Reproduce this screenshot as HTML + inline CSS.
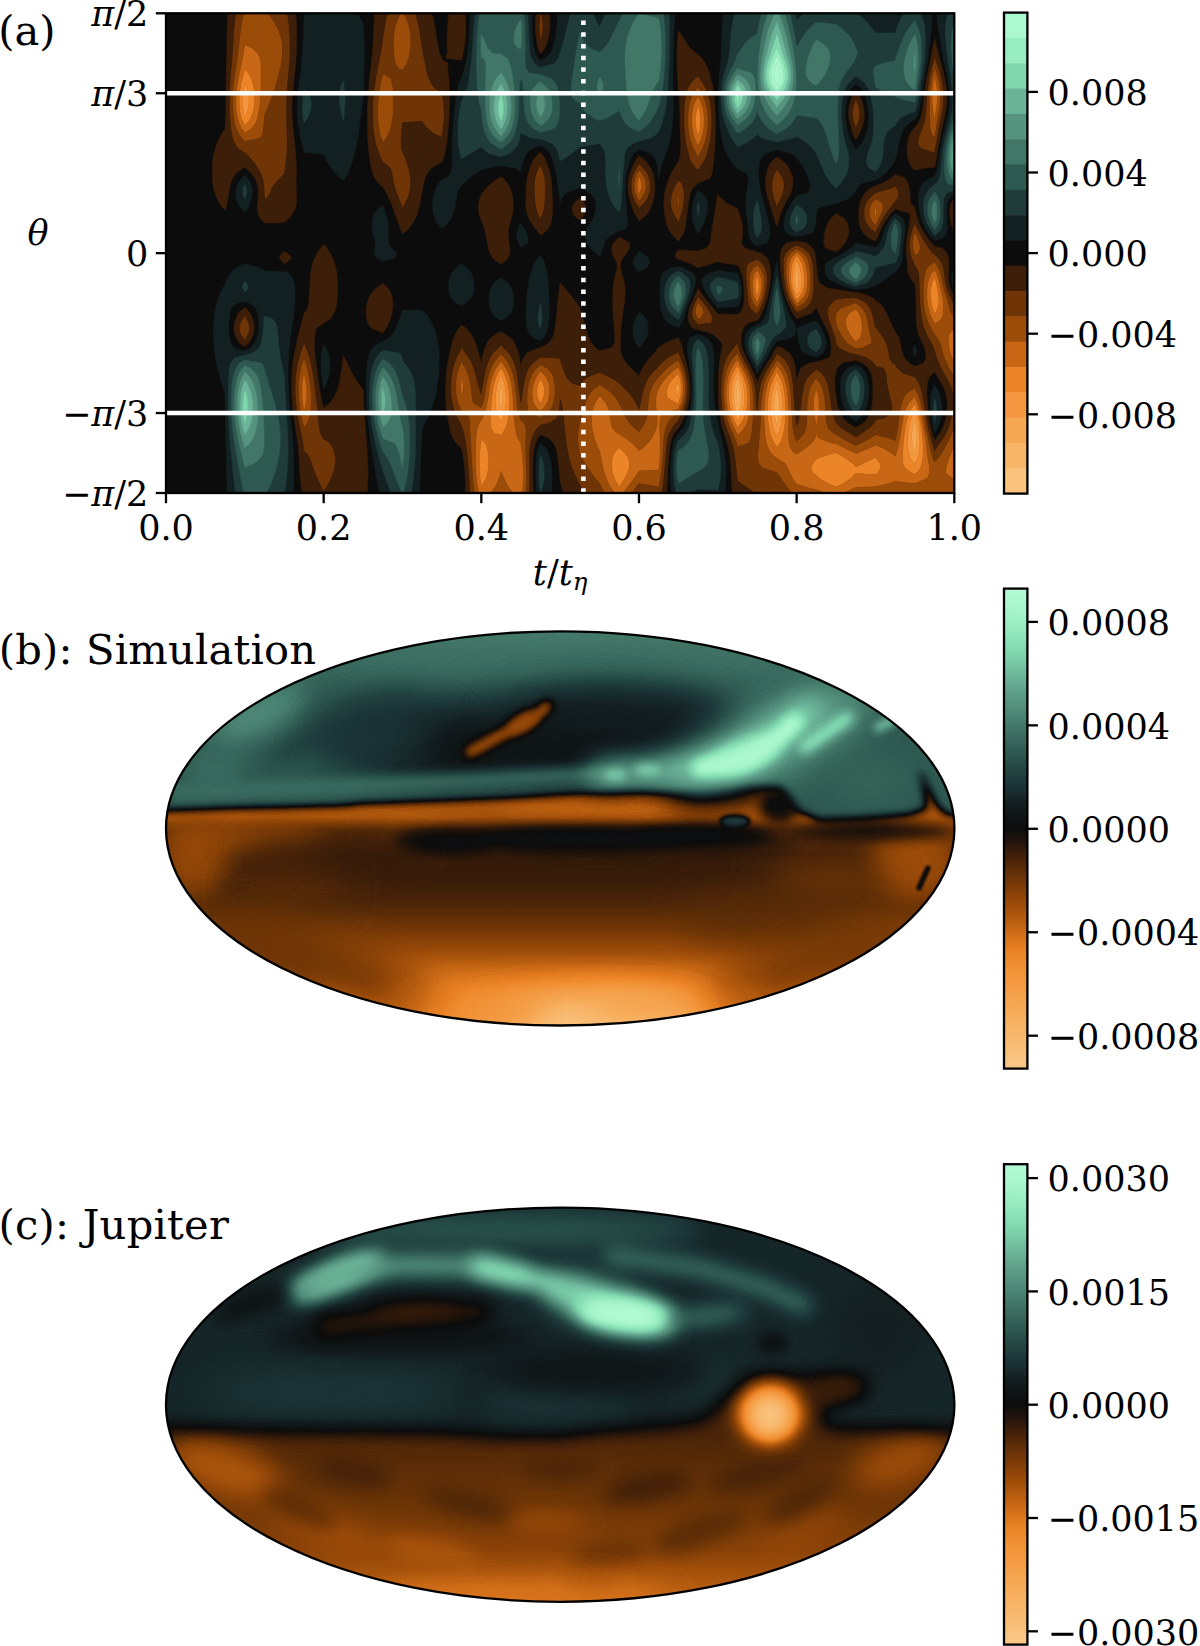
<!DOCTYPE html>
<html lang="en"><head><meta charset="utf-8"><title>Figure</title>
<style>html,body{margin:0;padding:0;background:#fff}svg{display:block}</style></head>
<body>
<svg width="1200" height="1646" viewBox="0 0 1200 1646">
<rect width="1200" height="1646" fill="#fff"/>
<defs>
<linearGradient id="gb" x1="0" y1="0" x2="0" y2="1"><stop offset="0.0000" stop-color="#b5fbd5"/><stop offset="0.0250" stop-color="#adf8cf"/><stop offset="0.0500" stop-color="#a4f4c9"/><stop offset="0.0750" stop-color="#99edc1"/><stop offset="0.1000" stop-color="#8ee4ba"/><stop offset="0.1250" stop-color="#83d9b1"/><stop offset="0.1500" stop-color="#79cca7"/><stop offset="0.1750" stop-color="#6fbb9d"/><stop offset="0.2000" stop-color="#65a991"/><stop offset="0.2250" stop-color="#5b9a85"/><stop offset="0.2500" stop-color="#518d7a"/><stop offset="0.2750" stop-color="#477f6e"/><stop offset="0.3000" stop-color="#3e7063"/><stop offset="0.3250" stop-color="#356258"/><stop offset="0.3500" stop-color="#2c544d"/><stop offset="0.3750" stop-color="#234642"/><stop offset="0.4000" stop-color="#1e393a"/><stop offset="0.4250" stop-color="#182c2e"/><stop offset="0.4500" stop-color="#131e20"/><stop offset="0.4750" stop-color="#0f1416"/><stop offset="0.5000" stop-color="#0c0c0c"/><stop offset="0.5250" stop-color="#21130b"/><stop offset="0.5500" stop-color="#391d09"/><stop offset="0.5750" stop-color="#532808"/><stop offset="0.6000" stop-color="#6a3307"/><stop offset="0.6250" stop-color="#803d07"/><stop offset="0.6500" stop-color="#964808"/><stop offset="0.6750" stop-color="#aa550c"/><stop offset="0.7000" stop-color="#bf6213"/><stop offset="0.7250" stop-color="#d5721b"/><stop offset="0.7500" stop-color="#e67f23"/><stop offset="0.7750" stop-color="#ee8a2e"/><stop offset="0.8000" stop-color="#f2943a"/><stop offset="0.8250" stop-color="#f49b43"/><stop offset="0.8500" stop-color="#f5a24c"/><stop offset="0.8750" stop-color="#f6a956"/><stop offset="0.9000" stop-color="#f8b060"/><stop offset="0.9250" stop-color="#f8b66a"/><stop offset="0.9500" stop-color="#f9bc74"/><stop offset="0.9750" stop-color="#fac27e"/><stop offset="1.0000" stop-color="#fac888"/></linearGradient>
<linearGradient id="gc" x1="0" y1="0" x2="0" y2="1"><stop offset="0.0000" stop-color="#b5fbd5"/><stop offset="0.0250" stop-color="#adf8cf"/><stop offset="0.0500" stop-color="#a4f4c9"/><stop offset="0.0750" stop-color="#99edc1"/><stop offset="0.1000" stop-color="#8ee4ba"/><stop offset="0.1250" stop-color="#83d9b1"/><stop offset="0.1500" stop-color="#79cca7"/><stop offset="0.1750" stop-color="#6fbb9d"/><stop offset="0.2000" stop-color="#65a991"/><stop offset="0.2250" stop-color="#5b9a85"/><stop offset="0.2500" stop-color="#518d7a"/><stop offset="0.2750" stop-color="#477f6e"/><stop offset="0.3000" stop-color="#3e7063"/><stop offset="0.3250" stop-color="#356258"/><stop offset="0.3500" stop-color="#2c544d"/><stop offset="0.3750" stop-color="#234642"/><stop offset="0.4000" stop-color="#1e393a"/><stop offset="0.4250" stop-color="#182c2e"/><stop offset="0.4500" stop-color="#131e20"/><stop offset="0.4750" stop-color="#0f1416"/><stop offset="0.5000" stop-color="#0c0c0c"/><stop offset="0.5250" stop-color="#21130b"/><stop offset="0.5500" stop-color="#391d09"/><stop offset="0.5750" stop-color="#532808"/><stop offset="0.6000" stop-color="#6a3307"/><stop offset="0.6250" stop-color="#803d07"/><stop offset="0.6500" stop-color="#964808"/><stop offset="0.6750" stop-color="#aa550c"/><stop offset="0.7000" stop-color="#bf6213"/><stop offset="0.7250" stop-color="#d5721b"/><stop offset="0.7500" stop-color="#e67f23"/><stop offset="0.7750" stop-color="#ee8a2e"/><stop offset="0.8000" stop-color="#f2943a"/><stop offset="0.8250" stop-color="#f49b43"/><stop offset="0.8500" stop-color="#f5a24c"/><stop offset="0.8750" stop-color="#f6a956"/><stop offset="0.9000" stop-color="#f8b060"/><stop offset="0.9250" stop-color="#f8b66a"/><stop offset="0.9500" stop-color="#f9bc74"/><stop offset="0.9750" stop-color="#fac27e"/><stop offset="1.0000" stop-color="#fac888"/></linearGradient>
<filter id="cm" x="0" y="0" width="1" height="1" color-interpolation-filters="sRGB"><feComponentTransfer><feFuncR type="table" tableValues="0.980 0.979 0.978 0.977 0.975 0.974 0.973 0.970 0.967 0.963 0.959 0.956 0.952 0.947 0.938 0.929 0.904 0.868 0.815 0.761 0.707 0.657 0.608 0.557 0.504 0.450 0.395 0.338 0.276 0.212 0.149 0.098 0.047 0.054 0.062 0.071 0.084 0.098 0.111 0.124 0.137 0.158 0.179 0.202 0.224 0.247 0.271 0.294 0.318 0.342 0.366 0.390 0.415 0.441 0.465 0.489 0.515 0.542 0.568 0.594 0.621 0.647 0.670 0.690 0.710"/><feFuncG type="table" tableValues="0.784 0.770 0.755 0.740 0.725 0.711 0.696 0.680 0.663 0.646 0.628 0.611 0.594 0.575 0.551 0.526 0.499 0.469 0.430 0.393 0.358 0.326 0.295 0.267 0.240 0.215 0.191 0.165 0.134 0.108 0.084 0.065 0.047 0.067 0.088 0.112 0.145 0.178 0.210 0.242 0.275 0.310 0.345 0.379 0.413 0.448 0.484 0.519 0.551 0.584 0.617 0.653 0.697 0.740 0.783 0.826 0.853 0.879 0.903 0.925 0.943 0.958 0.969 0.977 0.984"/><feFuncB type="table" tableValues="0.533 0.509 0.484 0.460 0.435 0.411 0.386 0.362 0.337 0.313 0.289 0.267 0.245 0.221 0.191 0.160 0.136 0.117 0.097 0.078 0.058 0.046 0.036 0.030 0.028 0.027 0.027 0.029 0.034 0.037 0.040 0.043 0.047 0.070 0.094 0.120 0.153 0.186 0.217 0.238 0.259 0.285 0.311 0.339 0.367 0.395 0.422 0.449 0.477 0.505 0.534 0.563 0.592 0.621 0.645 0.670 0.692 0.715 0.735 0.754 0.773 0.792 0.808 0.822 0.835"/></feComponentTransfer></filter><filter id="b1_5" filterUnits="userSpaceOnUse" x="100" y="590" width="920" height="1056" color-interpolation-filters="sRGB"><feGaussianBlur stdDeviation="1.5"/></filter><filter id="b2_5" filterUnits="userSpaceOnUse" x="100" y="590" width="920" height="1056" color-interpolation-filters="sRGB"><feGaussianBlur stdDeviation="2.5"/></filter><filter id="b4" filterUnits="userSpaceOnUse" x="100" y="590" width="920" height="1056" color-interpolation-filters="sRGB"><feGaussianBlur stdDeviation="4"/></filter><filter id="b6" filterUnits="userSpaceOnUse" x="100" y="590" width="920" height="1056" color-interpolation-filters="sRGB"><feGaussianBlur stdDeviation="6"/></filter><filter id="b9" filterUnits="userSpaceOnUse" x="100" y="590" width="920" height="1056" color-interpolation-filters="sRGB"><feGaussianBlur stdDeviation="9"/></filter><filter id="b13" filterUnits="userSpaceOnUse" x="100" y="590" width="920" height="1056" color-interpolation-filters="sRGB"><feGaussianBlur stdDeviation="13"/></filter><filter id="b18" filterUnits="userSpaceOnUse" x="100" y="590" width="920" height="1056" color-interpolation-filters="sRGB"><feGaussianBlur stdDeviation="18"/></filter><filter id="b26" filterUnits="userSpaceOnUse" x="100" y="590" width="920" height="1056" color-interpolation-filters="sRGB"><feGaussianBlur stdDeviation="26"/></filter><filter id="b36" filterUnits="userSpaceOnUse" x="100" y="590" width="920" height="1056" color-interpolation-filters="sRGB"><feGaussianBlur stdDeviation="36"/></filter>
</defs>
<rect x="166.0" y="13.3" width="788.3" height="479.7" fill="#0c0c0c"/>
<path d="M736.8 388.1L737.5 384.9L738.3 388.1L739.0 393.1L739.0 398.1L738.3 403.1L737.5 405.9L736.8 403.1L736.2 398.1L736.2 393.1Z" fill="#f8b568" stroke="#f8b568" stroke-width="0.6" fill-rule="evenodd"/>
<path d="M796.6 268.1L796.6 268.0L796.7 268.1L798.0 273.1L798.7 278.1L798.7 283.1L797.5 288.1L796.6 289.9L796.1 288.1L795.2 283.1L795.1 278.1L795.6 273.1ZM737.0 378.1L737.5 376.9L738.1 378.1L739.9 383.1L741.1 388.1L741.8 393.1L741.9 398.1L741.4 403.1L740.2 408.1L738.2 413.1L737.5 414.3L737.0 413.1L735.3 408.1L734.3 403.1L733.7 398.1L733.7 393.1L734.1 388.1L735.2 383.1ZM737.5 384.9L736.8 388.1L736.2 393.1L736.2 398.1L736.8 403.1L737.5 405.9L738.3 403.1L739.0 398.1L739.0 393.1L738.3 388.1ZM500.2 388.1L501.0 384.7L501.8 388.1L502.5 393.1L502.6 398.1L502.2 403.1L501.3 408.1L501.0 408.9L500.7 408.1L499.7 403.1L499.3 398.1L499.5 393.1ZM776.7 388.1L776.9 387.4L777.2 388.1L778.4 393.1L779.2 398.1L779.6 403.1L779.7 408.1L779.4 413.1L778.7 418.0L777.7 423.0L776.9 425.5L776.2 423.0L775.0 418.0L774.3 413.1L774.0 408.1L774.0 403.1L774.5 398.1L775.3 393.1ZM913.7 423.0L914.9 419.7L915.6 423.0L916.4 428.0L916.9 433.0L917.0 438.0L916.8 443.0L916.1 448.0L914.9 452.6L913.2 448.0L912.2 443.0L911.8 438.0L911.9 433.0L912.5 428.0Z" fill="#f6a753" stroke="#f6a753" stroke-width="0.6" fill-rule="evenodd"/>
<path d="M243.7 88.3L244.8 83.4L247.0 88.3L248.4 93.2L249.0 98.2L249.0 103.2L248.3 108.2L246.7 113.2L244.8 116.8L243.7 113.2L242.8 108.2L242.4 103.2L242.4 98.2L242.9 93.2ZM795.2 263.1L796.6 260.3L798.3 263.1L800.0 268.1L801.1 273.1L801.7 278.1L801.7 283.1L800.8 288.1L798.5 293.1L796.6 295.6L795.5 293.1L793.9 288.1L793.1 283.1L792.8 278.1L793.2 273.1L793.9 268.1ZM796.6 268.0L796.6 268.1L795.6 273.1L795.1 278.1L795.2 283.1L796.1 288.1L796.6 289.9L797.5 288.1L798.7 283.1L798.7 278.1L798.0 273.1L796.7 268.1ZM934.2 293.1L934.6 290.0L934.9 293.1L934.9 298.1L934.6 299.9L934.3 298.1ZM736.1 373.1L737.5 370.8L738.7 373.1L741.0 378.1L742.8 383.1L743.9 388.1L744.6 393.1L744.7 398.1L744.4 403.1L743.5 408.1L742.0 413.1L739.6 418.0L737.5 421.0L736.1 418.0L734.1 413.1L732.6 408.1L731.7 403.1L731.2 398.1L731.1 393.1L731.5 388.1L732.4 383.1L733.9 378.1ZM737.5 376.9L737.0 378.1L735.2 383.1L734.1 388.1L733.7 393.1L733.7 398.1L734.3 403.1L735.3 408.1L737.0 413.1L737.5 414.3L738.2 413.1L740.2 408.1L741.4 403.1L741.9 398.1L741.8 393.1L741.1 388.1L739.9 383.1L738.1 378.1ZM499.6 378.1L501.0 375.1L502.5 378.1L504.2 383.1L505.3 388.1L505.9 393.1L506.1 398.1L505.9 403.1L505.3 408.1L504.4 413.1L502.8 418.0L501.0 421.7L498.6 418.0L496.7 413.1L495.8 408.1L495.5 403.1L495.6 398.1L495.9 393.1L496.6 388.1L497.8 383.1ZM501.0 384.7L500.2 388.1L499.5 393.1L499.3 398.1L499.7 403.1L500.7 408.1L501.0 408.9L501.3 408.1L502.2 403.1L502.6 398.1L502.5 393.1L501.8 388.1ZM677.5 383.1L678.4 381.8L678.7 383.1L679.1 388.1L678.8 393.1L678.4 395.4L676.4 393.1L675.8 388.1ZM775.0 383.1L776.9 378.8L778.8 383.1L780.4 388.1L781.5 393.1L782.2 398.1L782.6 403.1L782.7 408.1L782.6 413.1L782.1 418.0L781.4 423.0L780.3 428.0L778.6 433.0L776.9 436.6L775.2 433.0L773.4 428.0L772.2 423.0L771.4 418.0L770.9 413.1L770.7 408.1L770.8 403.1L771.2 398.1L772.1 393.1L773.3 388.1ZM776.9 387.4L776.7 388.1L775.3 393.1L774.5 398.1L774.0 403.1L774.0 408.1L774.3 413.1L775.0 418.0L776.2 423.0L776.9 425.5L777.7 423.0L778.7 418.0L779.4 413.1L779.7 408.1L779.6 403.1L779.2 398.1L778.4 393.1L777.2 388.1ZM913.7 413.0L914.9 411.2L915.5 413.1L916.9 418.0L918.0 423.0L918.8 428.0L919.4 433.0L919.8 438.0L919.9 443.0L919.6 448.0L918.9 453.0L917.7 458.0L915.6 463.0L914.9 464.2L913.7 463.0L910.4 458.0L908.8 453.0L908.0 448.0L907.7 443.0L907.8 438.0L908.2 433.0L908.9 428.0L909.9 423.0L911.4 418.0ZM914.9 419.7L913.7 423.0L912.5 428.0L911.9 433.0L911.8 438.0L912.2 443.0L913.2 448.0L914.9 452.6L916.1 448.0L916.8 443.0L917.0 438.0L916.9 433.0L916.4 428.0L915.6 423.0Z" fill="#f39840" stroke="#f39840" stroke-width="0.6" fill-rule="evenodd"/>
<path d="M243.6 73.3L244.8 68.7L248.5 73.3L251.2 78.3L252.9 83.3L254.0 88.3L254.6 93.2L254.7 98.2L254.5 103.2L253.9 108.2L252.7 113.2L250.8 118.2L247.4 123.2L244.8 125.6L243.5 123.2L241.4 118.2L240.1 113.2L239.4 108.2L239.1 103.2L239.1 98.2L239.5 93.2L240.2 88.3L241.1 83.3L242.3 78.3ZM244.8 83.4L243.7 88.3L242.9 93.2L242.4 98.2L242.4 103.2L242.8 108.2L243.7 113.2L244.8 116.8L246.7 113.2L248.3 108.2L249.0 103.2L249.0 98.2L248.4 93.2L247.0 88.3ZM697.2 108.2L698.1 105.8L699.0 108.2L700.1 113.2L700.6 118.2L700.6 123.2L700.0 128.2L698.9 133.2L698.1 135.5L697.3 133.2L696.1 128.2L695.5 123.2L695.5 118.2L696.0 113.2ZM794.4 258.1L796.6 255.8L799.2 258.1L801.9 263.1L803.3 268.1L804.2 273.1L804.8 278.1L804.7 283.1L804.0 288.1L802.2 293.1L798.8 298.1L796.6 300.0L795.5 298.1L793.3 293.1L791.8 288.1L790.9 283.1L790.6 278.1L790.7 273.1L791.2 268.1L792.2 263.1ZM796.6 260.3L795.2 263.1L793.9 268.1L793.2 273.1L792.8 278.1L793.1 283.1L793.9 288.1L795.5 293.1L796.6 295.6L798.5 293.1L800.8 288.1L801.7 283.1L801.7 278.1L801.1 273.1L800.0 268.1L798.3 263.1ZM756.3 278.1L757.2 276.1L758.1 278.1L759.1 283.1L759.1 288.1L758.3 293.1L757.2 296.6L756.0 293.1L755.2 288.1L755.3 283.1ZM934.0 278.1L934.6 277.3L935.0 278.1L936.5 283.1L937.6 288.1L938.4 293.1L938.9 298.1L938.8 303.1L937.7 308.1L935.3 313.1L934.6 314.0L934.2 313.1L932.4 308.1L931.3 303.1L930.6 298.1L930.5 293.1L930.9 288.1L932.0 283.1ZM934.6 290.0L934.2 293.1L934.3 298.1L934.6 299.9L934.9 298.1L934.9 293.1ZM855.6 323.1L855.8 322.7L855.8 323.1L855.8 324.3ZM500.9 368.1L501.0 368.0L501.1 368.1L504.2 373.1L506.3 378.1L507.7 383.1L508.7 388.1L509.3 393.1L509.6 398.1L509.7 403.1L509.4 408.1L509.1 413.1L508.5 418.0L507.5 423.0L505.7 428.0L502.8 433.0L501.0 435.3L493.9 433.0L491.0 428.0L490.5 423.0L490.5 418.0L490.6 413.1L490.9 408.1L491.3 403.1L491.8 398.1L492.3 393.1L493.0 388.1L494.1 383.1L495.6 378.1L497.8 373.1ZM501.0 375.1L499.6 378.1L497.8 383.1L496.6 388.1L495.9 393.1L495.6 398.1L495.5 403.1L495.8 408.1L496.7 413.0L498.6 418.0L501.0 421.7L502.8 418.0L504.4 413.1L505.3 408.1L505.9 403.1L506.1 398.1L505.9 393.1L505.3 388.1L504.2 383.1L502.5 378.1ZM735.4 368.1L737.5 365.3L739.1 368.1L741.7 373.1L744.0 378.1L745.7 383.1L746.8 388.1L747.4 393.1L747.6 398.1L747.4 403.1L746.9 408.1L745.8 413.1L744.1 418.0L741.4 423.0L737.5 427.5L735.2 423.0L733.0 418.0L731.2 413.1L730.0 408.1L729.1 403.1L728.7 398.1L728.6 393.1L728.9 388.1L729.6 383.1L730.8 378.1L732.7 373.1ZM737.5 370.8L736.1 373.1L733.9 378.1L732.4 383.1L731.5 388.1L731.1 393.1L731.2 398.1L731.7 403.1L732.6 408.1L734.1 413.1L736.1 418.0L737.5 421.0L739.6 418.0L742.0 413.1L743.5 408.1L744.4 403.1L744.7 398.1L744.6 393.1L743.9 388.1L742.8 383.1L741.0 378.1L738.7 373.1ZM776.2 373.1L776.9 371.9L777.8 373.1L780.5 378.1L782.4 383.1L783.7 388.1L784.6 393.1L785.2 398.1L785.6 403.1L785.7 408.1L785.7 413.1L785.5 418.0L785.1 423.0L784.5 428.0L783.6 433.0L782.4 438.0L780.4 443.0L776.9 447.2L774.0 443.0L771.6 438.0L770.0 433.0L768.9 428.0L768.2 423.0L767.7 418.0L767.5 413.1L767.4 408.1L767.6 403.1L768.0 398.1L768.8 393.1L769.9 388.1L771.5 383.1L773.6 378.1ZM776.9 378.8L775.0 383.1L773.3 388.1L772.1 393.1L771.2 398.1L770.8 403.1L770.7 408.1L770.9 413.1L771.4 418.0L772.2 423.0L773.4 428.0L775.2 433.0L776.9 436.6L778.6 433.0L780.3 428.0L781.4 423.0L782.1 418.0L782.6 413.1L782.7 408.1L782.6 403.1L782.2 398.1L781.5 393.1L780.4 388.1L778.8 383.1ZM673.3 378.1L678.4 373.2L679.9 378.1L680.8 383.1L681.2 388.1L681.0 393.1L680.2 398.1L678.6 403.1L678.4 403.5L676.0 403.1L667.5 398.1L666.2 393.1L667.3 388.1L669.6 383.1ZM678.4 381.8L677.5 383.1L675.8 388.1L676.4 393.1L678.4 395.4L678.8 393.1L679.1 388.1L678.7 383.1ZM538.4 383.1L540.4 378.9L542.9 383.1L544.3 388.1L544.4 393.1L543.4 398.1L540.9 403.1L540.4 403.7L539.9 403.1L537.6 398.1L536.8 393.1L537.1 388.1ZM911.6 408.1L914.9 403.9L916.5 408.1L918.1 413.1L919.4 418.0L920.4 423.0L921.3 428.0L922.0 433.0L922.6 438.0L923.0 443.0L923.2 448.0L923.0 453.0L922.8 458.0L922.2 463.0L920.6 468.0L916.7 473.0L914.9 474.3L911.5 473.0L904.9 468.0L902.8 463.0L902.4 458.0L902.5 453.0L902.9 448.0L903.3 443.0L903.8 438.0L904.4 433.0L905.2 428.0L906.0 423.0L907.3 418.0L909.0 413.0ZM914.9 411.2L913.7 413.1L911.4 418.0L909.9 423.0L908.9 428.0L908.2 433.0L907.8 438.0L907.7 443.0L908.0 448.0L908.8 453.0L910.4 458.0L913.7 463.0L914.9 464.2L915.6 463.0L917.7 458.0L918.9 453.0L919.6 448.0L919.9 443.0L919.8 438.0L919.4 433.0L918.8 428.0L918.0 423.0L916.9 418.0L915.5 413.1ZM480.7 443.0L481.3 439.5L485.7 443.0L487.3 448.0L488.2 453.0L488.7 458.0L488.8 463.0L488.5 468.0L487.6 473.0L486.0 478.0L483.5 483.0L481.3 485.9L480.7 483.0L480.0 478.0L479.6 473.0L479.3 468.0L479.3 463.0L479.5 458.0L479.7 453.0L480.2 448.0ZM618.9 448.0L619.3 447.8L619.6 448.0L624.9 453.0L628.3 458.0L629.6 463.0L629.2 468.0L627.5 473.0L625.0 478.0L621.9 483.0L619.3 486.7L616.7 483.0L614.2 478.0L612.6 473.0L611.7 468.0L611.6 463.0L612.2 458.0L614.2 453.0ZM834.1 453.0L836.1 452.7L836.6 453.0L845.3 458.0L852.6 463.0L855.8 466.9L863.8 463.0L874.2 458.0L875.5 457.4L876.2 458.0L880.0 463.0L880.8 468.0L877.7 473.0L875.5 474.5L855.8 473.6L851.6 478.0L843.9 483.0L836.1 487.1L826.8 483.0L818.8 478.0L816.3 475.4L813.0 473.0L810.9 468.0L813.0 463.0L816.3 459.6L818.2 458.0Z" fill="#ec8528" stroke="#ec8528" stroke-width="0.6" fill-rule="evenodd"/>
<path d="M244.2 48.3L244.8 44.5L252.7 48.3L257.9 53.3L260.0 58.3L260.9 63.3L261.2 68.3L261.2 73.3L261.2 78.3L261.1 83.3L261.0 88.3L260.7 93.2L260.4 98.2L260.1 103.2L259.5 108.2L258.7 113.2L257.6 118.2L255.7 123.2L252.3 128.2L244.8 133.0L241.3 128.2L239.0 123.2L237.5 118.2L236.6 113.2L236.0 108.2L235.8 103.2L235.9 98.2L236.1 93.2L236.7 88.3L237.4 83.3L238.3 78.3L239.3 73.3L240.3 68.3L241.4 63.3L242.4 58.3L243.4 53.3ZM244.8 68.7L243.6 73.3L242.3 78.3L241.1 83.3L240.2 88.3L239.5 93.2L239.1 98.2L239.1 103.2L239.4 108.2L240.1 113.2L241.4 118.2L243.5 123.2L244.8 125.6L247.4 123.2L250.8 118.2L252.7 113.2L253.9 108.2L254.5 103.2L254.7 98.2L254.6 93.2L254.0 88.3L252.9 83.3L251.2 78.3L248.5 73.3ZM934.2 78.3L934.6 76.7L935.1 78.3L936.3 83.3L937.1 88.3L937.5 93.2L937.6 98.2L937.2 103.2L936.6 108.2L935.7 113.2L934.8 118.2L934.6 119.6L934.3 118.2L933.2 113.2L932.5 108.2L932.1 103.2L932.0 98.2L932.1 93.2L932.5 88.3L933.2 83.3ZM696.8 98.2L698.1 96.2L699.3 98.2L701.5 103.2L703.0 108.2L703.9 113.2L704.3 118.2L704.3 123.2L703.9 128.2L703.0 133.2L701.6 138.2L699.5 143.2L698.1 146.0L696.6 143.2L694.5 138.2L693.1 133.2L692.1 128.2L691.6 123.2L691.6 118.2L692.0 113.2L692.8 108.2L694.3 103.2ZM698.1 105.8L697.2 108.2L696.0 113.2L695.5 118.2L695.5 123.2L696.1 128.2L697.3 133.2L698.1 135.5L698.9 133.2L700.0 128.2L700.6 123.2L700.6 118.2L700.1 113.2L699.0 108.2ZM382.6 108.2L382.8 104.2L383.2 108.2L383.2 113.2L382.8 116.4L382.6 113.2ZM638.2 178.2L639.0 176.5L640.1 178.2L641.7 183.2L641.6 188.2L639.8 193.2L639.0 194.3L638.5 193.2L637.1 188.2L637.1 183.2ZM874.9 208.2L875.5 207.0L876.3 208.2L876.6 213.2L875.5 216.9L874.3 213.2ZM795.1 253.2L796.6 252.2L798.3 253.2L803.4 258.1L805.4 263.1L806.6 268.1L807.3 273.1L807.8 278.1L807.8 283.1L807.3 288.1L805.9 293.1L803.3 298.1L797.9 303.1L796.6 303.9L796.1 303.1L793.1 298.1L791.1 293.1L789.7 288.1L788.8 283.1L788.4 278.1L788.3 273.1L788.6 268.1L789.2 263.1L790.8 258.1ZM796.6 255.8L794.4 258.1L792.2 263.1L791.2 268.1L790.7 273.1L790.6 278.1L790.9 283.1L791.8 288.1L793.3 293.1L795.5 298.1L796.6 300.0L798.8 298.1L802.2 293.1L804.0 288.1L804.7 283.1L804.8 278.1L804.2 273.1L803.3 268.1L801.9 263.1L799.2 258.1ZM754.8 273.1L757.2 270.1L759.3 273.1L761.2 278.1L761.8 283.1L761.6 288.1L760.8 293.1L759.4 298.1L757.2 303.1L754.4 298.1L753.1 293.1L752.5 288.1L752.3 283.1L752.9 278.1ZM757.2 276.1L756.3 278.1L755.3 283.1L755.2 288.1L756.0 293.1L757.2 296.6L758.3 293.1L759.1 288.1L759.1 283.1L758.1 278.1ZM931.4 273.1L934.6 269.6L936.5 273.1L938.3 278.1L939.6 283.1L940.7 288.1L941.9 293.1L942.9 298.1L943.5 303.1L943.5 308.1L943.3 313.1L942.3 318.1L936.6 323.1L934.6 323.6L934.3 323.1L931.6 318.1L929.7 313.1L928.3 308.1L927.4 303.1L926.9 298.1L926.8 293.1L927.1 288.1L927.7 283.1L929.0 278.1ZM934.6 277.3L934.0 278.1L932.0 283.1L930.9 288.1L930.5 293.1L930.6 298.1L931.3 303.1L932.4 308.1L934.2 313.1L934.6 314.0L935.3 313.1L937.7 308.1L938.8 303.1L938.9 298.1L938.4 293.1L937.6 288.1L936.5 283.1L935.0 278.1ZM849.2 313.1L855.8 309.1L859.0 313.1L861.1 318.1L862.0 323.1L862.3 328.1L861.8 333.1L860.1 338.1L855.8 341.5L852.2 338.1L848.9 333.1L846.7 328.1L845.6 323.1L846.0 318.1ZM855.8 322.7L855.6 323.1L855.8 324.3L855.8 323.1ZM949.4 333.1L954.3 329.0L954.3 333.1L954.3 338.1L954.3 343.1L954.3 348.1L954.3 353.1L954.3 358.1L954.3 362.8L952.0 358.1L950.2 353.1L949.1 348.1L948.5 343.1L948.4 338.1ZM499.6 363.1L501.0 361.4L502.5 363.1L506.0 368.1L508.4 373.1L510.1 378.1L511.3 383.1L512.1 388.1L512.7 393.1L513.1 398.1L513.4 403.1L513.5 408.1L513.9 413.1L514.3 418.0L514.7 423.0L515.4 428.0L516.2 433.0L517.7 438.0L520.7 442.5L520.8 443.0L521.5 448.0L522.1 453.0L522.6 458.0L523.0 463.0L523.3 468.0L523.5 473.0L523.5 478.0L523.3 483.0L522.9 488.0L522.2 493.0L520.7 493.0L513.2 493.0L509.0 488.0L506.0 483.0L503.7 478.0L501.7 473.0L501.0 471.3L500.6 473.0L499.2 478.0L497.3 483.0L494.6 488.0L490.6 493.0L481.3 493.0L478.9 493.0L477.7 488.0L476.9 483.0L476.3 478.0L475.9 473.0L475.7 468.0L475.5 463.0L475.5 458.0L475.5 453.0L475.5 448.0L475.7 443.0L476.0 438.0L476.4 433.0L477.3 428.0L479.2 423.0L481.3 419.9L482.4 418.0L484.5 413.1L486.0 408.1L487.1 403.1L488.0 398.1L488.7 393.1L489.4 388.1L490.4 383.1L491.7 378.1L493.5 373.1L495.9 368.1ZM501.0 368.0L500.9 368.1L497.8 373.1L495.6 378.1L494.1 383.1L493.0 388.1L492.3 393.1L491.8 398.1L491.3 403.1L490.9 408.1L490.6 413.1L490.5 418.0L490.5 423.0L491.0 428.0L493.9 433.0L501.0 435.3L502.8 433.0L505.7 428.0L507.5 423.0L508.5 418.0L509.1 413.1L509.4 408.1L509.7 403.1L509.6 398.1L509.3 393.1L508.7 388.1L507.7 383.1L506.3 378.1L504.2 373.1L501.1 368.1ZM481.3 439.5L480.7 443.0L480.2 448.0L479.7 453.0L479.5 458.0L479.3 463.0L479.3 468.0L479.6 473.0L480.0 478.0L480.7 483.0L481.3 485.9L483.5 483.0L486.0 478.0L487.6 473.0L488.5 468.0L488.8 463.0L488.7 458.0L488.2 453.0L487.3 448.0L485.7 443.0ZM734.5 363.1L737.5 359.6L739.4 363.1L742.2 368.1L744.8 373.1L746.9 378.1L748.6 383.1L749.6 388.1L750.2 393.1L750.5 398.1L750.5 403.1L750.2 408.1L749.6 413.1L748.7 418.0L747.1 423.0L744.6 428.0L740.2 433.0L737.5 435.1L736.6 433.0L734.0 428.0L731.7 423.0L729.8 418.0L728.3 413.1L727.3 408.1L726.5 403.1L726.1 398.1L726.1 393.1L726.3 388.1L726.8 383.1L727.7 378.1L729.2 373.1L731.3 368.1ZM737.5 365.3L735.4 368.1L732.7 373.1L730.8 378.1L729.6 383.1L728.9 388.1L728.6 393.1L728.7 398.1L729.1 403.1L730.0 408.1L731.2 413.1L733.0 418.0L735.2 423.0L737.5 427.5L741.4 423.0L744.1 418.0L745.8 413.1L746.9 408.1L747.4 403.1L747.6 398.1L747.4 393.1L746.8 388.1L745.7 383.1L744.0 378.1L741.7 373.1L739.1 368.1ZM676.7 368.1L678.4 366.9L678.9 368.1L680.9 373.1L682.2 378.1L683.0 383.1L683.3 388.1L683.2 393.1L682.5 398.1L681.1 403.1L678.9 408.1L678.4 409.0L662.9 413.0L660.2 418.0L659.8 423.0L659.8 428.0L659.9 433.0L660.1 438.0L660.2 443.0L660.2 448.0L660.2 453.0L659.9 458.0L659.5 463.0L659.0 468.0L658.7 470.0L639.0 470.9L637.8 473.0L634.4 478.0L630.6 483.0L626.9 488.0L622.9 493.0L619.3 493.0L614.9 493.0L610.9 488.0L608.1 483.0L605.9 478.0L604.2 473.0L603.0 468.0L601.9 463.0L601.0 458.0L600.0 453.0L599.6 451.6L598.1 448.0L596.1 443.0L594.3 438.0L593.0 433.0L592.0 428.0L591.6 423.0L591.6 418.0L592.1 413.1L593.1 408.1L594.9 403.1L597.8 398.1L599.6 395.9L602.0 398.1L605.9 403.1L608.3 408.1L609.6 413.0L610.3 418.0L611.0 423.0L612.4 428.0L617.1 433.0L619.3 433.9L625.2 438.0L631.8 443.0L637.0 448.0L639.0 450.6L642.6 448.0L647.9 443.0L651.7 438.0L654.4 433.0L656.2 428.0L657.1 423.0L657.2 418.0L656.7 413.1L656.1 408.1L655.8 403.1L655.9 398.1L656.8 393.1L658.7 388.3L658.8 388.1L661.8 383.1L665.6 378.1L670.3 373.1ZM678.4 373.2L673.3 378.1L669.6 383.1L667.3 388.1L666.2 393.1L667.5 398.1L676.0 403.1L678.4 403.5L678.6 403.1L680.2 398.1L681.0 393.1L681.2 388.1L680.8 383.1L679.9 378.1ZM619.3 447.8L618.9 448.0L614.2 453.0L612.2 458.0L611.6 463.0L611.7 468.0L612.6 473.0L614.2 478.0L616.7 483.0L619.3 486.7L621.9 483.0L625.0 478.0L627.5 473.0L629.2 468.0L629.6 463.0L628.3 458.0L624.9 453.0L619.6 448.0ZM775.5 368.1L776.9 365.8L779.0 368.1L782.3 373.1L784.4 378.1L785.9 383.1L787.0 388.1L787.7 393.1L788.2 398.1L788.5 403.1L788.8 408.1L788.9 413.1L788.9 418.0L788.8 423.0L788.7 428.0L788.6 433.0L788.8 438.0L789.2 443.0L790.4 448.0L794.2 453.0L796.6 454.1L798.3 453.0L805.9 448.0L811.7 443.0L815.1 438.0L816.3 433.7L818.6 438.0L831.7 443.0L836.1 443.7L844.6 448.0L854.8 453.0L855.8 453.5L857.1 453.0L869.4 448.0L875.5 445.0L882.9 448.0L891.4 453.0L895.2 456.2L896.3 453.0L897.7 448.0L898.9 443.0L899.8 438.0L900.7 433.0L901.5 428.0L902.2 423.0L903.1 418.0L904.3 413.1L906.0 408.1L908.7 403.1L913.2 398.1L914.9 396.6L915.6 398.1L917.7 403.1L919.4 408.1L920.7 413.1L921.8 418.0L922.8 423.0L923.7 428.0L924.5 433.0L925.4 438.0L926.2 443.0L926.7 448.0L927.1 453.0L927.9 458.0L928.8 463.0L929.6 468.0L929.8 473.0L927.6 478.0L916.7 483.0L914.9 483.4L908.7 483.0L895.2 481.2L891.1 483.0L875.5 486.7L855.8 487.4L854.5 488.0L843.7 493.0L836.1 493.0L825.2 493.0L816.3 489.7L808.9 488.0L796.6 484.3L795.6 483.0L792.3 478.0L789.8 473.0L787.6 468.0L785.0 463.0L776.9 458.6L776.1 458.0L770.8 453.0L767.9 448.0L766.3 443.0L765.4 438.0L764.8 433.0L764.5 428.0L764.3 423.0L764.1 418.0L764.0 413.1L764.1 408.1L764.4 403.1L764.8 398.1L765.5 393.1L766.5 388.1L767.9 383.1L770.0 378.1L772.5 373.1ZM776.9 371.9L776.2 373.1L773.6 378.1L771.5 383.1L769.9 388.1L768.8 393.1L768.0 398.1L767.6 403.1L767.4 408.1L767.5 413.1L767.7 418.0L768.2 423.0L768.9 428.0L770.0 433.0L771.6 438.0L774.0 443.0L776.9 447.2L780.4 443.0L782.4 438.0L783.6 433.0L784.5 428.0L785.1 423.0L785.5 418.0L785.7 413.1L785.7 408.1L785.6 403.1L785.2 398.1L784.6 393.1L783.7 388.1L782.4 383.1L780.5 378.1L777.8 373.1ZM836.1 452.7L834.1 453.0L818.2 458.0L816.3 459.6L813.0 463.0L810.9 468.0L813.0 473.0L816.3 475.4L818.8 478.0L826.8 483.0L836.1 487.1L843.9 483.0L851.6 478.0L855.8 473.6L875.5 474.5L877.7 473.0L880.8 468.0L880.0 463.0L876.2 458.0L875.5 457.4L874.2 458.0L863.8 463.0L855.8 466.9L852.6 463.0L845.3 458.0L836.6 453.0ZM914.9 403.9L911.6 408.1L909.0 413.1L907.3 418.0L906.0 423.0L905.2 428.0L904.4 433.0L903.8 438.0L903.3 443.0L902.9 448.0L902.5 453.0L902.4 458.0L902.8 463.0L904.9 468.0L911.5 473.0L914.9 474.3L916.7 473.0L920.6 468.0L922.2 463.0L922.8 458.0L923.0 453.0L923.2 448.0L923.0 443.0L922.6 438.0L922.0 433.0L921.3 428.0L920.4 423.0L919.4 418.0L918.1 413.1L916.5 408.1ZM303.8 373.1L304.0 372.4L304.1 373.1L305.3 378.1L306.1 383.1L306.7 388.1L306.9 393.1L306.8 398.1L306.2 403.1L305.2 408.1L304.0 411.5L303.3 408.1L302.5 403.1L302.0 398.1L301.8 393.1L301.8 388.1L302.1 383.1L302.8 378.1ZM538.9 373.1L540.4 371.5L542.6 373.1L546.8 378.1L548.8 383.1L549.7 388.1L549.7 393.1L549.0 398.1L547.3 403.1L543.9 408.1L540.4 411.0L536.5 408.1L533.5 403.1L532.3 398.1L532.0 393.1L532.5 388.1L533.6 383.1L535.6 378.1ZM540.4 378.9L538.4 383.1L537.1 388.1L536.8 393.1L537.6 398.1L539.9 403.1L540.4 403.7L540.9 403.1L543.4 398.1L544.4 393.1L544.3 388.1L542.9 383.1ZM461.4 378.1L461.6 377.3L461.9 378.1L463.0 383.1L463.3 388.1L462.5 393.1L461.6 395.4L461.1 393.1L460.6 388.1L460.7 383.1ZM814.9 393.1L816.3 389.4L817.7 393.1L818.8 398.1L819.3 403.1L819.2 408.1L818.7 413.1L817.9 418.0L816.9 423.0L816.3 427.0L815.8 423.0L814.8 418.0L814.0 413.1L813.4 408.1L813.3 403.1L813.7 398.1ZM952.8 448.0L954.3 444.0L954.3 448.0L954.3 453.0L954.3 458.0L954.3 463.0L954.3 468.0L954.3 473.0L954.3 478.0L954.3 479.1L951.4 478.0L945.9 473.0L945.8 468.0L947.4 463.0L949.2 458.0L951.1 453.0Z" fill="#c86816" stroke="#c86816" stroke-width="0.6" fill-rule="evenodd"/>
<path d="M243.6 13.3L244.8 13.3L264.5 13.3L267.9 13.3L271.7 18.3L275.0 23.3L277.7 28.3L279.8 33.3L281.3 38.3L282.3 43.3L282.6 48.3L282.6 53.3L282.1 58.3L281.4 63.3L280.4 68.3L279.2 73.3L277.9 78.3L276.5 83.3L275.0 88.3L273.3 93.2L271.5 98.2L269.6 103.2L267.6 108.2L265.6 113.2L264.5 116.2L264.4 118.2L264.0 123.2L263.6 128.2L262.8 133.2L260.3 138.2L244.8 141.4L241.6 138.2L238.2 133.2L235.9 128.2L234.5 123.2L233.6 118.2L233.0 113.2L232.7 108.2L232.5 103.2L232.6 98.2L232.8 93.2L233.1 88.3L233.6 83.3L234.3 78.3L235.0 73.3L235.7 68.3L236.4 63.3L237.2 58.3L237.8 53.3L238.4 48.3L239.0 43.3L239.5 38.3L240.1 33.3L240.8 28.3L241.5 23.3L242.5 18.3ZM244.8 44.5L244.2 48.3L243.4 53.3L242.4 58.3L241.4 63.3L240.3 68.3L239.3 73.3L238.3 78.3L237.4 83.3L236.7 88.3L236.1 93.2L235.9 98.2L235.8 103.2L236.0 108.2L236.6 113.2L237.5 118.2L239.0 123.2L241.3 128.2L244.8 133.0L252.3 128.2L255.7 123.2L257.6 118.2L258.7 113.2L259.5 108.2L260.1 103.2L260.4 98.2L260.7 93.2L261.0 88.3L261.1 83.3L261.2 78.3L261.2 73.3L261.2 68.3L260.9 63.3L260.0 58.3L257.9 53.3L252.7 48.3ZM401.0 13.3L402.5 13.3L403.8 13.3L406.4 18.3L408.3 23.3L409.6 28.3L410.4 33.3L410.8 38.3L410.9 43.3L410.7 48.3L410.0 53.3L408.8 58.3L406.9 63.3L403.9 68.3L402.5 70.0L398.1 68.3L395.0 63.3L394.2 58.3L393.8 53.3L393.4 48.3L393.3 43.3L393.5 38.3L394.0 33.3L394.8 28.3L396.1 23.3L398.0 18.3ZM934.2 68.3L934.6 66.9L935.1 68.3L936.8 73.3L938.2 78.3L939.4 83.3L940.1 88.3L940.5 93.2L940.6 98.2L940.3 103.2L939.7 108.2L938.9 113.2L938.0 118.2L937.1 123.2L936.2 128.2L935.4 133.2L934.6 138.2L934.6 138.4L934.4 138.2L931.3 133.2L930.1 128.2L929.8 123.2L929.6 118.2L929.4 113.2L929.3 108.2L929.2 103.2L929.3 98.2L929.6 93.2L930.0 88.3L930.8 83.3L931.7 78.3L932.9 73.3ZM934.6 76.7L934.2 78.3L933.2 83.3L932.5 88.3L932.1 93.2L932.0 98.2L932.1 103.2L932.5 108.2L933.2 113.2L934.3 118.2L934.6 119.6L934.8 118.2L935.7 113.2L936.6 108.2L937.2 103.2L937.6 98.2L937.5 93.2L937.1 88.3L936.3 83.3L935.1 78.3ZM381.7 78.3L382.8 73.6L390.9 78.3L392.4 83.3L393.0 88.3L393.3 93.2L393.4 98.2L393.6 103.2L393.5 108.2L393.2 113.2L392.7 118.2L391.9 123.2L390.7 128.2L389.0 133.2L386.4 138.2L382.8 142.7L381.2 138.2L379.8 133.2L378.8 128.2L378.1 123.2L377.7 118.2L377.5 113.2L377.6 108.2L377.8 103.2L378.3 98.2L378.9 93.2L379.6 88.3L380.6 83.3ZM382.8 104.2L382.6 108.2L382.6 113.2L382.8 116.4L383.2 113.2L383.2 108.2ZM697.1 88.3L698.1 87.3L698.8 88.3L702.0 93.2L704.2 98.2L705.9 103.2L707.0 108.2L707.7 113.2L708.0 118.2L708.0 123.2L707.7 128.2L707.1 133.2L706.1 138.2L704.7 143.2L702.8 148.2L700.3 153.2L698.1 156.7L695.8 153.2L693.2 148.2L691.3 143.2L689.8 138.2L688.8 133.2L688.1 128.2L687.8 123.2L687.7 118.2L687.9 113.2L688.5 108.2L689.4 103.2L691.0 98.2L693.3 93.2ZM698.1 96.2L696.8 98.2L694.3 103.2L692.8 108.2L692.0 113.2L691.6 118.2L691.6 123.2L692.1 128.2L693.1 133.2L694.5 138.2L696.6 143.2L698.1 146.0L699.5 143.2L701.6 138.2L703.0 133.2L703.9 128.2L704.3 123.2L704.3 118.2L703.9 113.2L703.0 108.2L701.5 103.2L699.3 98.2ZM637.1 173.2L639.0 170.2L641.9 173.2L644.7 178.2L646.0 183.2L646.0 188.2L644.7 193.2L641.7 198.2L639.0 201.0L637.2 198.2L635.1 193.2L634.1 188.2L634.1 183.2L635.1 178.2ZM639.0 176.5L638.2 178.2L637.1 183.2L637.1 188.2L638.5 193.2L639.0 194.3L639.8 193.2L641.6 188.2L641.7 183.2L640.1 178.2ZM677.5 198.2L678.4 194.7L679.1 198.2L679.1 203.2L678.4 207.6L677.4 203.2ZM871.7 203.2L875.5 199.0L882.6 203.2L883.1 208.2L881.4 213.2L879.1 218.2L876.7 223.2L875.5 225.4L873.2 223.2L870.2 218.2L869.1 213.2L869.6 208.2ZM875.5 207.0L874.9 208.2L874.3 213.2L875.5 216.9L876.6 213.2L876.3 208.2ZM914.3 233.2L914.9 231.7L915.6 233.2L917.8 238.2L919.6 243.2L920.4 248.2L918.8 253.2L914.9 255.7L913.9 253.2L912.7 248.2L912.5 243.2L913.0 238.2ZM790.2 253.2L796.6 249.0L803.8 253.2L807.5 258.1L809.0 263.1L809.9 268.1L810.4 273.1L810.8 278.1L810.8 283.1L810.5 288.1L809.6 293.1L807.9 298.1L804.2 303.1L796.6 307.8L793.3 303.1L790.7 298.1L788.9 293.1L787.6 288.1L786.7 283.1L786.1 278.1L785.9 273.1L785.9 268.1L786.2 263.1L787.2 258.1ZM796.6 252.2L795.1 253.2L790.8 258.1L789.2 263.1L788.6 268.1L788.3 273.1L788.4 278.1L788.8 283.1L789.7 288.1L791.1 293.1L793.1 298.1L796.1 303.1L796.6 303.9L797.9 303.1L803.3 298.1L805.9 293.1L807.3 288.1L807.8 283.1L807.8 278.1L807.3 273.1L806.6 268.1L805.4 263.1L803.4 258.1L798.3 253.2ZM932.6 263.1L934.6 262.5L935.2 263.1L938.6 268.1L940.5 273.1L941.7 278.1L942.7 283.1L943.8 288.1L945.3 293.1L947.0 298.1L948.3 303.1L949.3 308.1L951.3 313.1L954.3 317.1L954.3 318.1L954.3 323.1L954.3 328.1L954.3 329.0L949.4 333.1L948.4 338.1L948.5 343.1L949.1 348.1L950.2 353.1L952.0 358.1L954.3 362.8L954.3 363.1L954.3 368.1L954.3 373.1L954.3 377.3L951.9 373.1L949.0 368.1L946.5 363.1L944.3 358.1L942.7 353.1L941.4 348.1L939.9 343.1L937.4 338.1L934.6 334.8L933.6 333.1L930.7 328.1L928.4 323.1L926.5 318.1L925.2 313.1L924.2 308.1L923.6 303.1L923.3 298.1L923.1 293.1L923.2 288.1L923.4 283.1L923.9 278.1L924.8 273.1L926.6 268.1ZM934.6 269.6L931.4 273.1L929.0 278.1L927.7 283.1L927.1 288.1L926.8 293.1L926.9 298.1L927.4 303.1L928.3 308.1L929.7 313.1L931.6 318.1L934.3 323.1L934.6 323.6L936.6 323.1L942.3 318.1L943.3 313.1L943.5 308.1L943.5 303.1L942.9 298.1L941.9 293.1L940.7 288.1L939.6 283.1L938.3 278.1L936.5 273.1ZM753.0 268.1L757.2 264.9L760.4 268.1L763.1 273.1L764.3 278.1L764.5 283.1L764.2 288.1L763.3 293.1L762.0 298.1L760.1 303.1L757.5 308.1L757.2 308.6L756.6 308.1L752.8 303.1L751.1 298.1L750.2 293.1L749.7 288.1L749.4 283.1L749.5 278.1L750.4 273.1ZM757.2 270.1L754.8 273.1L752.9 278.1L752.3 283.1L752.5 288.1L753.1 293.1L754.4 298.1L757.2 303.1L759.4 298.1L760.8 293.1L761.6 288.1L761.8 283.1L761.2 278.1L759.3 273.1ZM697.5 303.1L698.1 302.1L699.1 303.1L702.4 308.1L703.8 313.1L701.0 318.1L698.1 319.4L697.0 318.1L695.2 313.1L695.6 308.1ZM854.9 303.1L855.8 303.0L856.1 303.1L862.4 308.1L865.5 313.1L867.2 318.1L868.2 323.1L869.0 328.1L869.8 333.1L871.2 338.1L872.0 343.1L862.6 348.1L855.8 348.5L854.5 348.1L846.7 343.1L843.0 338.1L839.9 333.1L837.3 328.1L836.1 324.5L835.7 323.1L835.3 318.1L836.1 313.7L836.2 313.1L841.1 308.1ZM855.8 309.1L849.2 313.1L846.0 318.1L845.6 323.1L846.7 328.1L848.9 333.1L852.2 338.1L855.8 341.5L860.1 338.1L861.8 333.1L862.3 328.1L862.0 323.1L861.1 318.1L859.0 313.1ZM244.5 328.1L244.8 327.0L245.1 328.1L244.8 329.5ZM497.2 358.1L501.0 354.3L504.8 358.1L508.4 363.1L511.0 368.1L512.7 373.1L513.9 378.1L514.8 383.1L515.5 388.1L516.2 393.1L516.6 398.1L517.1 403.1L517.6 408.1L518.6 413.1L520.0 418.0L520.7 420.1L524.3 423.0L525.9 428.0L526.1 433.0L525.9 438.0L525.7 443.0L525.8 448.0L525.9 453.0L526.0 458.0L526.2 463.0L526.4 468.0L526.6 473.0L526.6 478.0L526.5 483.0L526.3 488.0L525.8 493.0L522.2 493.0L522.9 488.0L523.3 483.0L523.5 478.0L523.5 473.0L523.3 468.0L523.0 463.0L522.6 458.0L522.1 453.0L521.5 448.0L520.8 443.0L520.7 442.5L517.7 438.0L516.2 433.0L515.4 428.0L514.7 423.0L514.3 418.0L513.9 413.1L513.5 408.1L513.4 403.1L513.1 398.1L512.7 393.1L512.1 388.1L511.3 383.1L510.1 378.1L508.4 373.1L506.0 368.1L502.5 363.1L501.0 361.4L499.6 363.1L495.9 368.1L493.5 373.1L491.7 378.1L490.4 383.1L489.4 388.1L488.7 393.1L488.0 398.1L487.1 403.1L486.0 408.1L484.5 413.1L482.4 418.0L481.3 419.9L479.2 423.0L477.3 428.0L476.4 433.0L476.0 438.0L475.7 443.0L475.5 448.0L475.5 453.0L475.5 458.0L475.5 463.0L475.7 468.0L475.9 473.0L476.3 478.0L476.9 483.0L477.7 488.0L478.9 493.0L474.4 493.0L473.6 488.0L473.1 483.0L472.6 478.0L472.3 473.0L472.0 468.0L471.7 463.0L471.5 458.0L471.2 453.0L470.8 448.0L470.6 443.0L470.4 438.0L470.0 433.0L469.8 428.0L469.7 423.0L469.1 418.0L466.1 413.1L461.6 411.2L460.0 408.1L458.0 403.1L456.8 398.1L456.0 393.1L455.7 388.1L455.8 383.1L456.3 378.1L457.3 373.1L458.8 368.1L461.0 363.1L461.6 361.9L462.5 363.1L465.5 368.1L467.7 373.1L469.2 378.1L470.4 383.1L471.3 388.1L471.8 393.1L472.1 398.1L473.6 403.1L481.3 407.6L482.9 403.1L484.3 398.1L485.0 393.1L485.8 388.1L486.7 383.1L487.8 378.1L489.1 373.1L490.9 368.1L493.5 363.1ZM461.6 377.3L461.4 378.1L460.7 383.1L460.6 388.1L461.1 393.1L461.6 395.4L462.5 393.1L463.3 388.1L463.0 383.1L461.9 378.1ZM732.8 358.1L737.5 353.2L739.9 358.1L742.6 363.1L745.3 368.1L747.8 373.1L749.9 378.1L751.5 383.1L752.4 388.1L753.0 393.1L753.4 398.1L753.5 403.1L753.5 408.1L753.4 413.0L753.2 418.0L752.8 423.0L752.4 428.0L751.8 433.0L750.9 438.0L748.6 443.0L737.5 447.0L736.4 443.0L734.5 438.0L732.4 433.0L730.2 428.0L728.3 423.0L726.7 418.0L725.4 413.1L724.6 408.1L724.0 403.1L723.6 398.1L723.5 393.1L723.6 388.1L724.0 383.1L724.7 378.1L725.7 373.1L727.2 368.1L729.5 363.1ZM737.5 359.6L734.5 363.1L731.3 368.1L729.2 373.1L727.7 378.1L726.8 383.1L726.3 388.1L726.1 393.1L726.1 398.1L726.5 403.1L727.3 408.1L728.3 413.1L729.8 418.0L731.7 423.0L734.0 428.0L736.6 433.0L737.5 435.1L740.2 433.0L744.6 428.0L747.1 423.0L748.7 418.0L749.6 413.1L750.2 408.1L750.5 403.1L750.5 398.1L750.2 393.1L749.6 388.1L748.6 383.1L746.9 378.1L744.8 373.1L742.2 368.1L739.4 363.1ZM302.2 363.1L304.0 358.2L305.8 363.1L307.3 368.1L308.5 373.1L309.5 378.1L310.3 383.1L310.9 388.1L311.3 393.1L311.5 398.1L311.6 403.1L311.3 408.1L310.6 413.1L309.4 418.0L307.4 423.0L304.0 427.9L302.8 423.0L301.6 418.0L300.7 413.1L299.8 408.1L299.2 403.1L298.7 398.1L298.5 393.1L298.4 388.1L298.6 383.1L299.1 378.1L299.9 373.1L300.9 368.1ZM304.0 372.4L303.8 373.1L302.8 378.1L302.1 383.1L301.8 388.1L301.8 393.1L302.0 398.1L302.5 403.1L303.3 408.1L304.0 411.5L305.2 408.1L306.2 403.1L306.8 398.1L306.9 393.1L306.7 388.1L306.1 383.1L305.3 378.1L304.1 373.1ZM673.5 363.1L678.4 360.3L679.7 363.1L681.7 368.1L683.4 373.1L684.5 378.1L685.2 383.1L685.5 388.1L685.3 393.1L684.7 398.1L683.6 403.1L681.8 408.1L679.2 413.1L678.4 414.3L670.9 418.0L667.8 423.0L666.0 428.0L664.6 433.0L664.0 438.0L663.6 443.0L663.4 448.0L663.1 453.0L662.8 458.0L662.4 463.0L661.9 468.0L661.3 473.0L660.6 478.0L659.7 483.0L658.7 487.1L639.0 483.5L635.3 488.0L631.6 493.0L622.9 493.0L626.9 488.0L630.6 483.0L634.4 478.0L637.8 473.0L639.0 470.9L658.7 470.0L659.0 468.0L659.5 463.0L659.9 458.0L660.2 453.0L660.2 448.0L660.2 443.0L660.1 438.0L659.9 433.0L659.8 428.0L659.8 423.0L660.2 418.0L662.9 413.1L678.4 409.0L678.9 408.1L681.1 403.1L682.5 398.1L683.2 393.1L683.3 388.1L683.0 383.1L682.2 378.1L680.9 373.1L678.9 368.1L678.4 366.9L676.7 368.1L670.3 373.1L665.6 378.1L661.8 383.1L658.8 388.1L658.7 388.3L656.8 393.1L655.9 398.1L655.8 403.1L656.1 408.1L656.7 413.1L657.2 418.0L657.1 423.0L656.2 428.0L654.4 433.0L651.7 438.0L647.9 443.0L642.6 448.0L639.0 450.6L637.0 448.0L631.8 443.0L625.2 438.0L619.3 433.9L617.1 433.0L612.4 428.0L611.0 423.0L610.3 418.0L609.6 413.1L608.3 408.1L605.9 403.1L602.0 398.1L599.6 395.9L597.8 398.1L594.9 403.1L593.1 408.1L592.1 413.1L591.6 418.0L591.6 423.0L592.0 428.0L593.0 433.0L594.3 438.0L596.1 443.0L598.1 448.0L599.6 451.6L600.0 453.0L601.0 458.0L601.9 463.0L603.0 468.0L604.2 473.0L605.9 478.0L608.1 483.0L610.9 488.0L614.9 493.0L604.6 493.0L601.7 488.0L599.6 483.3L599.3 483.0L595.0 478.0L591.3 473.0L587.9 468.0L584.7 463.0L581.9 458.0L579.9 453.8L579.6 453.0L578.7 448.0L578.0 443.0L577.8 438.0L578.0 433.0L578.7 428.0L579.9 423.1L579.9 423.0L581.1 418.0L582.3 413.0L583.6 408.1L585.3 403.1L587.4 398.1L590.1 393.1L594.6 388.1L599.6 384.7L605.3 388.1L611.6 393.1L616.1 398.1L619.1 403.1L619.3 403.6L621.5 408.1L623.7 413.0L626.0 418.0L629.6 423.0L634.6 428.0L639.0 431.7L641.8 428.0L644.7 423.0L646.5 418.0L647.3 413.1L647.7 408.1L648.1 403.1L648.7 398.1L649.7 393.1L651.4 388.1L653.8 383.1L657.6 378.1L658.7 377.0L662.1 373.1L667.1 368.1ZM774.9 363.1L776.9 360.0L780.6 363.1L784.4 368.1L786.8 373.1L788.4 378.1L789.5 383.1L790.2 388.1L790.8 393.1L791.2 398.1L791.5 403.1L791.8 408.1L792.0 413.1L792.3 418.0L792.5 423.0L792.9 428.0L793.6 433.0L795.2 438.0L796.6 440.9L800.1 438.0L804.2 433.0L806.0 428.0L806.7 423.0L806.8 418.0L806.9 413.1L807.0 408.1L807.2 403.1L807.7 398.1L808.6 393.1L810.1 388.1L812.4 383.1L816.3 378.3L820.0 383.1L822.2 388.1L823.7 393.1L824.6 398.1L825.2 403.1L825.5 408.1L825.8 413.1L826.1 418.0L826.7 423.0L828.3 428.0L833.4 433.0L836.1 434.5L841.8 438.0L850.8 443.0L855.8 445.4L861.3 443.0L870.3 438.0L875.5 434.5L888.7 438.0L895.2 440.5L895.8 438.0L896.9 433.0L897.8 428.0L898.4 423.0L899.0 418.0L899.6 413.0L900.4 408.1L901.6 403.1L903.4 398.1L906.7 393.1L914.8 388.1L914.9 388.1L914.9 388.1L917.5 393.1L919.4 398.1L920.9 403.1L922.2 408.1L923.3 413.1L924.3 418.0L925.2 423.0L926.1 428.0L927.1 433.0L928.2 438.0L929.3 443.0L930.3 448.0L931.2 453.0L933.0 458.0L934.6 461.7L938.1 458.0L942.0 453.0L944.5 448.0L947.2 443.0L949.7 438.0L951.8 433.0L953.6 428.0L954.3 425.5L954.3 428.0L954.3 433.0L954.3 438.0L954.3 443.0L954.3 444.0L952.8 448.0L951.1 453.0L949.2 458.0L947.4 463.0L945.8 468.0L945.9 473.0L951.4 478.0L954.3 479.1L954.3 483.0L954.3 488.0L954.3 493.0L934.6 493.0L927.9 493.0L914.9 492.7L911.2 493.0L895.2 493.0L875.5 493.0L855.8 493.0L843.7 493.0L854.5 488.0L855.8 487.4L875.5 486.7L891.1 483.0L895.2 481.2L908.7 483.0L914.9 483.4L916.7 483.0L927.6 478.0L929.8 473.0L929.6 468.0L928.8 463.0L927.9 458.0L927.1 453.0L926.7 448.0L926.2 443.0L925.4 438.0L924.5 433.0L923.7 428.0L922.8 423.0L921.8 418.0L920.7 413.1L919.4 408.1L917.7 403.1L915.6 398.1L914.9 396.6L913.2 398.1L908.7 403.1L906.0 408.1L904.3 413.1L903.1 418.0L902.2 423.0L901.5 428.0L900.7 433.0L899.8 438.0L898.9 443.0L897.7 448.0L896.3 453.0L895.2 456.2L891.4 453.0L882.9 448.0L875.5 445.0L869.4 448.0L857.1 453.0L855.8 453.5L854.8 453.0L844.6 448.0L836.1 443.7L831.7 443.0L818.6 438.0L816.3 433.7L815.1 438.0L811.7 443.0L805.9 448.0L798.3 453.0L796.6 454.1L794.2 453.0L790.4 448.0L789.2 443.0L788.8 438.0L788.6 433.0L788.7 428.0L788.8 423.0L788.9 418.0L788.9 413.1L788.8 408.1L788.5 403.1L788.2 398.1L787.7 393.1L787.0 388.1L785.9 383.1L784.4 378.1L782.3 373.1L779.0 368.1L776.9 365.8L775.5 368.1L772.5 373.1L770.0 378.1L767.9 383.1L766.5 388.1L765.5 393.1L764.8 398.1L764.4 403.1L764.1 408.1L764.0 413.1L764.1 418.0L764.3 423.0L764.5 428.0L764.8 433.0L765.4 438.0L766.3 443.0L767.9 448.0L770.8 453.0L776.1 458.0L776.9 458.6L785.0 463.0L787.6 468.0L789.8 473.0L792.3 478.0L795.6 483.0L796.6 484.3L808.9 488.0L816.3 489.7L825.2 493.0L816.3 493.0L796.6 493.0L792.0 493.0L787.6 488.0L784.2 483.0L780.7 478.0L777.1 473.0L776.9 472.8L762.7 468.0L758.5 463.0L757.6 458.0L757.7 453.0L758.2 448.0L758.7 443.0L759.2 438.0L759.6 433.0L760.0 428.0L760.3 423.0L760.5 418.0L760.6 413.1L760.8 408.1L761.1 403.1L761.6 398.1L762.2 393.1L763.1 388.1L764.3 383.1L766.3 378.1L768.8 373.1L771.7 368.1ZM816.3 389.4L814.9 393.1L813.7 398.1L813.3 403.1L813.4 408.1L814.0 413.1L814.8 418.0L815.8 423.0L816.3 427.0L816.9 423.0L817.9 418.0L818.7 413.0L819.2 408.1L819.3 403.1L818.8 398.1L817.7 393.1ZM536.5 368.1L540.4 364.8L547.2 368.1L551.7 373.1L553.8 378.1L554.7 383.1L555.1 388.1L555.1 393.1L554.6 398.1L553.6 403.1L551.7 408.1L547.9 413.1L540.4 417.6L528.4 413.1L527.6 408.1L527.0 403.1L527.0 398.1L527.2 393.1L527.8 388.1L528.8 383.1L530.2 378.1L532.6 373.1ZM540.4 371.5L538.9 373.1L535.6 378.1L533.6 383.1L532.5 388.1L532.0 393.1L532.3 398.1L533.5 403.1L536.5 408.1L540.4 411.0L543.9 408.1L547.3 403.1L549.0 398.1L549.7 393.1L549.7 388.1L548.8 383.1L546.8 378.1L542.6 373.1ZM500.6 473.0L501.0 471.3L501.7 473.0L503.7 478.0L506.0 483.0L509.0 488.0L513.2 493.0L501.0 493.0L490.6 493.0L494.6 488.0L497.3 483.0L499.2 478.0Z" fill="#9c4c09" stroke="#9c4c09" stroke-width="0.6" fill-rule="evenodd"/>
<path d="M235.7 13.3L243.6 13.3L242.5 18.3L241.5 23.3L240.8 28.3L240.1 33.3L239.5 38.3L239.0 43.3L238.4 48.3L237.8 53.3L237.2 58.3L236.4 63.3L235.7 68.3L235.0 73.3L234.3 78.3L233.6 83.3L233.1 88.3L232.8 93.2L232.6 98.2L232.5 103.2L232.7 108.2L233.0 113.2L233.6 118.2L234.5 123.2L235.9 128.2L238.2 133.2L241.6 138.2L244.8 141.4L260.3 138.2L262.8 133.2L263.6 128.2L264.0 123.2L264.4 118.2L264.5 116.2L265.6 113.2L267.6 108.2L269.6 103.2L271.5 98.2L273.3 93.2L275.0 88.3L276.5 83.3L277.9 78.3L279.2 73.3L280.4 68.3L281.4 63.3L282.1 58.3L282.6 53.3L282.6 48.3L282.3 43.3L281.3 38.3L279.8 33.3L277.7 28.3L275.0 23.3L271.7 18.3L267.9 13.3L284.2 13.3L287.4 13.3L288.2 18.3L288.9 23.3L289.4 28.3L289.8 33.3L290.0 38.3L290.1 43.3L290.1 48.3L290.0 53.3L289.8 58.3L289.5 63.3L289.1 68.3L288.7 73.3L288.2 78.3L287.8 83.3L287.4 88.3L287.1 93.2L286.8 98.2L286.7 103.2L286.6 108.2L286.6 113.2L286.7 118.2L286.8 123.2L286.9 128.2L287.1 133.2L287.2 138.2L287.3 143.2L287.2 148.2L287.0 153.2L286.5 158.2L286.0 163.2L285.3 168.2L284.4 173.2L284.2 174.1L280.2 178.2L275.4 183.2L271.8 188.2L270.0 193.2L267.0 198.2L264.5 199.2L264.4 198.2L264.2 193.2L264.0 188.2L263.5 183.2L262.5 178.2L260.6 173.2L257.7 168.2L254.4 163.2L250.3 158.2L245.3 153.2L244.8 152.9L237.8 148.2L234.2 143.2L232.5 138.2L231.4 133.2L230.6 128.2L230.1 123.2L229.7 118.2L229.5 113.2L229.3 108.2L229.2 103.2L229.3 98.2L229.4 93.2L229.6 88.3L229.9 83.3L230.2 78.3L230.6 73.3L231.1 68.3L231.5 63.3L231.9 58.3L232.3 53.3L232.6 48.3L233.0 43.3L233.3 38.3L233.6 33.3L234.0 28.3L234.5 23.3L235.0 18.3ZM387.4 13.3L401.0 13.3L398.0 18.3L396.1 23.3L394.8 28.3L394.0 33.3L393.5 38.3L393.3 43.3L393.4 48.3L393.8 53.3L394.2 58.3L395.0 63.3L398.1 68.3L402.5 70.0L403.9 68.3L406.9 63.3L408.8 58.3L410.0 53.3L410.7 48.3L410.9 43.3L410.8 38.3L410.4 33.3L409.6 28.3L408.3 23.3L406.4 18.3L403.8 13.3L415.3 13.3L416.9 18.3L418.2 23.3L419.3 28.3L420.1 33.3L420.8 38.3L421.5 43.3L422.2 48.1L422.2 48.3L423.2 53.3L424.2 58.3L425.2 63.3L426.2 68.3L427.3 73.3L428.9 78.3L431.3 83.3L434.9 88.3L441.9 92.7L442.0 93.2L442.9 98.2L443.6 103.2L444.1 108.2L444.3 113.2L444.2 118.2L443.8 123.2L443.1 128.2L442.5 133.2L441.9 137.2L433.2 133.2L427.2 128.2L423.2 123.2L422.2 121.5L402.5 122.5L402.4 123.2L402.0 128.2L401.7 133.2L401.3 138.2L401.2 143.2L401.4 148.2L402.5 151.7L403.2 153.2L405.4 158.2L407.1 163.2L408.6 168.2L409.9 173.2L410.6 178.2L410.8 183.2L410.4 188.2L409.5 193.2L407.7 198.2L405.2 203.2L402.6 208.2L402.5 208.3L402.4 208.2L400.7 203.2L398.7 198.2L396.7 193.2L395.0 188.2L393.8 183.2L392.8 178.2L391.8 173.2L390.4 168.2L384.7 163.2L382.8 162.7L381.0 158.2L378.8 153.2L377.0 148.2L375.5 143.2L374.5 138.2L373.7 133.2L373.1 128.2L372.8 123.2L372.6 118.2L372.5 113.2L372.6 108.2L372.8 103.2L373.2 98.2L373.6 93.2L374.2 88.3L374.9 83.3L375.7 78.3L376.6 73.3L377.5 68.3L378.5 63.3L379.5 58.3L380.6 53.3L381.4 48.3L382.1 43.3L382.8 38.3L382.8 38.3L383.6 33.3L384.3 28.3L385.1 23.3L386.0 18.3ZM382.8 73.6L381.7 78.3L380.6 83.3L379.6 88.3L378.9 93.2L378.3 98.2L377.8 103.2L377.6 108.2L377.5 113.2L377.7 118.2L378.1 123.2L378.8 128.2L379.8 133.2L381.2 138.2L382.8 142.7L386.4 138.2L389.0 133.2L390.7 128.2L391.9 123.2L392.7 118.2L393.2 113.2L393.5 108.2L393.6 103.2L393.4 98.2L393.3 93.2L393.0 88.3L392.4 83.3L390.9 78.3ZM540.1 13.3L540.4 13.3L541.2 13.3L542.3 18.3L543.1 23.3L543.2 28.3L542.4 33.3L541.2 38.3L540.4 40.5L540.0 38.3L539.4 33.3L539.0 28.3L539.1 23.3L539.5 18.3ZM934.1 58.3L934.6 55.8L935.2 58.3L937.0 63.3L938.7 68.3L940.2 73.3L941.4 78.3L942.4 83.3L943.1 88.3L943.6 93.2L943.6 98.2L943.4 103.2L942.9 108.2L942.1 113.2L941.1 118.2L940.1 123.2L939.1 128.2L938.2 133.2L937.3 138.2L936.3 143.2L935.3 148.2L934.6 153.0L920.8 148.2L917.7 143.2L918.4 138.2L920.3 133.2L922.0 128.2L923.8 123.2L925.0 118.2L925.6 113.2L926.0 108.2L926.3 103.2L926.6 98.2L927.0 93.2L927.6 88.3L928.3 83.3L929.2 78.3L930.3 73.3L931.5 68.3L932.8 63.3ZM934.6 66.9L934.2 68.3L932.9 73.3L931.7 78.3L930.8 83.3L930.0 88.3L929.6 93.2L929.3 98.2L929.2 103.2L929.3 108.2L929.4 113.2L929.6 118.2L929.8 123.2L930.1 128.2L931.3 133.2L934.4 138.2L934.6 138.4L934.6 138.2L935.4 133.2L936.2 128.2L937.1 123.2L938.0 118.2L938.9 113.2L939.7 108.2L940.3 103.2L940.6 98.2L940.5 93.2L940.1 88.3L939.4 83.3L938.2 78.3L936.8 73.3L935.1 68.3ZM695.2 78.3L698.1 75.7L699.7 78.3L703.1 83.3L705.8 88.3L707.8 93.2L709.2 98.2L710.3 103.2L711.0 108.2L711.4 113.2L711.7 118.2L711.7 123.2L711.6 128.2L711.2 133.2L710.7 138.2L709.8 143.2L708.7 148.2L707.3 153.2L705.4 158.2L702.8 163.2L699.4 168.2L698.1 169.9L695.7 168.2L691.8 163.2L689.6 158.2L688.2 153.2L687.0 148.2L686.0 143.2L685.2 138.2L684.6 133.2L684.1 128.2L683.9 123.2L683.8 118.2L683.9 113.2L684.1 108.2L684.5 103.2L685.2 98.2L686.2 93.2L687.7 88.3L690.5 83.3ZM698.1 87.3L697.1 88.3L693.3 93.2L691.0 98.2L689.4 103.2L688.5 108.2L687.9 113.2L687.7 118.2L687.8 123.2L688.1 128.2L688.8 133.2L689.8 138.2L691.3 143.2L693.2 148.2L695.8 153.2L698.1 156.7L700.3 153.2L702.8 148.2L704.7 143.2L706.1 138.2L707.1 133.2L707.7 128.2L708.0 123.2L708.0 118.2L707.7 113.2L707.0 108.2L705.9 103.2L704.2 98.2L702.0 93.2L698.8 88.3ZM854.2 103.2L855.8 99.0L857.6 103.2L859.3 108.2L859.9 113.2L859.5 118.2L858.0 123.2L855.9 128.2L855.8 128.4L855.7 128.2L854.1 123.2L852.8 118.2L852.4 113.2L852.8 108.2ZM538.5 168.2L540.4 164.2L541.9 168.2L543.7 173.2L544.9 178.2L545.4 183.2L545.5 188.2L545.3 193.2L545.1 198.2L544.8 203.2L544.3 208.2L543.0 213.2L541.1 218.2L540.4 219.4L539.7 218.2L537.6 213.2L535.9 208.2L535.1 203.2L534.7 198.2L534.4 193.2L534.2 188.2L534.3 183.2L534.9 178.2L536.2 173.2ZM636.2 168.2L639.0 163.6L643.6 168.2L647.3 173.2L649.4 178.2L650.3 183.2L650.4 188.2L649.6 193.2L647.8 198.2L644.3 203.2L639.1 208.2L639.0 208.3L638.9 208.2L635.8 203.2L633.3 198.2L631.8 193.2L631.1 188.2L631.2 183.2L632.0 178.2L633.6 173.2ZM639.0 170.2L637.1 173.2L635.1 178.2L634.1 183.2L634.1 188.2L635.1 193.2L637.2 198.2L639.0 201.0L641.7 198.2L644.7 193.2L646.0 188.2L646.0 183.2L644.7 178.2L641.9 173.2ZM774.8 173.2L776.9 168.9L779.8 173.2L782.9 178.2L784.2 183.2L784.1 188.2L782.9 193.2L780.9 198.2L778.5 203.2L776.9 207.9L775.5 203.2L773.7 198.2L772.4 193.2L771.8 188.2L771.8 183.2L772.7 178.2ZM676.6 183.2L678.4 179.9L681.6 183.2L683.6 188.2L684.2 193.2L684.2 198.2L683.8 203.2L683.0 208.2L681.8 213.2L679.9 218.2L678.4 222.2L675.9 218.2L672.9 213.2L671.3 208.2L670.6 203.2L670.8 198.2L671.8 193.2L673.7 188.2ZM678.4 194.7L677.5 198.2L677.4 203.2L678.4 207.6L679.1 203.2L679.1 198.2ZM891.6 188.2L895.2 186.2L896.8 188.2L898.9 193.2L898.0 198.2L895.2 201.5L893.9 203.2L889.9 208.2L886.2 213.2L883.1 218.2L880.4 223.2L877.7 228.2L875.5 232.7L870.1 228.2L866.2 223.2L864.4 218.2L863.8 213.2L864.3 208.2L865.8 203.2L869.1 198.2L874.8 193.2L875.5 192.7ZM875.5 199.0L871.7 203.2L869.6 208.2L869.1 213.2L870.2 218.2L873.2 223.2L875.5 225.4L876.7 223.2L879.1 218.2L881.4 213.2L883.1 208.2L882.6 203.2ZM953.3 208.2L954.3 204.8L954.3 208.2L954.3 213.2L954.3 218.2L954.3 220.0L953.8 218.2L952.9 213.2ZM914.6 223.2L914.9 222.3L915.1 223.2L917.3 228.2L920.0 233.2L922.7 238.2L925.6 243.2L928.8 248.2L932.8 253.2L934.6 254.3L938.5 258.1L942.0 263.1L943.6 268.1L944.4 273.1L945.0 278.1L945.8 283.1L947.0 288.1L948.8 293.1L951.0 298.1L953.1 303.1L954.3 306.3L954.3 308.1L954.3 313.1L954.3 317.1L951.3 313.1L949.3 308.1L948.3 303.1L947.0 298.1L945.3 293.1L943.8 288.1L942.7 283.1L941.7 278.1L940.5 273.1L938.6 268.1L935.2 263.1L934.6 262.5L932.6 263.1L926.6 268.1L924.8 273.1L923.9 278.1L923.4 283.1L923.2 288.1L923.1 293.1L923.3 298.1L923.6 303.1L924.2 308.1L925.2 313.1L926.5 318.1L928.4 323.1L930.7 328.1L933.6 333.1L934.6 334.8L937.4 338.1L939.9 343.1L941.4 348.1L942.7 353.1L944.3 358.1L946.5 363.1L949.0 368.1L951.9 373.1L954.3 377.3L954.3 378.1L954.3 383.1L954.3 388.1L954.3 393.1L954.3 398.1L954.3 403.1L954.3 408.1L954.3 413.1L954.3 418.0L954.3 423.0L954.3 425.5L953.6 428.0L951.8 433.0L949.7 438.0L947.2 443.0L944.5 448.0L942.0 453.0L938.1 458.0L934.6 461.7L933.0 458.0L931.2 453.0L930.3 448.0L929.3 443.0L928.2 438.0L927.1 433.0L926.1 428.0L925.2 423.0L924.3 418.0L923.3 413.0L922.2 408.1L920.9 403.1L919.4 398.1L917.5 393.1L914.9 388.1L914.9 388.1L914.8 388.1L906.7 393.1L903.4 398.1L901.6 403.1L900.4 408.1L899.6 413.1L899.0 418.0L898.4 423.0L897.8 428.0L896.9 433.0L895.8 438.0L895.2 440.5L888.7 438.0L875.5 434.5L870.3 438.0L861.3 443.0L855.8 445.4L850.8 443.0L841.8 438.0L836.1 434.5L833.4 433.0L828.3 428.0L826.7 423.0L826.1 418.0L825.8 413.1L825.5 408.1L825.2 403.1L824.6 398.1L823.7 393.1L822.2 388.1L820.0 383.1L816.3 378.3L812.4 383.1L810.1 388.1L808.6 393.1L807.7 398.1L807.2 403.1L807.0 408.1L806.9 413.0L806.8 418.0L806.7 423.0L806.0 428.0L804.2 433.0L800.1 438.0L796.6 440.9L795.2 438.0L793.6 433.0L792.9 428.0L792.5 423.0L792.3 418.0L792.0 413.1L791.8 408.1L791.5 403.1L791.2 398.1L790.8 393.1L790.2 388.1L789.5 383.1L788.4 378.1L786.8 373.1L784.4 368.1L780.6 363.1L776.9 360.0L774.9 363.1L771.7 368.1L768.8 373.1L766.3 378.1L764.3 383.1L763.1 388.1L762.2 393.1L761.6 398.1L761.1 403.1L760.8 408.1L760.6 413.1L760.5 418.0L760.3 423.0L760.0 428.0L759.6 433.0L759.2 438.0L758.7 443.0L758.2 448.0L757.7 453.0L757.6 458.0L758.5 463.0L762.7 468.0L776.9 472.8L777.1 473.0L780.7 478.0L784.2 483.0L787.6 488.0L792.0 493.0L777.7 493.0L776.9 491.6L767.3 493.0L757.2 493.0L754.7 493.0L747.5 488.0L740.1 483.0L737.5 480.8L737.1 478.0L736.5 473.0L736.0 468.0L735.4 463.0L734.8 458.0L734.1 453.0L733.1 448.0L731.7 443.0L730.1 438.0L728.3 433.0L726.4 428.0L724.8 423.0L723.5 418.0L722.6 413.1L721.9 408.1L721.4 403.1L721.1 398.1L721.0 393.1L721.0 388.1L721.2 383.1L721.6 378.1L722.2 373.1L723.1 368.1L724.5 363.1L726.5 358.1L729.3 353.1L733.4 348.1L737.3 343.1L737.5 342.7L737.6 343.1L738.8 348.1L740.7 353.1L743.1 358.1L745.7 363.1L748.4 368.1L750.8 373.1L752.8 378.1L754.4 383.1L755.2 388.1L755.8 393.1L756.2 398.1L756.6 403.1L756.9 408.1L757.2 412.9L757.6 408.1L757.9 403.1L758.3 398.1L758.9 393.1L759.7 388.1L760.8 383.1L762.7 378.1L765.1 373.1L767.9 368.1L771.1 363.1L774.3 358.1L776.9 353.5L783.2 358.1L787.5 363.1L789.9 368.1L791.4 373.1L792.3 378.1L793.0 383.1L793.5 388.1L793.9 393.1L794.2 398.1L794.5 403.1L794.8 408.1L795.2 413.1L795.7 418.0L796.3 423.0L796.6 425.5L797.6 423.0L798.8 418.0L799.8 413.1L800.5 408.1L801.1 403.1L801.6 398.1L802.3 393.1L803.2 388.1L804.6 383.1L807.0 378.1L811.6 373.1L816.3 369.5L821.6 373.1L825.5 378.1L827.4 383.1L828.6 388.1L829.6 393.1L830.4 398.1L831.1 403.1L831.8 408.1L832.9 413.1L834.3 418.0L836.1 422.3L836.5 423.0L841.5 428.0L849.6 433.0L855.8 437.1L861.9 433.0L869.3 428.0L874.1 423.0L875.5 419.6L884.1 418.0L891.4 413.0L892.0 408.1L891.2 403.1L889.9 398.1L888.8 393.1L887.7 388.1L886.8 383.1L886.4 378.1L885.8 373.1L883.2 368.1L875.5 366.4L874.0 363.1L867.0 358.1L855.8 354.4L848.8 353.1L838.7 348.1L836.1 343.9L835.9 343.1L834.9 338.1L833.3 333.1L831.5 328.1L829.7 323.1L828.2 318.1L827.5 313.1L828.0 308.1L831.5 303.1L836.1 299.2L846.2 298.1L855.8 297.7L857.0 298.1L866.4 303.1L870.1 308.1L872.0 313.1L873.3 318.1L874.5 323.1L875.5 327.0L876.3 328.1L880.0 333.1L883.8 338.1L886.2 343.1L887.8 348.1L889.0 353.1L889.5 358.1L892.5 363.1L895.2 363.9L897.4 368.1L903.0 373.1L914.9 377.1L915.8 378.1L919.0 383.1L920.9 388.1L922.2 393.1L923.2 398.1L924.2 403.1L925.0 408.1L925.9 413.1L926.7 418.0L927.6 423.0L928.5 428.0L929.6 433.0L931.0 438.0L932.4 443.0L933.9 448.0L934.6 450.7L936.3 448.0L939.8 443.0L943.1 438.0L946.0 433.0L948.2 428.0L949.8 423.0L951.1 418.0L952.1 413.1L952.8 408.1L953.1 403.1L953.0 398.1L952.5 393.1L951.2 388.1L949.2 383.1L946.6 378.1L943.5 373.1L940.9 368.1L938.6 363.1L936.7 358.1L935.1 353.1L934.6 351.3L933.5 348.1L931.3 343.1L928.4 338.1L925.9 333.1L923.9 328.1L922.5 323.1L921.4 318.1L920.7 313.1L920.2 308.1L919.8 303.1L919.6 298.1L919.4 293.1L919.3 288.1L919.1 283.1L918.9 278.1L918.3 273.1L916.6 268.1L914.9 265.7L913.7 263.1L911.5 258.1L910.1 253.2L909.4 248.2L909.4 243.2L910.0 238.2L911.1 233.2L912.6 228.2ZM914.9 231.7L914.3 233.2L913.0 238.2L912.5 243.2L912.7 248.2L913.9 253.2L914.9 255.7L918.8 253.2L920.4 248.2L919.6 243.2L917.8 238.2L915.6 233.2ZM737.5 353.2L732.8 358.1L729.5 363.1L727.2 368.1L725.7 373.1L724.7 378.1L724.0 383.1L723.6 388.1L723.5 393.1L723.6 398.1L724.0 403.1L724.6 408.1L725.4 413.1L726.7 418.0L728.3 423.0L730.2 428.0L732.4 433.0L734.5 438.0L736.4 443.0L737.5 447.0L748.6 443.0L750.9 438.0L751.8 433.0L752.4 428.0L752.8 423.0L753.2 418.0L753.4 413.1L753.5 408.1L753.5 403.1L753.4 398.1L753.0 393.1L752.4 388.1L751.5 383.1L749.9 378.1L747.8 373.1L745.3 368.1L742.6 363.1L739.9 358.1ZM855.8 303.0L854.9 303.1L841.1 308.1L836.2 313.1L836.1 313.7L835.3 318.1L835.7 323.1L836.1 324.5L837.3 328.1L839.9 333.1L843.0 338.1L846.7 343.1L854.5 348.1L855.8 348.5L862.6 348.1L872.0 343.1L871.2 338.1L869.8 333.1L869.0 328.1L868.2 323.1L867.2 318.1L865.5 313.1L862.4 308.1L856.1 303.1ZM835.9 233.2L836.1 232.6L836.2 233.2L836.1 237.2ZM790.4 248.2L796.6 245.0L803.6 248.2L809.4 253.2L811.6 258.1L812.6 263.1L813.2 268.1L813.5 273.1L813.8 278.1L813.9 283.1L813.8 288.1L813.3 293.1L812.5 298.1L810.6 303.1L806.0 308.1L796.6 312.6L793.5 308.1L790.5 303.1L788.3 298.1L786.6 293.1L785.4 288.1L784.5 283.1L783.9 278.1L783.5 273.1L783.2 268.1L783.2 263.1L783.6 258.1L785.3 253.2ZM796.6 249.0L790.2 253.2L787.2 258.1L786.2 263.1L785.9 268.1L785.9 273.1L786.1 278.1L786.7 283.1L787.6 288.1L788.9 293.1L790.7 298.1L793.3 303.1L796.6 307.8L804.2 303.1L807.9 298.1L809.6 293.1L810.5 288.1L810.8 283.1L810.8 278.1L810.4 273.1L809.9 268.1L809.0 263.1L807.5 258.1L803.8 253.2ZM748.3 263.1L757.2 258.9L761.9 263.1L765.3 268.1L766.9 273.1L767.4 278.1L767.3 283.1L766.7 288.1L765.9 293.1L764.6 298.1L763.0 303.1L760.8 308.1L757.9 313.1L757.2 314.3L754.6 313.1L749.8 308.1L748.3 303.1L747.7 298.1L747.3 293.1L747.0 288.1L746.5 283.1L746.1 278.1L746.0 273.1L746.4 268.1ZM757.2 264.9L753.0 268.1L750.4 273.1L749.5 278.1L749.4 283.1L749.7 288.1L750.2 293.1L751.1 298.1L752.8 303.1L756.6 308.1L757.2 308.6L757.5 308.1L760.1 303.1L762.0 298.1L763.3 293.1L764.2 288.1L764.5 283.1L764.3 278.1L763.1 273.1L760.4 268.1ZM697.3 298.1L698.1 296.2L699.4 298.1L704.0 303.1L707.6 308.1L710.5 313.1L712.5 318.1L711.6 323.1L698.1 324.6L696.4 323.1L692.6 318.1L691.8 313.1L692.6 308.1L694.5 303.1ZM698.1 302.1L697.5 303.1L695.6 308.1L695.2 313.1L697.0 318.1L698.1 319.4L701.0 318.1L703.8 313.1L702.4 308.1L699.1 303.1ZM243.1 318.1L244.8 315.7L246.3 318.1L248.9 323.1L249.6 328.1L248.8 333.1L246.2 338.1L244.8 340.2L243.1 338.1L240.0 333.1L239.2 328.1L240.2 323.1ZM244.8 327.0L244.5 328.1L244.8 329.5L245.1 328.1ZM303.7 343.1L304.0 342.3L304.3 343.1L306.1 348.1L308.2 353.1L309.7 358.1L311.0 363.1L312.0 368.1L312.9 373.1L313.7 378.1L314.5 383.1L315.1 388.1L315.7 393.1L316.3 398.1L316.9 403.1L317.5 408.1L317.8 413.1L318.2 418.0L318.7 423.0L319.4 428.0L320.4 433.0L322.9 438.0L323.7 438.9L330.1 443.0L333.3 448.0L334.7 453.0L335.5 458.0L335.4 463.0L334.8 468.0L333.4 473.0L331.2 478.0L329.0 483.0L326.2 488.0L323.7 491.6L321.6 488.0L319.2 483.0L317.1 478.0L314.8 473.0L312.9 468.0L311.3 463.0L309.6 458.0L306.3 453.0L304.0 451.5L303.5 448.0L302.9 443.0L301.9 438.0L300.8 433.0L299.8 428.0L298.8 423.0L297.9 418.0L297.1 413.1L296.4 408.1L295.8 403.1L295.4 398.1L295.1 393.1L295.0 388.1L295.1 383.1L295.4 378.1L295.9 373.1L296.6 368.1L297.6 363.1L298.8 358.1L300.3 353.1L302.3 348.1ZM304.0 358.2L302.2 363.1L300.9 368.1L299.9 373.1L299.1 378.1L298.6 383.1L298.4 388.1L298.5 393.1L298.7 398.1L299.2 403.1L299.8 408.1L300.7 413.1L301.6 418.0L302.8 423.0L304.0 427.9L307.4 423.0L309.4 418.0L310.6 413.0L311.3 408.1L311.6 403.1L311.5 398.1L311.3 393.1L310.9 388.1L310.3 383.1L309.5 378.1L308.5 373.1L307.3 368.1L305.8 363.1ZM461.3 348.1L461.6 347.5L462.0 348.1L465.5 353.1L469.2 358.1L471.9 363.1L473.8 368.1L475.3 373.1L476.6 378.1L477.9 383.1L479.3 388.1L481.0 393.1L481.3 393.7L481.4 393.1L482.2 388.1L483.0 383.1L483.9 378.1L484.8 373.1L485.9 368.1L487.4 363.1L489.7 358.1L493.0 353.1L498.1 348.1L501.0 345.0L503.9 348.1L508.9 353.1L512.1 358.1L514.4 363.1L515.9 368.1L517.0 373.1L517.7 378.1L518.4 383.1L519.0 388.1L519.6 393.1L520.2 398.1L520.7 402.4L521.6 398.1L522.4 393.1L523.1 388.1L523.9 383.1L524.9 378.1L526.3 373.1L528.5 368.1L532.4 363.1L539.1 358.1L540.4 357.2L558.9 358.1L560.1 358.9L561.4 363.1L563.0 368.1L564.7 373.1L567.0 378.1L571.7 383.1L579.9 385.8L581.1 383.1L585.6 378.1L597.3 373.1L599.6 372.5L600.9 373.1L611.9 378.1L619.1 383.1L619.3 383.2L624.0 388.1L629.1 393.1L633.0 398.1L635.8 403.1L638.3 408.1L639.0 409.3L639.3 408.1L640.4 403.1L641.4 398.1L642.6 393.1L643.9 388.1L645.6 383.1L648.0 378.1L651.8 373.1L656.9 368.1L658.7 366.2L661.1 363.1L667.2 358.1L676.1 353.1L678.4 351.6L678.9 353.1L680.9 358.1L682.9 363.1L684.5 368.1L685.9 373.1L686.8 378.1L687.4 383.1L687.6 388.1L687.5 393.1L687.0 398.1L686.1 403.1L684.6 408.1L682.5 413.0L679.6 418.0L678.4 420.5L675.9 423.0L672.2 428.0L669.4 433.0L667.9 438.0L667.1 443.0L666.5 448.0L666.1 453.0L665.7 458.0L665.3 463.0L664.9 468.0L664.5 473.0L664.0 478.0L663.4 483.0L662.7 488.0L661.7 493.0L658.7 493.0L639.0 493.0L631.6 493.0L635.3 488.0L639.0 483.5L658.7 487.1L659.7 483.0L660.6 478.0L661.3 473.0L661.9 468.0L662.4 463.0L662.8 458.0L663.1 453.0L663.4 448.0L663.6 443.0L664.0 438.0L664.6 433.0L666.0 428.0L667.8 423.0L670.9 418.0L678.4 414.3L679.2 413.1L681.8 408.1L683.6 403.1L684.7 398.1L685.3 393.1L685.5 388.1L685.2 383.1L684.5 378.1L683.4 373.1L681.7 368.1L679.7 363.1L678.4 360.3L673.5 363.1L667.1 368.1L662.1 373.1L658.7 377.0L657.6 378.1L653.8 383.1L651.4 388.1L649.7 393.1L648.7 398.1L648.1 403.1L647.7 408.1L647.3 413.1L646.5 418.0L644.7 423.0L641.8 428.0L639.0 431.7L634.6 428.0L629.6 423.0L626.0 418.0L623.7 413.0L621.5 408.1L619.3 403.6L619.1 403.1L616.1 398.1L611.6 393.1L605.3 388.1L599.6 384.7L594.6 388.1L590.1 393.1L587.4 398.1L585.3 403.1L583.6 408.1L582.3 413.1L581.1 418.0L579.9 423.0L579.9 423.1L578.7 428.0L578.0 433.0L577.8 438.0L578.0 443.0L578.7 448.0L579.6 453.0L579.9 453.8L581.9 458.0L584.7 463.0L587.9 468.0L591.3 473.0L595.0 478.0L599.3 483.0L599.6 483.3L601.7 488.0L604.6 493.0L599.6 493.0L585.6 493.0L581.6 488.0L579.9 485.3L578.7 483.0L576.4 478.0L574.0 473.0L571.9 468.0L570.2 463.0L568.9 458.0L567.9 453.0L567.0 448.0L566.3 443.0L565.6 438.0L565.0 433.0L564.5 428.0L564.0 423.0L563.6 418.0L563.1 413.1L562.4 408.1L561.4 403.1L560.1 399.5L560.0 403.1L559.5 408.1L558.7 413.1L556.9 418.0L549.6 423.0L540.4 425.3L537.5 428.0L534.1 433.0L532.0 438.0L530.7 443.0L530.0 448.0L529.6 453.0L529.5 458.0L529.5 463.0L529.6 468.0L529.6 473.0L529.7 478.0L529.7 483.0L529.7 488.0L529.5 493.0L525.8 493.0L526.3 488.0L526.5 483.0L526.6 478.0L526.6 473.0L526.4 468.0L526.2 463.0L526.0 458.0L525.9 453.0L525.8 448.0L525.7 443.0L525.9 438.0L526.1 433.0L525.9 428.0L524.3 423.0L520.7 420.1L520.0 418.0L518.6 413.1L517.6 408.1L517.1 403.1L516.6 398.1L516.2 393.1L515.5 388.1L514.8 383.1L513.9 378.1L512.7 373.1L511.0 368.1L508.4 363.1L504.8 358.1L501.0 354.3L497.2 358.1L493.5 363.1L490.9 368.1L489.1 373.1L487.8 378.1L486.7 383.1L485.8 388.1L485.0 393.1L484.3 398.1L482.9 403.1L481.3 407.6L473.6 403.1L472.1 398.1L471.8 393.1L471.3 388.1L470.4 383.1L469.2 378.1L467.7 373.1L465.5 368.1L462.5 363.1L461.6 361.9L461.0 363.1L458.8 368.1L457.3 373.1L456.3 378.1L455.8 383.1L455.7 388.1L456.0 393.1L456.8 398.1L458.0 403.1L460.0 408.1L461.6 411.2L466.1 413.1L469.1 418.0L469.7 423.0L469.8 428.0L470.0 433.0L470.4 438.0L470.6 443.0L470.8 448.0L471.2 453.0L471.5 458.0L471.7 463.0L472.0 468.0L472.3 473.0L472.6 478.0L473.1 483.0L473.6 488.0L474.4 493.0L469.9 493.0L469.6 488.0L469.3 483.0L469.0 478.0L468.7 473.0L468.3 468.0L467.9 463.0L467.5 458.0L466.9 453.0L466.2 448.0L465.6 443.0L464.7 438.0L463.6 433.0L462.3 428.0L461.6 426.1L460.0 423.0L457.2 418.0L454.9 413.1L453.2 408.1L452.1 403.1L451.3 398.1L450.9 393.1L450.7 388.1L450.8 383.1L451.2 378.1L451.9 373.1L452.9 368.1L454.4 363.1L456.3 358.1L458.9 353.1ZM540.4 364.8L536.5 368.1L532.6 373.1L530.2 378.1L528.8 383.1L527.8 388.1L527.2 393.1L527.0 398.1L527.0 403.1L527.6 408.1L528.4 413.1L540.4 417.6L547.9 413.1L551.7 408.1L553.6 403.1L554.6 398.1L555.1 393.1L555.1 388.1L554.7 383.1L553.8 378.1L551.7 373.1L547.2 368.1ZM911.2 493.0L914.9 492.7L927.9 493.0L914.9 493.0Z" fill="#6f3507" stroke="#6f3507" stroke-width="0.6" fill-rule="evenodd"/>
<path d="M227.8 13.3L235.7 13.3L235.0 18.3L234.5 23.3L234.0 28.3L233.6 33.3L233.3 38.3L233.0 43.3L232.6 48.3L232.3 53.3L231.9 58.3L231.5 63.3L231.1 68.3L230.6 73.3L230.2 78.3L229.9 83.3L229.6 88.3L229.4 93.2L229.3 98.2L229.2 103.2L229.3 108.2L229.5 113.2L229.7 118.2L230.1 123.2L230.6 128.2L231.4 133.2L232.5 138.2L234.2 143.2L237.8 148.2L244.8 152.9L245.3 153.2L250.3 158.2L254.4 163.2L257.7 168.2L260.6 173.2L262.5 178.2L263.5 183.2L264.0 188.2L264.2 193.2L264.4 198.2L264.5 199.2L267.0 198.2L270.0 193.2L271.8 188.2L275.4 183.2L280.2 178.2L284.2 174.1L284.4 173.2L285.3 168.2L286.0 163.2L286.5 158.2L287.0 153.2L287.2 148.2L287.3 143.2L287.2 138.2L287.1 133.2L286.9 128.2L286.8 123.2L286.7 118.2L286.6 113.2L286.6 108.2L286.7 103.2L286.8 98.2L287.1 93.2L287.4 88.3L287.8 83.3L288.2 78.3L288.7 73.3L289.1 68.3L289.5 63.3L289.8 58.3L290.0 53.3L290.1 48.3L290.1 43.3L290.0 38.3L289.8 33.3L289.4 28.3L288.9 23.3L288.2 18.3L287.4 13.3L295.8 13.3L296.1 18.3L296.4 23.3L296.5 28.3L296.6 33.3L296.7 38.3L296.6 43.3L296.5 48.3L296.3 53.3L296.0 58.3L295.6 63.3L295.1 68.3L294.6 73.3L294.0 78.3L293.5 83.3L293.0 88.3L292.5 93.2L292.2 98.2L292.0 103.2L291.9 108.2L292.0 113.2L292.2 118.2L292.5 123.2L293.0 128.2L293.5 133.2L294.0 138.2L294.6 143.2L295.1 148.2L295.5 153.2L295.9 158.2L296.2 163.2L296.3 168.2L296.3 173.2L296.2 178.2L296.1 183.2L296.2 188.2L296.4 193.2L296.5 198.2L296.3 203.2L295.4 208.2L293.0 213.2L289.1 218.2L284.2 222.5L264.5 223.0L260.2 218.2L257.9 213.2L257.2 208.2L257.5 203.2L258.0 198.2L258.3 193.2L258.1 188.2L257.1 183.2L255.0 178.2L251.5 173.2L246.0 168.2L244.8 167.0L242.8 168.2L235.9 173.2L232.6 178.2L230.8 183.2L229.6 188.2L228.7 193.2L227.9 198.2L227.1 203.2L225.9 208.2L225.1 210.1L223.2 208.2L219.6 203.2L216.9 198.2L215.0 193.2L213.7 188.2L212.9 183.2L212.5 178.2L212.3 173.2L212.3 168.2L212.6 163.2L213.1 158.2L213.9 153.2L215.3 148.2L217.1 143.2L219.5 138.2L222.3 133.2L225.1 128.9L225.2 128.2L225.6 123.2L225.8 118.2L225.9 113.2L225.9 108.2L226.0 103.2L226.0 98.2L226.0 93.2L226.1 88.3L226.2 83.3L226.2 78.3L226.3 73.3L226.4 68.3L226.5 63.3L226.7 58.3L226.7 53.3L226.8 48.3L226.9 43.3L227.0 38.3L227.1 33.3L227.2 28.3L227.4 23.3L227.6 18.3ZM374.5 13.3L382.8 13.3L387.4 13.3L386.0 18.3L385.1 23.3L384.3 28.3L383.6 33.3L382.8 38.3L382.8 38.3L382.1 43.3L381.4 48.3L380.6 53.3L379.5 58.3L378.5 63.3L377.5 68.3L376.6 73.3L375.7 78.3L374.9 83.3L374.2 88.3L373.6 93.2L373.2 98.2L372.8 103.2L372.6 108.2L372.5 113.2L372.6 118.2L372.8 123.2L373.1 128.2L373.7 133.2L374.5 138.2L375.5 143.2L377.0 148.2L378.8 153.2L381.0 158.2L382.8 162.7L384.7 163.2L390.4 168.2L391.8 173.2L392.8 178.2L393.8 183.2L395.0 188.2L396.7 193.2L398.7 198.2L400.7 203.2L402.4 208.2L402.5 208.3L402.6 208.2L405.2 203.2L407.7 198.2L409.5 193.2L410.4 188.2L410.8 183.2L410.6 178.2L409.9 173.2L408.6 168.2L407.1 163.2L405.4 158.2L403.2 153.2L402.5 151.7L401.4 148.2L401.2 143.2L401.3 138.2L401.7 133.2L402.0 128.2L402.4 123.2L402.5 122.5L422.2 121.5L423.2 123.2L427.2 128.2L433.2 133.2L441.9 137.2L442.5 133.2L443.1 128.2L443.8 123.2L444.2 118.2L444.3 113.2L444.1 108.2L443.6 103.2L442.9 98.2L442.0 93.2L441.9 92.7L434.9 88.3L431.3 83.3L428.9 78.3L427.3 73.3L426.2 68.3L425.2 63.3L424.2 58.3L423.2 53.3L422.2 48.3L422.2 48.1L421.5 43.3L420.8 38.3L420.1 33.3L419.3 28.3L418.2 23.3L416.9 18.3L415.3 13.3L422.2 13.3L431.7 13.3L433.0 18.3L434.1 23.3L435.0 28.3L435.8 33.3L436.5 38.3L437.4 43.3L438.4 48.3L439.7 53.3L441.5 58.3L441.9 59.4L447.8 63.3L447.7 68.3L448.1 73.3L448.6 78.3L449.1 83.3L449.2 88.3L449.3 93.2L449.4 98.2L449.4 103.2L449.4 108.2L449.3 113.2L449.0 118.2L448.6 123.2L448.1 128.2L447.6 133.2L447.2 138.2L446.6 143.2L445.9 148.2L444.9 153.2L443.5 158.2L441.9 162.2L439.7 163.2L431.2 168.2L427.2 173.2L425.0 178.2L423.6 183.2L422.6 188.2L422.2 190.9L421.8 193.2L420.9 198.2L419.9 203.2L418.7 208.2L417.3 213.2L415.5 218.2L412.6 223.2L408.7 228.2L403.2 233.2L402.5 233.6L402.3 233.2L400.4 228.2L398.6 223.2L396.7 218.2L394.9 213.2L393.2 208.2L391.3 203.2L389.0 198.2L386.5 193.2L383.6 188.2L382.8 186.7L378.4 183.2L374.9 178.2L372.7 173.2L371.4 168.2L370.5 163.2L369.8 158.2L369.1 153.2L368.5 148.2L368.1 143.2L367.8 138.2L367.6 133.2L367.4 128.2L367.4 123.2L367.4 118.2L367.5 113.2L367.6 108.2L367.8 103.2L368.1 98.2L368.4 93.2L368.8 88.3L369.2 83.3L369.7 78.3L370.2 73.3L370.8 68.3L371.3 63.3L371.9 58.3L372.4 53.3L372.8 48.3L373.1 43.3L373.4 38.3L373.6 33.3L373.8 28.3L374.1 23.3L374.3 18.3ZM449.3 13.3L461.6 13.3L465.1 13.3L465.4 18.3L465.6 23.3L465.6 28.3L465.5 33.3L465.2 38.3L464.7 43.3L464.0 48.3L463.1 53.3L462.1 58.3L461.6 59.9L445.8 58.3L447.5 53.3L447.3 48.3L447.1 43.3L447.1 38.3L447.2 33.3L447.4 28.3L447.8 23.3L448.4 18.3ZM536.0 13.3L540.1 13.3L539.5 18.3L539.1 23.3L539.0 28.3L539.4 33.3L540.0 38.3L540.4 40.5L541.2 38.3L542.4 33.3L543.2 28.3L543.1 23.3L542.3 18.3L541.2 13.3L549.5 13.3L549.9 18.3L550.1 23.3L549.9 28.3L549.2 33.3L548.2 38.3L546.8 43.3L544.6 48.3L541.0 53.3L540.4 53.7L540.2 53.3L538.2 48.3L537.0 43.3L536.3 38.3L535.8 33.3L535.5 28.3L535.5 23.3L535.7 18.3ZM678.2 33.3L678.4 30.9L680.5 33.3L683.6 38.3L686.5 43.3L690.0 48.3L696.2 53.3L698.1 54.3L701.8 58.3L705.3 63.3L707.8 68.3L709.5 73.3L710.6 78.3L711.9 83.3L712.9 88.3L713.6 93.2L714.2 98.2L714.6 103.2L715.0 108.2L715.2 113.2L715.4 118.2L715.4 123.2L715.4 128.2L715.3 133.2L715.2 138.2L715.0 143.2L714.7 148.2L714.3 153.2L713.9 158.2L713.3 163.2L712.7 168.2L712.0 173.2L710.1 178.2L698.1 183.1L698.0 183.2L692.4 188.2L690.3 193.2L689.2 198.2L688.4 203.2L687.7 208.2L687.1 213.2L686.2 218.2L685.7 223.2L685.0 228.2L683.2 233.2L680.4 238.2L678.4 241.2L675.6 238.2L671.2 233.2L668.2 228.2L666.6 223.2L665.5 218.2L664.5 213.2L664.0 208.2L663.8 203.2L664.1 198.2L664.7 193.2L665.8 188.2L667.4 183.2L669.1 178.2L671.4 173.2L674.3 168.2L677.4 163.2L678.4 161.5L679.7 158.2L680.6 153.2L680.7 148.2L680.7 143.2L680.5 138.2L680.3 133.2L680.2 128.2L680.0 123.2L680.0 118.2L679.9 113.2L679.8 108.2L679.6 103.2L679.4 98.2L679.0 93.2L678.4 88.9L678.3 88.3L678.0 83.3L677.6 78.3L677.4 73.3L677.2 68.3L677.1 63.3L677.1 58.3L677.1 53.3L677.3 48.3L677.5 43.3L677.8 38.3ZM698.1 75.7L695.2 78.3L690.5 83.3L687.7 88.3L686.2 93.2L685.2 98.2L684.5 103.2L684.1 108.2L683.9 113.2L683.8 118.2L683.9 123.2L684.1 128.2L684.6 133.2L685.2 138.2L686.0 143.2L687.0 148.2L688.2 153.2L689.6 158.2L691.8 163.2L695.7 168.2L698.1 169.9L699.4 168.2L702.8 163.2L705.4 158.2L707.3 153.2L708.7 148.2L709.8 143.2L710.7 138.2L711.2 133.2L711.6 128.2L711.7 123.2L711.7 118.2L711.4 113.2L711.0 108.2L710.3 103.2L709.2 98.2L707.8 93.2L705.8 88.3L703.1 83.3L699.7 78.3ZM678.4 179.9L676.6 183.2L673.7 188.2L671.8 193.2L670.8 198.2L670.6 203.2L671.3 208.2L672.9 213.2L675.9 218.2L678.4 222.2L679.9 218.2L681.8 213.2L683.0 208.2L683.8 203.2L684.2 198.2L684.2 193.2L683.6 188.2L681.6 183.2ZM933.7 43.3L934.6 39.0L935.7 43.3L937.1 48.3L938.3 53.3L939.4 58.3L940.8 63.3L942.2 68.3L943.5 73.3L944.6 78.3L945.5 83.3L946.2 88.3L946.6 93.2L946.7 98.2L946.5 103.2L946.0 108.2L945.2 113.2L944.2 118.2L943.1 123.2L942.0 128.2L940.9 133.2L939.9 138.2L938.9 143.2L937.9 148.2L937.2 153.2L936.5 158.2L935.5 163.2L934.6 166.9L923.3 168.2L914.9 169.9L912.4 168.2L909.6 163.2L908.0 158.2L907.1 153.2L907.0 148.2L907.4 143.2L908.4 138.2L910.4 133.2L913.8 128.2L914.9 127.3L917.9 123.2L920.4 118.2L921.8 113.2L922.8 108.2L923.4 103.2L923.9 98.2L924.5 93.2L925.1 88.3L925.8 83.3L926.7 78.3L927.7 73.3L928.7 68.3L929.9 63.3L930.9 58.3L931.7 53.3L932.7 48.3ZM934.6 55.8L934.1 58.3L932.8 63.3L931.5 68.3L930.3 73.3L929.2 78.3L928.3 83.3L927.6 88.3L927.0 93.2L926.6 98.2L926.3 103.2L926.0 108.2L925.6 113.2L925.0 118.2L923.8 123.2L922.0 128.2L920.3 133.2L918.4 138.2L917.7 143.2L920.8 148.2L934.6 153.0L935.3 148.2L936.3 143.2L937.3 138.2L938.2 133.2L939.1 128.2L940.1 123.2L941.1 118.2L942.1 113.2L942.9 108.2L943.4 103.2L943.6 98.2L943.6 93.2L943.1 88.3L942.4 83.3L941.4 78.3L940.2 73.3L938.7 68.3L937.0 63.3L935.2 58.3ZM853.7 93.2L855.8 90.4L858.2 93.2L860.7 98.2L862.4 103.2L863.8 108.2L864.3 113.2L864.1 118.2L863.2 123.2L861.7 128.2L859.8 133.2L856.7 138.2L855.8 139.3L855.1 138.2L852.8 133.2L851.3 128.2L850.0 123.2L849.0 118.2L848.7 113.2L849.0 108.2L850.1 103.2L851.5 98.2ZM855.8 99.0L854.2 103.2L852.8 108.2L852.4 113.2L852.8 118.2L854.1 123.2L855.7 128.2L855.8 128.4L855.9 128.2L858.0 123.2L859.5 118.2L859.9 113.2L859.3 108.2L857.6 103.2ZM539.2 153.2L540.4 152.5L541.3 153.2L544.7 158.2L546.9 163.2L548.4 168.2L549.9 173.2L550.9 178.2L551.5 183.2L551.9 188.2L552.1 193.2L552.3 198.2L552.5 203.2L552.6 208.2L552.3 213.2L551.9 218.2L550.9 223.2L548.6 228.2L543.5 233.2L540.4 234.7L539.1 233.2L535.2 228.2L531.6 223.2L528.8 218.2L527.0 213.2L526.0 208.2L525.8 203.2L525.8 198.2L526.0 193.2L526.2 188.2L526.6 183.2L527.3 178.2L528.4 173.2L530.0 168.2L531.8 163.2L534.5 158.2ZM540.4 164.2L538.5 168.2L536.2 173.2L534.9 178.2L534.3 183.2L534.2 188.2L534.4 193.2L534.7 198.2L535.1 203.2L535.9 208.2L537.6 213.2L539.7 218.2L540.4 219.4L541.1 218.2L543.0 213.2L544.3 208.2L544.8 203.2L545.1 198.2L545.3 193.2L545.5 188.2L545.4 183.2L544.9 178.2L543.7 173.2L541.9 168.2ZM637.0 158.2L639.0 156.1L642.7 158.2L647.5 163.2L650.7 168.2L652.8 173.2L654.0 178.2L654.6 183.2L654.8 188.2L654.5 193.2L653.8 198.2L652.5 203.2L650.5 208.2L647.8 213.2L642.6 218.2L639.0 220.4L637.5 218.2L634.6 213.2L632.7 208.2L630.9 203.2L629.4 198.2L628.5 193.2L628.1 188.2L628.2 183.2L628.9 178.2L630.0 173.2L631.9 168.2L634.1 163.2ZM639.0 163.6L636.2 168.2L633.6 173.2L632.0 178.2L631.2 183.2L631.1 188.2L631.8 193.2L633.3 198.2L635.8 203.2L638.9 208.2L639.0 208.3L639.1 208.2L644.3 203.2L647.8 198.2L649.6 193.2L650.4 188.2L650.3 183.2L649.4 178.2L647.3 173.2L643.6 168.2ZM775.3 158.2L776.9 157.3L779.0 158.2L785.3 163.2L788.9 168.2L791.2 173.2L792.7 178.2L793.0 183.2L792.2 188.2L790.5 193.2L787.9 198.2L785.0 203.2L782.7 208.2L780.9 213.2L779.3 218.2L777.9 223.2L776.9 226.7L775.8 223.2L774.2 218.2L772.5 213.2L771.1 208.2L769.6 203.2L768.0 198.2L766.7 193.2L765.9 188.2L765.5 183.2L765.7 178.2L766.6 173.2L767.9 168.2L770.3 163.2ZM776.9 168.9L774.8 173.2L772.7 178.2L771.8 183.2L771.8 188.2L772.4 193.2L773.7 198.2L775.5 203.2L776.9 207.9L778.5 203.2L780.9 198.2L782.9 193.2L784.1 188.2L784.2 183.2L782.9 178.2L779.8 173.2ZM498.4 178.2L501.0 176.9L503.0 178.2L507.3 183.2L510.1 188.2L511.7 193.2L512.7 198.2L513.1 203.2L513.1 208.2L512.6 213.2L511.3 218.2L509.8 223.2L508.6 228.2L508.1 233.2L508.3 238.2L509.0 243.2L509.8 248.2L509.8 253.2L508.0 258.1L502.6 263.1L501.0 263.8L499.3 263.1L493.0 258.1L490.0 253.2L488.4 248.2L487.4 243.2L486.6 238.2L485.6 233.2L484.3 228.2L482.4 223.2L481.3 220.1L480.3 218.2L478.9 213.2L478.4 208.2L478.7 203.2L479.8 198.2L481.3 194.8L482.1 193.2L486.2 188.2L491.6 183.2ZM890.9 178.2L895.2 174.2L905.5 178.2L908.1 183.2L909.2 188.2L909.9 193.2L910.2 198.2L910.7 203.2L914.9 208.0L914.9 208.2L916.0 213.2L917.5 218.2L919.0 223.2L921.4 228.2L924.3 233.2L927.6 238.2L931.6 243.2L934.6 246.2L942.2 248.2L947.1 253.2L948.4 258.1L948.9 263.1L948.6 268.1L948.3 273.1L948.4 278.1L948.9 283.1L950.1 288.1L952.2 293.1L954.3 297.0L954.3 298.1L954.3 303.1L954.3 306.3L953.1 303.1L951.0 298.1L948.8 293.1L947.0 288.1L945.8 283.1L945.0 278.1L944.4 273.1L943.6 268.1L942.0 263.1L938.5 258.1L934.6 254.3L932.8 253.2L928.8 248.2L925.6 243.2L922.7 238.2L920.0 233.2L917.3 228.2L915.1 223.2L914.9 222.3L914.6 223.2L912.6 228.2L911.1 233.2L910.0 238.2L909.4 243.2L909.4 248.2L910.1 253.2L911.5 258.1L913.7 263.1L914.9 265.7L916.6 268.1L918.3 273.1L918.9 278.1L919.1 283.1L919.3 288.1L919.4 293.1L919.6 298.1L919.8 303.1L920.2 308.1L920.7 313.1L921.4 318.1L922.5 323.1L923.9 328.1L925.9 333.1L928.4 338.1L931.3 343.1L933.5 348.1L934.6 351.3L935.1 353.1L936.7 358.1L938.6 363.1L940.9 368.1L943.5 373.1L946.6 378.1L949.2 383.1L951.2 388.1L952.5 393.1L953.0 398.1L953.1 403.1L952.8 408.1L952.1 413.1L951.1 418.0L949.8 423.0L948.2 428.0L946.0 433.0L943.1 438.0L939.8 443.0L936.3 448.0L934.6 450.7L933.9 448.0L932.4 443.0L931.0 438.0L929.6 433.0L928.5 428.0L927.6 423.0L926.7 418.0L925.9 413.1L925.0 408.1L924.2 403.1L923.2 398.1L922.2 393.1L920.9 388.1L919.0 383.1L915.8 378.1L914.9 377.1L903.0 373.1L897.4 368.1L895.2 363.9L892.5 363.1L889.5 358.1L889.0 353.1L887.8 348.1L886.2 343.1L883.8 338.1L880.0 333.1L876.3 328.1L875.5 327.0L874.5 323.1L873.3 318.1L872.0 313.1L870.1 308.1L866.4 303.1L857.0 298.1L855.8 297.7L846.2 298.1L836.1 299.2L831.5 303.1L828.0 308.1L827.5 313.1L828.2 318.1L829.7 323.1L831.5 328.1L833.3 333.1L834.9 338.1L835.9 343.1L836.1 343.9L838.7 348.1L848.8 353.1L855.8 354.4L867.0 358.1L874.0 363.1L875.5 366.4L883.2 368.1L885.8 373.1L886.4 378.1L886.8 383.1L887.7 388.1L888.8 393.1L889.9 398.1L891.2 403.1L892.0 408.1L891.4 413.1L884.1 418.0L875.5 419.6L874.1 423.0L869.3 428.0L861.9 433.0L855.8 437.1L849.6 433.0L841.5 428.0L836.5 423.0L836.1 422.3L834.3 418.0L832.9 413.1L831.8 408.1L831.1 403.1L830.4 398.1L829.6 393.1L828.6 388.1L827.4 383.1L825.5 378.1L821.6 373.1L816.3 369.5L811.6 373.1L807.0 378.1L804.6 383.1L803.2 388.1L802.3 393.1L801.6 398.1L801.1 403.1L800.5 408.1L799.8 413.1L798.8 418.0L797.6 423.0L796.6 425.5L796.3 423.0L795.7 418.0L795.2 413.1L794.8 408.1L794.5 403.1L794.2 398.1L793.9 393.1L793.5 388.1L793.0 383.1L792.3 378.1L791.4 373.1L789.9 368.1L787.5 363.1L783.2 358.1L776.9 353.5L774.3 358.1L771.1 363.1L767.9 368.1L765.1 373.1L762.7 378.1L760.8 383.1L759.7 388.1L758.9 393.1L758.3 398.1L757.9 403.1L757.6 408.1L757.2 412.9L756.9 408.1L756.6 403.1L756.2 398.1L755.8 393.1L755.2 388.1L754.4 383.1L752.8 378.1L750.8 373.1L748.4 368.1L745.7 363.1L743.1 358.1L740.7 353.1L738.8 348.1L737.6 343.1L737.5 342.7L737.3 343.1L733.4 348.1L729.3 353.1L726.5 358.1L724.5 363.1L723.1 368.1L722.2 373.1L721.6 378.1L721.2 383.1L721.0 388.1L721.0 393.1L721.1 398.1L721.4 403.1L721.9 408.1L722.6 413.1L723.5 418.0L724.8 423.0L726.4 428.0L728.3 433.0L730.1 438.0L731.7 443.0L733.1 448.0L734.1 453.0L734.8 458.0L735.4 463.0L736.0 468.0L736.5 473.0L737.1 478.0L737.5 480.8L740.1 483.0L747.5 488.0L754.7 493.0L737.5 493.0L732.7 493.0L732.1 488.0L731.7 483.0L731.5 478.0L731.2 473.0L730.9 468.0L730.5 463.0L729.9 458.0L729.2 453.0L728.3 448.0L727.1 443.0L725.6 438.0L724.1 433.0L722.6 428.0L721.4 423.0L720.4 418.0L719.7 413.0L719.2 408.1L718.8 403.1L718.6 398.1L718.4 393.1L718.4 388.1L718.4 383.1L718.5 378.1L718.7 373.1L719.0 368.1L719.4 363.1L720.1 358.1L721.0 353.1L722.2 348.1L722.2 343.1L717.8 338.5L717.6 338.1L710.4 333.1L698.1 329.8L692.2 328.1L689.2 323.1L688.1 318.1L688.5 313.1L689.6 308.1L691.6 303.1L694.1 298.1L696.0 293.1L698.1 288.5L701.3 293.1L704.6 298.1L709.0 303.1L712.8 308.1L717.2 313.1L717.8 313.9L737.5 314.7L739.9 313.1L743.0 308.1L743.9 303.1L744.3 298.1L744.4 293.1L744.2 288.1L743.6 283.1L742.8 278.1L741.7 273.1L739.7 268.1L737.5 265.1L723.9 263.1L717.8 261.7L713.1 263.1L698.1 267.7L689.1 263.1L678.4 259.2L675.5 258.1L675.7 253.2L678.4 249.9L698.1 251.2L706.1 248.2L710.1 243.2L710.9 238.2L711.4 233.2L712.2 228.2L713.1 223.2L714.0 218.2L714.8 213.2L715.6 208.2L716.3 203.2L717.0 198.2L717.8 194.4L721.2 198.2L726.5 203.2L736.9 208.2L737.5 208.4L739.1 213.2L740.8 218.2L742.1 223.2L742.6 228.2L742.5 233.2L741.9 238.2L741.4 243.2L744.3 248.2L757.2 252.1L761.2 253.2L767.2 258.1L769.2 263.1L770.3 268.1L770.6 273.1L770.5 278.1L770.0 283.1L769.3 288.1L768.4 293.1L767.3 298.1L765.8 303.1L764.1 308.1L761.9 313.1L759.5 318.1L757.2 320.2L747.9 323.1L743.4 328.1L741.5 333.1L740.9 338.1L741.1 343.1L742.1 348.1L744.0 353.1L746.3 358.1L748.9 363.1L751.5 368.1L753.9 373.1L755.8 378.1L757.2 383.0L759.0 378.1L761.4 373.1L764.2 368.1L767.3 363.1L770.5 358.1L773.3 353.1L775.9 348.1L776.9 346.8L782.4 348.1L789.5 353.1L792.5 358.1L794.3 363.1L795.3 368.1L795.9 373.1L796.3 378.1L796.6 383.1L796.6 384.5L796.8 383.1L797.5 378.1L798.8 373.1L801.1 368.1L809.0 363.1L816.3 362.0L829.1 358.1L830.9 353.1L831.3 348.1L831.0 343.1L830.2 338.1L828.5 333.1L826.2 328.1L823.7 323.1L821.1 318.1L818.8 313.1L816.6 308.1L816.3 307.0L816.1 308.1L811.6 313.1L799.0 318.1L796.6 318.7L796.1 318.1L792.8 313.1L790.1 308.1L787.7 303.1L785.9 298.1L784.4 293.1L783.3 288.1L782.4 283.1L781.6 278.1L781.0 273.1L780.5 268.1L780.1 263.1L780.0 258.1L780.4 253.2L782.0 248.2L786.2 243.2L796.6 240.9L807.1 243.2L812.8 248.2L814.9 253.2L815.7 258.1L816.1 263.1L816.3 266.4L816.6 268.1L817.1 273.1L817.9 278.1L819.4 283.1L827.5 288.1L836.1 289.4L855.8 292.7L860.4 293.1L873.5 298.1L875.5 300.7L879.5 303.1L883.6 308.1L886.3 313.1L888.7 318.1L890.8 323.1L893.2 328.1L895.2 332.3L896.2 333.1L899.1 338.1L900.3 343.1L901.2 348.1L902.4 353.1L904.5 358.1L909.2 363.1L914.9 366.4L923.7 363.1L925.9 358.1L925.9 353.1L924.8 348.1L922.6 343.1L920.1 338.1L918.2 333.1L917.1 328.1L916.6 323.1L916.3 318.1L916.2 313.1L916.1 308.1L916.0 303.1L915.9 298.1L915.7 293.1L915.4 288.1L914.9 283.7L914.3 283.1L910.4 278.1L908.2 273.1L907.5 268.1L907.5 263.1L906.9 258.1L906.4 253.2L906.2 248.2L906.4 243.2L907.0 238.2L907.9 233.2L908.9 228.2L909.7 223.2L909.9 218.2L910.0 213.2L895.2 209.2L891.0 213.2L887.1 218.2L884.1 223.2L881.4 228.2L879.3 233.2L877.2 238.2L875.5 240.9L868.9 238.2L863.4 233.2L860.7 228.2L859.3 223.2L858.7 218.2L858.6 213.2L859.0 208.2L859.9 203.2L861.8 198.2L865.0 193.2L870.2 188.2L875.5 185.9L882.6 183.2ZM895.2 186.2L891.6 188.2L875.5 192.7L874.8 193.2L869.1 198.2L865.8 203.2L864.3 208.2L863.8 213.2L864.4 218.2L866.2 223.2L870.1 228.2L875.5 232.7L877.7 228.2L880.4 223.2L883.1 218.2L886.2 213.2L889.9 208.2L893.9 203.2L895.2 201.5L898.0 198.2L898.9 193.2L896.8 188.2ZM934.6 372.0L933.0 373.1L928.6 378.1L927.3 383.1L926.9 388.1L926.8 393.1L927.0 398.1L927.4 403.1L927.9 408.1L928.4 413.1L929.1 418.0L929.9 423.0L930.9 428.0L932.2 433.0L933.8 438.0L934.6 440.5L936.5 438.0L940.2 433.0L942.8 428.0L944.7 423.0L946.0 418.0L946.9 413.1L947.4 408.1L947.4 403.1L946.8 398.1L945.8 393.1L943.9 388.1L941.4 383.1L938.4 378.1L935.1 373.1ZM855.8 360.3L841.9 363.1L837.0 368.1L836.1 371.7L835.5 373.1L834.7 378.1L834.7 383.1L835.0 388.1L835.6 393.1L836.1 396.6L836.2 398.1L837.0 403.1L838.2 408.1L840.1 413.1L843.0 418.0L847.6 423.0L855.8 427.8L863.5 423.0L867.8 418.0L870.2 413.1L871.5 408.1L872.4 403.1L872.8 398.1L873.0 393.1L873.0 388.1L872.7 383.1L872.2 378.1L871.0 373.1L868.6 368.1L862.6 363.1ZM698.1 296.2L697.3 298.1L694.5 303.1L692.6 308.1L691.8 313.1L692.6 318.1L696.4 323.1L698.1 324.6L711.6 323.1L712.5 318.1L710.5 313.1L707.6 308.1L704.0 303.1L699.4 298.1ZM757.2 258.9L748.3 263.1L746.4 268.1L746.0 273.1L746.1 278.1L746.5 283.1L747.0 288.1L747.3 293.1L747.7 298.1L748.3 303.1L749.8 308.1L754.6 313.1L757.2 314.3L757.9 313.1L760.8 308.1L763.0 303.1L764.6 298.1L765.9 293.1L766.7 288.1L767.3 283.1L767.4 278.1L766.9 273.1L765.3 268.1L761.9 263.1ZM796.6 245.0L790.4 248.2L785.3 253.2L783.6 258.1L783.2 263.1L783.2 268.1L783.5 273.1L783.9 278.1L784.5 283.1L785.4 288.1L786.6 293.1L788.3 298.1L790.5 303.1L793.5 308.1L796.6 312.6L806.0 308.1L810.6 303.1L812.5 298.1L813.3 293.1L813.8 288.1L813.9 283.1L813.8 278.1L813.5 273.1L813.2 268.1L812.6 263.1L811.6 258.1L809.4 253.2L803.6 248.2ZM579.5 198.2L579.9 198.0L580.2 198.2L584.5 203.2L585.8 208.2L584.7 213.2L581.6 218.2L579.9 219.9L576.7 218.2L572.8 213.2L572.1 208.2L574.1 203.2ZM954.1 198.2L954.3 198.1L954.3 198.2L954.3 203.2L954.3 204.8L953.3 208.2L952.9 213.2L953.8 218.2L954.3 220.0L954.3 223.2L954.3 228.2L954.3 231.7L952.8 228.2L951.2 223.2L950.3 218.2L949.7 213.2L950.0 208.2L951.0 203.2ZM831.0 218.2L836.1 213.8L843.9 218.2L847.4 223.2L848.5 228.2L848.5 233.2L847.4 238.2L844.9 243.2L840.5 248.2L836.1 251.6L825.5 248.2L823.8 243.2L823.9 238.2L824.7 233.2L825.9 228.2L827.7 223.2ZM836.1 232.6L835.9 233.2L836.1 237.2L836.2 233.2ZM618.3 238.2L619.3 237.7L621.7 238.2L629.5 243.2L629.5 248.2L626.5 253.2L622.5 258.1L620.5 263.1L620.4 268.1L621.6 273.1L623.3 278.1L624.5 283.1L625.1 288.1L625.1 293.1L624.8 298.1L624.3 303.1L623.5 308.1L622.7 313.1L622.1 318.1L621.5 323.1L621.0 328.1L620.7 333.1L620.5 338.1L620.3 343.1L620.4 348.1L621.1 353.1L622.8 358.1L626.1 363.1L630.9 368.1L636.3 373.1L639.0 376.1L640.0 373.1L642.6 368.1L645.7 363.1L649.8 358.1L654.5 353.1L658.4 348.1L658.7 347.7L665.3 343.1L677.7 338.1L678.4 338.0L678.5 338.1L680.8 343.1L682.3 348.1L683.3 353.1L684.7 358.1L686.1 363.1L687.3 368.1L688.3 373.1L689.1 378.1L689.5 383.1L689.7 388.1L689.7 393.1L689.3 398.1L688.6 403.1L687.4 408.1L685.8 413.1L683.5 418.0L681.5 423.0L678.4 428.0L678.3 428.0L674.1 433.0L671.8 438.0L670.5 443.0L669.6 448.0L669.0 453.0L668.6 458.0L668.2 463.0L667.9 468.0L667.6 473.0L667.4 478.0L667.1 483.0L666.9 488.0L666.6 493.0L661.7 493.0L662.7 488.0L663.4 483.0L664.0 478.0L664.5 473.0L664.9 468.0L665.3 463.0L665.7 458.0L666.1 453.0L666.5 448.0L667.1 443.0L667.9 438.0L669.4 433.0L672.2 428.0L675.9 423.0L678.4 420.5L679.6 418.0L682.5 413.1L684.6 408.1L686.1 403.1L687.0 398.1L687.5 393.1L687.6 388.1L687.4 383.1L686.8 378.1L685.9 373.1L684.5 368.1L682.9 363.1L680.9 358.1L678.9 353.1L678.4 351.6L676.1 353.1L667.2 358.1L661.1 363.1L658.7 366.2L656.9 368.1L651.8 373.1L648.0 378.1L645.6 383.1L643.9 388.1L642.6 393.1L641.4 398.1L640.4 403.1L639.3 408.1L639.0 409.3L638.3 408.1L635.8 403.1L633.0 398.1L629.1 393.1L624.0 388.1L619.3 383.2L619.1 383.1L611.9 378.1L600.9 373.1L599.6 372.5L597.3 373.1L585.6 378.1L581.1 383.1L579.9 385.8L571.7 383.1L567.0 378.1L564.7 373.1L563.0 368.1L561.4 363.1L560.1 358.9L558.9 358.1L540.4 357.2L539.1 358.1L532.4 363.1L528.5 368.1L526.3 373.1L524.9 378.1L523.9 383.1L523.1 388.1L522.4 393.1L521.6 398.1L520.7 402.4L520.2 398.1L519.6 393.1L519.0 388.1L518.4 383.1L517.7 378.1L517.0 373.1L515.9 368.1L514.4 363.1L512.1 358.1L508.9 353.1L503.9 348.1L501.0 345.0L498.1 348.1L493.0 353.1L489.7 358.1L487.4 363.1L485.9 368.1L484.8 373.1L483.9 378.1L483.0 383.1L482.2 388.1L481.4 393.1L481.3 393.7L481.0 393.1L479.3 388.1L477.9 383.1L476.6 378.1L475.3 373.1L473.8 368.1L471.9 363.1L469.2 358.1L465.5 353.1L462.0 348.1L461.6 347.5L461.3 348.1L458.9 353.1L456.3 358.1L454.4 363.1L452.9 368.1L451.9 373.1L451.2 378.1L450.8 383.1L450.7 388.1L450.9 393.1L451.3 398.1L452.1 403.1L453.2 408.1L454.9 413.1L457.2 418.0L460.0 423.0L461.6 426.1L462.3 428.0L463.6 433.0L464.7 438.0L465.6 443.0L466.2 448.0L466.9 453.0L467.5 458.0L467.9 463.0L468.3 468.0L468.7 473.0L469.0 478.0L469.3 483.0L469.6 488.0L469.9 493.0L465.5 493.0L465.5 488.0L465.4 483.0L465.3 478.0L465.0 473.0L464.7 468.0L464.2 463.0L463.5 458.0L462.6 453.0L461.6 448.4L461.0 448.0L456.0 443.0L453.0 438.0L450.9 433.0L449.7 428.0L448.8 423.0L447.8 418.0L447.0 413.0L446.5 408.1L446.1 403.1L445.9 398.1L445.8 393.1L445.8 388.1L445.9 383.1L446.2 378.1L446.5 373.1L447.0 368.1L447.7 363.1L448.6 358.1L449.9 353.1L450.9 348.1L452.1 343.1L453.7 338.1L456.0 333.1L458.9 328.1L461.6 325.1L465.8 328.1L470.2 333.1L473.3 338.1L475.5 343.1L477.1 348.1L478.6 353.1L480.0 358.1L481.2 363.1L481.3 363.7L481.4 363.1L482.2 358.1L483.3 353.1L484.9 348.1L486.9 343.1L490.2 338.1L497.9 333.1L501.0 332.2L503.8 333.1L511.1 338.1L514.5 343.1L516.6 348.1L518.3 353.1L519.5 358.1L520.3 363.1L520.7 366.8L521.5 363.1L523.4 358.1L526.7 353.1L538.5 348.1L540.4 347.8L549.0 343.1L552.5 338.1L554.2 333.1L555.2 328.1L555.9 323.1L556.4 318.1L556.8 313.1L557.3 308.1L557.8 303.1L558.3 298.1L558.9 293.1L559.5 288.1L560.1 283.3L564.6 288.1L568.9 293.1L572.9 298.1L576.6 303.1L579.9 307.9L579.9 308.1L581.5 313.1L582.9 318.1L584.2 323.1L585.5 328.1L587.0 333.1L588.8 338.1L591.4 343.1L595.8 348.1L599.6 350.8L611.2 348.1L614.7 343.1L615.0 338.1L614.7 333.1L614.3 328.1L613.8 323.1L613.4 318.1L613.1 313.1L612.9 308.1L612.8 303.1L612.8 298.1L612.9 293.1L613.3 288.1L613.8 283.1L614.7 278.1L615.9 273.1L617.2 268.1L617.0 263.1L614.6 258.1L612.1 253.2L611.6 248.2L613.2 243.2ZM320.4 248.2L323.7 244.5L326.9 248.2L330.2 253.2L332.7 258.1L334.6 263.1L335.9 268.1L336.7 273.1L337.2 278.1L337.5 283.1L337.6 288.1L337.5 293.1L337.3 298.1L336.8 303.1L335.7 308.1L334.0 313.1L331.0 318.1L324.0 323.1L323.7 323.2L316.4 328.1L315.0 333.1L314.5 338.1L314.3 343.1L314.4 348.1L314.9 353.1L315.5 358.1L316.1 363.1L316.6 368.1L317.2 373.1L317.9 378.1L318.6 383.1L319.3 388.1L320.2 393.1L321.1 398.1L322.2 403.1L323.7 408.0L330.0 403.1L333.7 398.1L336.2 393.1L338.0 388.1L339.3 383.1L340.3 378.1L341.1 373.1L341.8 368.1L342.4 363.1L343.0 358.1L343.4 356.0L344.7 358.1L347.1 363.1L349.6 368.1L352.1 373.1L354.9 378.1L358.1 383.1L361.9 388.1L363.1 389.7L363.2 393.1L363.5 398.1L363.7 403.1L364.0 408.1L364.2 413.1L364.6 418.0L364.9 423.0L365.3 428.0L365.7 433.0L366.1 438.0L366.5 443.0L366.8 448.0L367.2 453.0L367.5 458.0L367.7 463.0L367.9 468.0L368.0 473.0L367.9 478.0L367.7 483.0L367.5 488.0L367.0 493.0L363.1 493.0L343.4 493.0L323.7 493.0L304.0 493.0L302.1 493.0L301.5 488.0L300.9 483.0L300.5 478.0L300.1 473.0L299.7 468.0L299.4 463.0L299.1 458.0L298.8 453.0L298.4 448.0L297.9 443.0L297.2 438.0L296.4 433.0L295.6 428.0L294.9 423.0L294.2 418.0L293.5 413.1L292.9 408.1L292.5 403.1L292.1 398.1L291.8 393.1L291.7 388.1L291.7 383.1L291.8 378.1L292.0 373.1L292.4 368.1L292.9 363.1L293.6 358.1L294.6 353.1L295.8 348.1L296.7 343.1L297.7 338.1L298.9 333.1L300.3 328.1L301.7 323.1L302.9 318.1L304.0 313.4L304.2 313.1L307.7 308.1L308.7 303.1L309.2 298.1L309.4 293.1L309.7 288.1L310.0 283.1L310.3 278.1L310.9 273.1L311.7 268.1L312.9 263.1L314.7 258.1L317.1 253.2ZM304.0 342.3L303.7 343.1L302.3 348.1L300.3 353.1L298.8 358.1L297.6 363.1L296.6 368.1L295.9 373.1L295.4 378.1L295.1 383.1L295.0 388.1L295.1 393.1L295.4 398.1L295.8 403.1L296.4 408.1L297.1 413.1L297.9 418.0L298.8 423.0L299.8 428.0L300.8 433.0L301.9 438.0L302.9 443.0L303.5 448.0L304.0 451.5L306.3 453.0L309.6 458.0L311.3 463.0L312.9 468.0L314.8 473.0L317.1 478.0L319.2 483.0L321.6 488.0L323.7 491.6L326.2 488.0L329.0 483.0L331.2 478.0L333.4 473.0L334.8 468.0L335.4 463.0L335.5 458.0L334.7 453.0L333.3 448.0L330.1 443.0L323.7 438.9L322.9 438.0L320.4 433.0L319.4 428.0L318.7 423.0L318.2 418.0L317.8 413.1L317.5 408.1L316.9 403.1L316.3 398.1L315.7 393.1L315.1 388.1L314.5 383.1L313.7 378.1L312.9 373.1L312.0 368.1L311.0 363.1L309.7 358.1L308.2 353.1L306.1 348.1L304.3 343.1ZM282.0 253.2L284.2 251.9L287.4 253.2L291.4 258.1L285.6 263.1L284.2 263.4L283.5 263.1L279.2 258.1ZM376.1 288.1L382.8 283.3L387.9 288.1L390.9 293.1L392.5 298.1L392.9 303.1L392.6 308.1L391.9 313.1L390.6 318.1L388.9 323.1L386.2 328.1L382.8 332.7L371.3 328.1L367.9 323.1L366.6 318.1L366.2 313.1L366.5 308.1L367.3 303.1L368.9 298.1L371.7 293.1ZM243.9 308.1L244.8 307.7L245.5 308.1L250.3 313.1L252.3 318.1L253.9 323.1L254.2 328.1L253.5 333.1L251.5 338.1L248.8 343.1L244.8 346.5L239.2 343.1L236.4 338.1L234.5 333.1L234.0 328.1L234.5 323.1L236.2 318.1L238.4 313.1ZM244.8 315.7L243.1 318.1L240.2 323.1L239.2 328.1L240.0 333.1L243.1 338.1L244.8 340.2L246.2 338.1L248.8 333.1L249.6 328.1L248.9 323.1L246.3 318.1ZM560.0 403.1L560.1 399.5L561.4 403.1L562.4 408.1L563.1 413.1L563.6 418.0L564.0 423.0L564.5 428.0L565.0 433.0L565.6 438.0L566.3 443.0L567.0 448.0L567.9 453.0L568.9 458.0L570.2 463.0L571.9 468.0L574.0 473.0L576.4 478.0L578.7 483.0L579.9 485.3L581.6 488.0L585.6 493.0L579.9 493.0L563.5 493.0L562.1 488.0L560.7 483.0L560.1 480.7L559.9 478.0L559.5 473.0L559.0 468.0L558.5 463.0L557.9 458.0L557.1 453.0L555.9 448.0L553.7 443.0L548.6 438.0L540.4 434.8L538.1 438.0L535.6 443.0L534.2 448.0L533.4 453.0L533.0 458.0L532.8 463.0L532.7 468.0L532.7 473.0L532.8 478.0L532.9 483.0L533.1 488.0L533.2 493.0L529.5 493.0L529.7 488.0L529.7 483.0L529.7 478.0L529.6 473.0L529.6 468.0L529.5 463.0L529.5 458.0L529.6 453.0L530.0 448.0L530.7 443.0L532.0 438.0L534.1 433.0L537.5 428.0L540.4 425.3L549.6 423.0L556.9 418.0L558.7 413.1L559.5 408.1ZM767.3 493.0L776.9 491.6L777.7 493.0L776.9 493.0Z" fill="#3c1e09" stroke="#3c1e09" stroke-width="0.6" fill-rule="evenodd"/>
<path d="M305.2 13.3L323.7 13.3L343.4 13.3L357.3 13.3L360.3 18.3L362.9 23.3L363.1 23.6L363.4 28.3L363.7 33.3L364.0 38.3L364.1 43.3L364.2 48.3L364.3 53.3L364.2 58.3L364.2 63.3L364.1 68.3L363.9 73.3L363.8 78.3L363.6 83.3L363.4 88.3L363.2 93.2L363.1 96.9L362.9 98.2L362.3 103.2L361.6 108.2L361.0 113.2L360.3 118.2L359.7 123.2L359.0 128.2L358.3 133.2L357.5 138.2L356.6 143.2L355.6 148.2L354.5 153.2L353.2 158.2L351.7 163.2L349.9 168.2L347.7 173.2L344.9 178.2L343.4 180.6L340.6 178.2L335.7 173.2L331.6 168.2L328.3 163.2L325.5 158.2L323.7 154.4L315.5 153.2L304.0 152.6L303.0 148.2L301.9 143.2L300.8 138.2L299.8 133.2L299.0 128.2L298.3 123.2L297.7 118.2L297.4 113.2L297.3 108.2L297.3 103.2L297.6 98.2L298.0 93.2L298.5 88.3L299.1 83.3L299.8 78.3L300.5 73.3L301.1 68.3L301.7 63.3L302.1 58.3L302.5 53.3L302.8 48.3L303.1 43.3L303.3 38.3L303.5 33.3L303.6 28.3L303.8 23.3L304.0 19.3L304.1 18.3ZM343.4 80.9L341.9 83.3L340.2 88.3L339.5 93.2L339.4 98.2L339.7 103.2L340.4 108.2L341.4 113.2L342.8 118.2L343.4 120.1L343.7 118.2L344.3 113.2L344.7 108.2L345.0 103.2L345.0 98.2L344.8 93.2L344.4 88.3L343.8 83.3ZM304.0 89.2L303.4 93.2L302.9 98.2L302.7 103.2L302.6 108.2L302.8 113.2L303.3 118.2L304.0 122.9L307.4 118.2L309.7 113.2L311.0 108.2L311.3 103.2L310.7 98.2L308.5 93.2ZM470.0 13.3L474.9 13.3L474.5 18.3L474.1 23.3L473.8 28.3L473.5 33.3L473.2 38.3L472.9 43.3L472.5 48.3L472.1 53.3L471.7 58.3L471.2 63.3L470.6 68.3L469.9 73.3L469.2 78.3L468.3 83.3L467.1 88.3L465.5 93.2L463.1 98.2L461.6 100.7L461.0 103.2L460.0 108.2L459.3 113.2L458.7 118.2L458.3 123.2L458.0 128.2L457.9 133.2L458.0 138.2L458.3 143.2L459.0 148.2L459.9 153.2L461.4 158.2L461.6 158.8L462.6 158.2L471.0 153.2L479.0 148.2L481.3 146.7L482.2 148.2L488.4 153.2L501.0 156.8L510.1 153.2L515.7 148.2L518.4 143.2L519.8 138.2L520.7 133.2L520.7 132.7L521.0 133.2L531.2 138.2L540.4 139.0L551.8 143.2L556.2 148.2L558.3 153.2L559.5 158.2L560.1 161.1L565.0 158.2L572.1 153.2L578.2 148.2L579.9 146.8L599.6 143.4L603.4 148.2L605.0 153.2L605.5 158.2L605.6 163.2L605.6 168.2L605.6 173.2L605.8 178.2L606.2 183.2L607.0 188.2L608.2 193.2L609.9 198.2L612.2 203.2L615.5 208.2L619.3 211.9L620.2 208.2L621.1 203.2L621.5 198.2L621.8 193.2L622.1 188.2L622.3 183.2L622.6 178.2L623.0 173.2L623.4 168.2L623.8 163.2L624.2 158.2L625.1 153.2L627.2 148.2L633.1 143.2L639.0 141.2L650.8 138.2L657.3 133.2L658.7 131.4L660.0 128.2L661.8 123.2L663.3 118.2L664.5 113.2L665.5 108.2L666.3 103.2L666.9 98.2L667.4 93.2L667.8 88.3L668.1 83.3L668.4 78.3L668.6 73.3L668.8 68.3L668.9 63.3L669.1 58.3L669.2 53.3L669.3 48.3L669.4 43.3L669.5 38.3L669.5 33.3L669.5 28.3L669.5 23.3L669.4 18.3L669.2 13.3L675.1 13.3L674.8 18.3L674.4 23.3L674.1 28.3L673.8 33.3L673.6 38.3L673.4 43.3L673.3 48.3L673.2 53.3L673.1 58.3L673.0 63.3L673.0 68.3L673.0 73.3L673.0 78.3L673.0 83.3L673.1 88.3L673.1 93.2L673.2 98.2L673.2 103.2L673.2 108.2L673.0 113.2L672.7 118.2L672.3 123.2L671.8 128.2L671.1 133.2L670.2 138.2L669.1 143.2L667.6 148.2L665.8 153.2L663.8 158.2L662.1 163.2L660.7 168.2L659.6 173.2L658.8 178.2L658.7 179.3L658.6 178.2L658.3 173.2L657.7 168.2L656.7 163.2L654.9 158.2L650.5 153.2L639.0 149.3L633.9 153.2L630.6 158.2L629.0 163.2L627.7 168.2L626.5 173.2L625.7 178.2L625.3 183.2L625.1 188.2L625.2 193.2L625.5 198.2L626.0 203.2L626.4 208.2L626.7 213.2L627.2 218.2L627.5 223.2L626.1 228.2L619.3 231.0L614.5 233.2L607.2 238.2L604.3 243.2L602.6 248.2L600.8 253.2L599.6 255.9L595.7 253.2L590.5 248.2L587.4 243.2L585.9 238.2L585.6 233.2L587.2 228.2L590.4 223.2L593.3 218.2L595.1 213.2L595.9 208.2L595.7 203.2L594.5 198.2L590.4 193.2L581.0 188.2L579.9 187.7L578.2 188.2L565.8 193.2L561.6 198.2L560.1 202.5L559.6 198.2L558.9 193.2L558.3 188.2L557.7 183.2L556.9 178.2L556.1 173.2L554.9 168.2L553.7 163.2L552.1 158.2L549.8 153.2L545.0 148.2L540.4 145.5L532.5 148.2L526.7 153.2L524.3 158.2L522.7 163.2L521.5 168.2L520.7 172.0L515.5 168.2L501.0 165.8L486.8 168.2L481.3 170.2L476.2 173.2L469.0 178.2L463.7 183.2L461.6 185.8L459.1 188.2L457.3 193.2L456.4 198.2L455.6 203.2L454.6 208.2L453.1 213.2L451.0 218.2L447.7 223.2L442.3 228.2L441.9 228.5L441.6 228.2L437.4 223.2L434.9 218.2L433.4 213.2L432.7 208.2L432.6 203.2L433.1 198.2L434.2 193.2L436.0 188.2L438.8 183.2L441.9 179.5L446.6 178.2L451.1 173.2L452.1 168.2L452.5 163.2L452.4 158.2L452.4 153.2L452.4 148.2L452.5 143.2L452.6 138.2L452.8 133.2L453.0 128.2L453.4 123.2L453.9 118.2L454.3 113.2L454.7 108.2L455.2 103.2L455.8 98.2L456.6 93.2L457.7 88.3L459.2 83.3L461.5 78.3L461.6 78.0L463.2 73.3L464.6 68.3L465.9 63.3L466.9 58.3L467.6 53.3L468.3 48.3L468.8 43.3L469.2 38.3L469.5 33.3L469.7 28.3L469.9 23.3L470.0 18.3ZM527.9 13.3L531.9 13.3L531.9 18.3L531.9 23.3L532.0 28.3L532.3 33.3L532.6 38.3L533.1 43.3L533.9 48.3L535.1 53.3L538.0 58.3L540.4 60.9L545.4 58.3L550.4 53.3L552.7 48.3L554.2 43.3L555.2 38.3L556.0 33.3L556.6 28.3L557.1 23.3L557.4 18.3L557.8 13.3L560.1 13.3L570.6 13.3L569.3 18.3L568.0 23.3L566.8 28.3L565.6 33.3L564.3 38.3L562.9 43.3L561.4 48.3L560.1 52.1L559.9 53.3L558.4 58.3L554.7 63.3L540.4 67.7L534.5 63.3L531.6 58.3L530.1 53.3L529.5 48.3L529.2 43.3L528.9 38.3L528.7 33.3L528.5 28.3L528.3 23.3L528.1 18.3ZM592.7 13.3L599.6 13.3L605.7 13.3L603.5 18.3L601.3 23.3L599.6 27.0L597.4 23.3L594.9 18.3ZM723.4 13.3L734.9 13.3L733.6 18.3L732.5 23.3L731.7 28.3L731.1 33.3L730.6 38.3L730.3 43.3L730.0 48.3L729.5 53.3L728.7 58.3L727.4 63.3L725.9 68.3L724.4 73.3L723.1 78.3L722.1 83.3L721.5 88.3L721.2 93.2L721.1 98.2L721.3 103.2L721.8 108.2L722.6 113.2L723.7 118.2L725.2 123.2L727.1 128.2L729.3 133.2L731.8 138.2L734.8 143.2L737.5 147.1L745.7 143.2L753.3 138.2L757.2 134.5L762.0 138.2L776.9 142.0L793.6 138.2L796.6 136.5L800.0 138.2L807.3 143.2L812.4 148.2L816.2 153.2L816.3 153.4L818.3 158.2L820.3 163.2L822.4 168.2L824.7 173.2L827.5 178.2L830.9 183.2L835.9 188.2L836.1 188.3L836.2 188.2L840.8 183.2L844.1 178.2L846.6 173.2L848.2 168.2L848.9 163.2L848.9 158.2L848.1 153.2L846.9 148.2L845.4 143.2L844.1 138.2L843.2 133.2L842.6 128.2L842.0 123.2L841.5 118.2L841.3 113.2L841.4 108.2L841.8 103.2L842.4 98.2L843.4 93.2L845.1 88.3L848.4 83.3L853.3 78.3L855.8 76.1L859.1 78.3L864.9 83.3L868.3 88.3L870.1 93.2L871.3 98.2L872.1 103.2L872.8 108.2L873.3 113.2L873.5 118.2L873.6 123.2L873.5 128.2L873.3 133.2L872.7 138.2L871.5 143.2L869.8 148.2L867.9 153.2L866.5 158.2L866.5 163.2L869.1 168.2L875.5 171.6L878.4 168.2L881.0 163.2L882.3 158.2L883.0 153.2L883.3 148.2L883.7 143.2L884.5 138.2L886.5 133.2L891.1 128.2L895.2 125.8L896.3 123.2L900.2 118.2L909.5 113.2L914.9 111.8L916.2 108.2L917.6 103.2L918.6 98.2L919.4 93.2L920.2 88.3L920.9 83.3L921.7 78.3L922.5 73.3L923.3 68.3L924.0 63.3L924.6 58.3L925.0 53.3L925.2 48.3L925.4 43.3L925.4 38.3L925.3 33.3L924.9 28.3L924.0 23.3L922.5 18.3L920.3 13.3L931.9 13.3L932.0 18.3L931.8 23.3L931.4 28.3L930.8 33.3L930.1 38.3L929.5 43.3L928.9 48.3L928.4 53.3L927.8 58.3L926.9 63.3L926.0 68.3L925.1 73.3L924.2 78.3L923.4 83.3L922.6 88.3L922.0 93.2L921.3 98.2L920.5 103.2L919.5 108.2L918.0 113.2L915.7 118.2L914.9 119.6L908.7 123.2L904.1 128.2L901.7 133.2L900.0 138.2L898.9 143.2L898.0 148.2L897.0 153.2L895.6 158.2L895.2 159.1L893.2 163.2L889.9 168.2L885.2 173.2L878.9 178.2L875.5 179.9L861.2 183.2L856.8 188.2L855.8 191.2L854.4 193.2L849.6 198.2L836.9 203.2L836.1 203.3L817.6 208.2L816.5 213.2L816.3 214.6L816.1 218.2L815.6 223.2L814.6 228.2L811.8 233.2L796.6 236.8L786.0 233.2L784.1 228.2L784.0 223.2L784.8 218.2L786.4 213.2L788.6 208.2L791.5 203.2L795.0 198.2L796.6 195.4L808.2 193.2L810.3 188.2L809.8 183.2L808.5 178.2L806.7 173.2L804.2 168.2L801.0 163.2L796.9 158.2L796.6 157.9L790.7 153.2L776.9 149.7L765.7 153.2L760.8 158.2L759.1 163.2L758.4 168.2L758.4 173.2L758.7 178.2L759.2 183.2L760.0 188.2L761.0 193.2L762.3 198.2L763.8 203.2L765.1 208.2L766.4 213.2L767.7 218.2L768.7 223.2L769.5 228.2L769.9 233.2L769.4 238.2L766.2 243.2L757.2 245.9L752.6 243.2L749.7 238.2L748.8 233.2L748.3 228.2L747.8 223.2L747.1 218.2L746.4 213.2L746.0 208.2L745.7 203.2L745.8 198.2L746.4 193.2L747.2 188.2L748.0 183.2L748.4 178.2L746.8 173.2L737.5 169.1L736.7 168.2L732.3 163.2L728.9 158.2L726.3 153.2L724.5 148.2L723.0 143.2L722.0 138.2L721.1 133.2L720.4 128.2L719.8 123.2L719.3 118.2L718.9 113.2L718.7 108.2L718.6 103.2L718.5 98.2L718.6 93.2L718.7 88.3L718.9 83.3L719.2 78.3L719.6 73.3L720.1 68.3L720.6 63.3L721.0 58.3L721.3 53.3L721.5 48.3L721.7 43.3L721.8 38.3L722.0 33.3L722.2 28.3L722.5 23.3L722.9 18.3ZM757.2 200.7L756.1 203.2L754.5 208.2L753.7 213.2L753.5 218.2L753.6 223.2L754.1 228.2L755.1 233.2L757.2 237.6L760.4 233.2L761.5 228.2L761.6 223.2L761.1 218.2L760.2 213.2L759.1 208.2L757.9 203.2ZM855.8 83.9L851.4 88.3L848.5 93.2L847.0 98.2L846.0 103.2L845.2 108.2L845.0 113.2L845.3 118.2L846.0 123.2L846.9 128.2L848.0 133.2L849.6 138.2L852.0 143.2L854.8 148.2L855.8 150.1L857.2 148.2L861.5 143.2L864.7 138.2L866.5 133.2L867.6 128.2L868.4 123.2L868.8 118.2L868.8 113.2L868.3 108.2L867.3 103.2L866.0 98.2L864.1 93.2L860.9 88.3ZM796.6 205.0L794.5 208.2L791.9 213.2L790.3 218.2L790.1 223.2L791.7 228.2L796.6 232.2L803.7 228.2L806.5 223.2L807.0 218.2L805.8 213.2L802.1 208.2ZM795.2 13.3L796.6 13.3L804.1 13.3L798.8 18.3L796.6 20.9L796.2 18.3ZM856.1 13.3L875.5 13.3L895.2 13.3L904.5 13.3L901.0 18.3L898.6 23.3L896.7 28.3L895.2 33.0L875.5 33.1L871.8 28.3L867.8 23.3L863.1 18.3ZM937.1 13.3L948.1 13.3L946.8 18.3L945.9 23.3L945.5 28.3L945.4 33.3L945.7 38.3L946.0 43.3L946.5 48.3L947.1 53.3L947.7 58.3L948.5 63.3L949.4 68.3L950.2 73.3L951.0 78.3L951.6 83.3L952.2 88.3L952.6 93.2L952.8 98.2L952.7 103.2L952.3 108.2L951.6 113.2L950.5 118.2L949.2 123.2L947.8 128.2L946.4 133.2L945.2 138.2L944.0 143.2L943.0 148.2L942.4 153.2L941.9 158.2L941.4 163.2L941.1 168.2L940.4 173.2L939.3 178.2L936.7 183.2L934.6 184.7L930.1 188.2L926.3 193.2L924.3 198.2L923.4 203.2L923.4 208.2L923.9 213.2L925.1 218.2L926.9 223.2L929.5 228.2L933.0 233.2L934.6 235.2L937.8 233.2L941.6 228.2L942.8 223.2L943.3 218.2L943.3 213.2L943.3 208.2L943.4 203.2L943.8 198.2L946.9 193.2L954.3 190.4L954.3 193.2L954.3 194.4L949.0 198.2L947.2 203.2L946.6 208.2L946.5 213.2L946.8 218.2L947.0 223.2L947.2 228.2L946.5 233.2L942.6 238.2L934.6 240.5L932.5 238.2L928.6 233.2L925.4 228.2L923.0 223.2L921.3 218.2L920.0 213.2L919.2 208.2L918.6 203.2L918.5 198.2L918.9 193.2L920.2 188.2L923.1 183.2L930.1 178.2L934.6 176.4L936.1 173.2L937.6 168.2L938.5 163.2L939.2 158.2L939.8 153.2L940.5 148.2L941.5 143.2L942.5 138.2L943.7 133.2L944.9 128.2L946.2 123.2L947.4 118.2L948.4 113.2L949.2 108.2L949.6 103.2L949.7 98.2L949.6 93.2L949.2 88.3L948.6 83.3L947.8 78.3L946.9 73.3L945.8 68.3L944.6 63.3L943.5 58.3L942.7 53.3L941.8 48.3L940.9 43.3L940.0 38.3L939.0 33.3L938.2 28.3L937.6 23.3L937.2 18.3ZM241.6 178.2L244.8 175.3L247.6 178.2L250.7 183.2L252.2 188.2L252.4 193.2L251.6 198.2L250.0 203.2L247.4 208.2L244.8 212.1L240.8 208.2L237.7 203.2L236.1 198.2L235.8 193.2L236.4 188.2L238.1 183.2ZM244.8 184.6L243.2 188.2L242.8 193.2L244.3 198.2L244.8 199.0L245.2 198.2L246.5 193.2L246.2 188.2ZM696.5 193.2L698.1 191.0L702.3 193.2L706.3 198.2L707.5 203.2L707.6 208.2L706.9 213.2L705.6 218.2L703.7 223.2L701.2 228.2L698.4 233.2L698.1 233.7L697.8 233.2L695.2 228.2L693.5 223.2L692.5 218.2L692.3 213.2L692.5 208.2L693.1 203.2L694.3 198.2ZM698.1 202.0L697.7 203.2L697.2 208.2L697.5 213.2L698.1 215.7L699.0 213.2L699.6 208.2L698.8 203.2ZM378.1 208.2L382.8 205.4L383.9 208.2L385.6 213.2L386.9 218.2L387.8 223.2L388.4 228.2L388.4 233.2L388.2 238.2L388.2 243.2L391.2 248.2L397.1 253.2L394.4 258.1L382.8 261.1L376.9 258.1L374.1 253.2L374.9 248.2L375.5 243.2L374.2 238.2L372.9 233.2L372.1 228.2L372.0 223.2L372.6 218.2L374.3 213.2ZM891.1 218.2L895.2 213.8L902.6 218.2L904.8 223.2L905.1 228.2L904.6 233.2L903.9 238.2L903.3 243.2L902.9 248.2L902.7 253.2L902.4 258.1L901.3 263.1L898.5 268.1L895.2 272.4L893.5 273.1L887.0 278.1L879.8 283.1L875.5 284.9L868.8 288.1L855.8 289.5L849.1 288.1L836.1 283.2L835.9 283.1L828.1 278.1L825.4 273.1L824.9 268.1L826.3 263.1L833.3 258.1L836.1 257.4L843.7 253.2L850.6 248.2L855.5 243.2L855.8 242.8L856.4 243.2L875.5 247.6L879.6 243.2L881.8 238.2L883.3 233.2L885.2 228.2L887.8 223.2ZM895.2 218.1L895.1 218.2L891.5 223.2L889.0 228.2L887.4 233.2L886.4 238.2L885.4 243.2L883.5 248.2L879.4 253.2L875.5 256.3L865.6 253.2L855.8 251.4L853.3 253.2L844.4 258.1L836.7 263.1L836.1 264.0L833.1 268.1L833.7 273.1L836.1 276.0L837.8 278.1L846.0 283.1L855.8 286.3L866.1 283.1L871.3 278.1L873.5 273.1L875.2 268.1L875.5 267.4L893.0 263.1L895.2 263.0L897.8 258.1L899.0 253.2L899.6 248.2L900.2 243.2L900.9 238.2L901.4 233.2L901.3 228.2L899.9 223.2L895.3 218.2ZM518.1 228.2L520.7 223.4L523.9 228.2L526.7 233.2L528.2 238.2L527.4 243.2L520.7 247.0L518.6 243.2L516.9 238.2L516.7 233.2ZM638.0 253.2L639.0 251.7L642.2 253.2L648.4 258.1L649.5 263.1L646.5 268.1L639.0 271.6L635.2 268.1L632.7 263.1L634.1 258.1ZM537.7 258.1L540.4 255.6L542.2 258.1L544.5 263.1L546.0 268.1L547.0 273.1L547.7 278.1L548.2 283.1L548.6 288.1L548.8 293.1L549.0 298.1L549.1 303.1L549.2 308.1L549.2 313.1L549.1 318.1L548.8 323.1L547.9 328.1L546.2 333.1L543.0 338.1L540.4 340.3L534.1 338.1L528.9 333.1L527.0 328.1L526.2 323.1L526.0 318.1L526.0 313.1L526.2 308.1L526.4 303.1L526.8 298.1L527.2 293.1L527.8 288.1L528.6 283.1L529.6 278.1L530.9 273.1L532.5 268.1L534.7 263.1ZM540.4 302.7L540.4 303.1L539.3 308.1L538.5 313.1L538.0 318.1L538.4 323.1L540.1 328.1L540.4 328.5L540.6 328.1L541.7 323.1L541.9 318.1L541.7 313.1L541.1 308.1L540.5 303.1ZM776.5 263.1L776.9 261.7L777.1 263.1L777.8 268.1L778.6 273.1L779.4 278.1L780.2 283.1L781.2 288.1L782.2 293.1L783.4 298.1L784.9 303.1L786.7 308.1L788.6 313.1L790.7 318.1L794.0 323.1L796.3 328.1L795.8 333.1L791.6 338.1L776.9 341.2L775.3 343.1L771.8 348.1L769.4 353.1L766.6 358.1L763.5 363.1L760.4 368.1L757.6 373.1L757.2 374.0L756.9 373.1L754.6 368.1L752.0 363.1L749.5 358.1L747.2 353.1L745.5 348.1L744.7 343.1L744.9 338.1L746.5 333.1L750.5 328.1L757.2 324.5L760.0 323.1L764.5 318.1L765.9 313.1L767.4 308.1L768.7 303.1L769.9 298.1L770.9 293.1L771.8 288.1L772.7 283.1L773.6 278.1L774.4 273.1L775.3 268.1ZM776.9 277.0L776.6 278.1L775.5 283.1L774.4 288.1L773.4 293.1L772.5 298.1L771.6 303.1L770.7 308.1L769.9 313.1L769.4 318.1L767.8 323.1L758.6 328.1L757.2 328.3L751.6 333.1L749.0 338.1L748.3 343.1L748.8 348.1L750.4 353.1L752.7 358.1L755.2 363.1L757.2 367.1L759.7 363.1L762.7 358.1L765.4 353.1L767.6 348.1L770.1 343.1L773.3 338.1L776.9 334.7L780.2 333.1L785.2 328.1L786.1 323.1L785.2 318.1L784.4 313.1L783.3 308.1L782.1 303.1L781.0 298.1L780.0 293.1L779.0 288.1L778.1 283.1L777.1 278.1ZM235.7 268.1L244.8 263.5L260.9 268.1L264.5 270.8L284.2 271.7L288.3 273.1L292.5 278.1L293.9 283.1L294.6 288.1L294.9 293.1L295.0 298.1L294.8 303.1L294.4 308.1L293.8 313.1L293.2 318.1L292.4 323.1L291.6 328.1L290.9 333.1L290.2 338.1L289.7 343.1L289.3 348.1L288.8 353.1L288.5 358.1L288.2 363.1L288.1 368.1L288.1 373.1L288.1 378.1L288.2 383.1L288.3 388.1L288.5 393.1L288.8 398.1L289.1 403.1L289.5 408.1L289.9 413.1L290.4 418.0L290.9 423.0L291.5 428.0L292.0 433.0L292.5 438.0L292.9 443.0L293.2 448.0L293.4 453.0L293.5 458.0L293.5 463.0L293.5 468.0L293.6 473.0L293.5 478.0L293.5 483.0L293.4 488.0L293.3 493.0L284.5 493.0L285.3 488.0L286.0 483.0L286.6 478.0L287.0 473.0L287.4 468.0L287.7 463.0L287.9 458.0L288.0 453.0L288.0 448.0L288.0 443.0L287.8 438.0L287.6 433.0L287.3 428.0L287.0 423.0L286.7 418.0L286.4 413.0L286.1 408.1L285.8 403.1L285.5 398.1L285.2 393.1L284.9 388.1L284.7 383.1L284.4 378.1L284.2 374.9L283.8 373.1L282.6 368.1L281.5 363.1L280.6 358.1L279.8 353.1L279.2 348.1L278.6 343.1L278.2 338.1L277.7 333.1L277.2 328.1L276.0 323.1L271.7 318.1L264.5 315.9L264.2 318.1L263.8 323.1L263.4 328.1L262.9 333.1L262.1 338.1L261.1 343.1L259.1 348.1L252.6 353.1L244.8 355.2L234.2 358.1L230.7 363.1L229.6 368.1L229.0 373.1L228.7 378.1L228.5 383.1L228.4 388.1L228.3 393.1L228.3 398.1L228.3 403.1L228.3 408.1L228.4 413.1L228.6 418.0L228.8 423.0L229.1 428.0L229.4 433.0L229.8 438.0L230.2 443.0L230.7 448.0L231.2 453.0L231.7 458.0L232.2 463.0L232.7 468.0L233.2 473.0L233.7 478.0L234.3 483.0L234.9 488.0L235.6 493.0L227.4 493.0L227.2 488.0L227.0 483.0L226.8 478.0L226.7 473.0L226.5 468.0L226.4 463.0L226.2 458.0L226.1 453.0L226.0 448.0L225.9 443.0L225.8 438.0L225.7 433.0L225.6 428.0L225.6 423.0L225.5 418.0L225.4 413.0L225.4 408.1L225.3 403.1L225.2 398.1L225.1 393.7L224.9 393.1L223.4 388.1L221.8 383.1L220.3 378.1L218.9 373.1L217.6 368.1L216.5 363.1L215.6 358.1L214.9 353.1L214.3 348.1L213.9 343.1L213.7 338.1L213.6 333.1L213.7 328.1L213.9 323.1L214.3 318.1L214.8 313.1L215.6 308.1L216.7 303.1L218.2 298.1L220.1 293.1L222.7 288.1L225.1 284.5L225.6 283.1L227.5 278.1L230.4 273.1ZM244.8 281.2L243.3 283.1L242.2 288.1L244.8 291.9L248.5 288.1L246.9 283.1ZM244.8 301.6L237.6 303.1L230.9 308.1L229.7 313.1L229.2 318.1L228.8 323.1L228.7 328.1L228.9 333.1L229.6 338.1L230.6 343.1L234.1 348.1L244.8 350.9L250.7 348.1L255.0 343.1L256.8 338.1L258.2 333.1L258.8 328.1L258.8 323.1L258.3 318.1L257.6 313.1L255.9 308.1L249.3 303.1ZM455.7 268.1L461.6 263.8L467.3 268.1L471.1 273.1L473.1 278.1L473.9 283.1L474.0 288.1L473.1 293.1L471.0 298.1L466.1 303.1L461.6 305.5L456.1 303.1L451.2 298.1L449.3 293.1L448.7 288.1L448.9 283.1L449.8 278.1L451.9 273.1ZM670.1 268.1L678.4 266.6L683.1 268.1L692.8 273.1L695.9 278.1L695.7 283.1L694.1 288.1L692.5 293.1L690.9 298.1L688.6 303.1L686.6 308.1L685.1 313.1L683.7 318.1L682.1 323.1L678.4 327.6L668.1 323.1L663.8 318.1L661.9 313.1L660.8 308.1L660.3 303.1L660.0 298.1L660.0 293.1L660.1 288.1L660.5 283.1L661.2 278.1L663.0 273.1ZM678.4 271.3L674.1 273.1L668.5 278.1L666.2 283.1L665.0 288.1L664.6 293.1L664.8 298.1L665.6 303.1L667.2 308.1L670.2 313.1L675.9 318.1L678.4 319.6L679.3 318.1L681.7 313.1L683.7 308.1L685.6 303.1L687.6 298.1L688.9 293.1L689.9 288.1L690.2 283.1L688.5 278.1L682.4 273.1ZM953.7 268.1L954.3 266.2L954.3 268.1L954.3 273.1L954.3 278.1L954.3 283.1L954.3 288.1L954.3 290.3L953.3 288.1L952.0 283.1L951.7 278.1L952.3 273.1ZM709.6 273.1L717.8 270.5L735.1 273.1L737.5 273.6L739.4 278.1L740.7 283.1L741.5 288.1L741.5 293.1L740.9 298.1L739.4 303.1L737.5 306.5L717.8 307.8L713.9 303.1L709.7 298.1L706.6 293.1L704.1 288.1L701.9 283.1L702.3 278.1ZM717.8 277.4L716.2 278.1L710.7 283.1L710.3 288.1L712.0 293.1L714.9 298.1L717.8 301.7L737.5 298.2L737.5 298.1L738.6 293.1L738.7 288.1L737.8 283.1L737.5 282.2L721.9 278.1ZM500.9 278.1L501.0 278.1L501.1 278.1L508.6 283.1L511.5 288.1L512.9 293.1L513.5 298.1L513.4 303.1L512.7 308.1L510.9 313.1L506.0 318.1L501.0 320.2L496.6 318.1L491.9 313.1L490.0 308.1L489.2 303.1L489.1 298.1L489.7 293.1L491.0 288.1L493.8 283.1ZM401.5 313.1L402.5 310.1L422.2 310.3L425.0 313.1L428.9 318.1L431.8 323.1L434.1 328.1L435.7 333.1L437.0 338.1L437.9 343.1L438.6 348.1L439.0 353.1L439.1 358.1L439.1 363.1L439.0 368.1L438.7 373.1L438.2 378.1L437.5 383.1L436.7 388.1L435.8 393.1L434.6 398.1L433.3 403.1L431.7 408.1L429.8 413.1L427.6 418.0L425.2 423.0L422.4 428.0L422.2 428.4L421.9 433.0L421.6 438.0L421.3 443.0L421.1 448.0L420.9 453.0L420.8 458.0L420.6 463.0L420.4 468.0L420.2 473.0L420.0 478.0L419.8 483.0L419.5 488.0L419.1 493.0L410.9 493.0L411.9 488.0L412.7 483.0L413.4 478.0L413.9 473.0L414.3 468.0L414.7 463.0L415.0 458.0L415.2 453.0L415.4 448.0L415.5 443.0L415.6 438.0L415.7 433.0L415.7 428.0L415.7 423.0L415.7 418.0L415.7 413.1L415.7 408.1L415.6 403.1L415.5 398.1L415.3 393.1L414.9 388.1L414.3 383.1L413.2 378.1L411.3 373.1L408.3 368.1L404.3 363.1L402.5 360.4L402.0 358.1L399.9 353.1L382.8 350.4L379.7 353.1L375.9 358.1L373.6 363.1L372.1 368.1L371.0 373.1L370.3 378.1L369.8 383.1L369.6 388.1L369.5 393.1L369.5 398.1L369.7 403.1L370.0 408.1L370.4 413.1L370.9 418.0L371.6 423.0L372.4 428.0L373.4 433.0L374.4 438.0L375.5 443.0L376.6 448.0L377.9 453.0L379.1 458.0L380.5 463.0L381.9 468.0L382.8 471.0L383.7 473.0L385.6 478.0L387.4 483.0L389.2 488.0L391.0 493.0L382.8 493.0L379.4 493.0L378.3 488.0L377.4 483.0L376.5 478.0L375.7 473.0L374.9 468.0L374.1 463.0L373.3 458.0L372.5 453.0L371.7 448.0L371.0 443.0L370.2 438.0L369.5 433.0L368.9 428.0L368.3 423.0L367.7 418.0L367.3 413.1L367.0 408.1L366.7 403.1L366.5 398.1L366.4 393.1L366.3 388.1L366.3 383.1L366.3 378.1L366.5 373.1L366.8 368.1L367.3 363.1L368.1 358.1L369.5 353.1L372.1 348.1L378.7 343.1L382.8 341.6L389.0 338.1L393.6 333.1L396.0 328.1L398.0 323.1L399.7 318.1ZM638.5 313.1L639.0 312.2L640.6 313.1L645.7 318.1L647.8 323.1L648.3 328.1L647.8 333.1L646.1 338.1L643.1 343.1L639.1 348.1L639.0 348.2L638.9 348.1L635.7 343.1L633.8 338.1L633.1 333.1L633.2 328.1L634.2 323.1L635.9 318.1ZM808.5 323.1L816.3 321.1L817.7 323.1L821.0 328.1L823.6 333.1L825.5 338.1L826.2 343.1L825.6 348.1L822.9 353.1L816.3 357.0L803.8 353.1L800.4 348.1L799.2 343.1L798.3 338.1L797.3 333.1L797.3 328.1ZM816.3 329.1L809.9 333.1L807.6 338.1L807.7 343.1L810.3 348.1L816.3 351.9L819.8 348.1L821.3 343.1L820.8 338.1L818.8 333.1ZM689.3 338.1L698.1 334.2L706.8 338.1L711.6 343.1L713.2 348.1L713.7 353.1L713.9 358.1L713.9 363.1L713.8 368.1L713.8 373.1L713.7 378.1L713.7 383.1L713.7 388.1L713.7 393.1L713.9 398.1L714.2 403.1L714.8 408.1L715.6 413.1L716.6 418.0L717.8 422.2L717.9 423.0L718.8 428.0L719.9 433.0L721.2 438.0L722.4 443.0L723.5 448.0L724.4 453.0L725.1 458.0L725.5 463.0L725.8 468.0L725.9 473.0L725.8 478.0L725.6 483.0L725.3 488.0L724.8 493.0L717.8 493.0L698.1 493.0L691.1 493.0L698.1 488.9L717.8 490.1L718.4 488.0L719.5 483.0L720.2 478.0L720.6 473.0L720.7 468.0L720.6 463.0L720.2 458.0L719.6 453.0L718.8 448.0L717.8 443.2L717.7 443.0L715.5 438.0L713.6 433.0L712.0 428.0L710.8 423.0L709.9 418.0L709.2 413.1L708.7 408.1L708.5 403.1L708.3 398.1L708.3 393.1L708.3 388.1L708.4 383.1L708.4 378.1L708.4 373.1L708.3 368.1L708.1 363.1L707.7 358.1L707.0 353.1L705.7 348.1L702.9 343.1L698.1 339.4L694.4 343.1L692.8 348.1L692.2 353.1L692.2 358.1L692.6 363.1L693.0 368.1L693.3 373.1L693.7 378.1L693.9 383.1L694.0 388.1L694.0 393.1L693.9 398.1L693.6 403.1L693.1 408.1L692.4 413.1L691.3 418.0L690.4 423.0L688.8 428.0L685.9 433.0L681.4 438.0L678.4 440.6L677.4 443.0L675.9 448.0L674.9 453.0L674.3 458.0L674.0 463.0L673.8 468.0L673.9 473.0L674.1 478.0L674.6 483.0L675.3 488.0L676.3 493.0L671.5 493.0L671.1 488.0L670.8 483.0L670.7 478.0L670.7 473.0L670.8 468.0L671.1 463.0L671.4 458.0L672.0 453.0L672.8 448.0L673.9 443.0L675.8 438.0L678.4 433.7L679.1 433.0L683.6 428.0L685.9 423.0L687.4 418.0L689.1 413.1L690.3 408.1L691.1 403.1L691.6 398.1L691.8 393.1L691.9 388.1L691.7 383.1L691.4 378.1L690.8 373.1L690.1 368.1L689.3 363.1L688.5 358.1L687.7 353.1L687.5 348.1L687.6 343.1ZM322.6 348.1L323.7 344.7L326.1 348.1L328.2 353.1L329.3 358.1L329.8 363.1L329.8 368.1L329.2 373.1L328.1 378.1L326.5 383.1L324.0 388.1L323.7 388.5L323.6 388.1L322.8 383.1L322.1 378.1L321.6 373.1L321.3 368.1L321.2 363.1L321.3 358.1L321.7 353.1ZM913.3 348.1L914.9 345.3L916.0 348.1L916.5 353.1L914.9 356.6L913.0 353.1ZM847.7 368.1L855.8 364.8L861.3 368.1L865.4 373.1L867.3 378.1L868.3 383.1L868.6 388.1L868.6 393.1L868.1 398.1L867.3 403.1L865.8 408.1L863.5 413.1L859.6 418.0L855.8 421.2L851.7 418.0L847.4 413.1L844.6 408.1L842.8 403.1L841.6 398.1L840.8 393.1L840.4 388.1L840.5 383.1L841.3 378.1L843.2 373.1ZM855.8 369.4L850.6 373.1L847.4 378.1L846.0 383.1L845.7 388.1L846.0 393.1L847.0 398.1L848.5 403.1L851.0 408.1L854.7 413.1L855.8 414.1L856.8 413.1L860.1 408.1L862.2 403.1L863.4 398.1L864.1 393.1L864.2 388.1L863.8 383.1L862.4 378.1L859.7 373.1ZM932.9 388.1L934.6 384.5L936.7 388.1L939.1 393.1L940.7 398.1L941.7 403.1L942.0 408.1L941.7 413.1L940.9 418.0L939.5 423.0L937.4 428.0L934.6 432.6L933.3 428.0L932.3 423.0L931.6 418.0L931.0 413.1L930.7 408.1L930.6 403.1L930.8 398.1L931.5 393.1ZM934.6 398.2L933.8 403.1L933.5 408.1L933.6 413.1L934.0 418.0L934.6 422.2L935.8 418.0L936.6 413.1L936.6 408.1L935.9 403.1ZM538.4 448.0L540.4 443.2L545.5 448.0L548.2 453.0L549.8 458.0L550.9 463.0L551.5 468.0L551.8 473.0L551.9 478.0L551.8 483.0L551.6 488.0L551.1 493.0L540.4 493.0L536.8 493.0L536.5 488.0L536.2 483.0L535.9 478.0L535.8 473.0L535.8 468.0L536.0 463.0L536.4 458.0L537.2 453.0ZM540.4 455.2L539.9 458.0L539.3 463.0L539.0 468.0L538.9 473.0L539.1 478.0L539.4 483.0L539.9 488.0L540.4 492.6L542.1 488.0L543.3 483.0L544.0 478.0L544.2 473.0L544.0 468.0L543.2 463.0L541.8 458.0ZM461.6 483.0L461.6 481.5L461.6 483.0L461.6 483.0Z" fill="#132022" stroke="#132022" stroke-width="0.6" fill-rule="evenodd"/>
<path d="M474.9 13.3L479.8 13.3L479.0 18.3L478.3 23.3L477.8 28.3L477.4 33.3L477.1 38.3L476.9 43.3L476.7 48.3L476.6 53.3L476.6 58.3L476.6 63.3L476.6 68.3L476.7 73.3L476.9 78.3L477.1 83.3L477.4 88.3L477.8 93.2L478.4 98.2L479.2 103.2L480.9 108.2L481.3 109.1L481.7 113.2L482.1 118.2L482.7 123.2L483.6 128.2L485.0 133.2L487.3 138.2L491.2 143.2L498.9 148.2L501.0 149.1L502.7 148.2L509.1 143.2L512.7 138.2L514.9 133.2L516.3 128.2L517.3 123.2L517.9 118.2L518.3 113.2L518.6 108.2L518.8 103.2L518.9 98.2L519.1 93.2L519.4 88.3L519.8 83.3L520.7 78.3L520.7 78.1L520.9 78.3L522.9 83.3L523.3 88.3L523.5 93.2L523.6 98.2L523.9 103.2L524.3 108.2L525.0 113.2L526.2 118.2L528.3 123.2L532.5 128.2L540.4 132.4L554.8 128.2L558.0 123.2L559.0 118.2L559.4 113.2L559.5 108.2L559.4 103.2L559.2 98.2L558.6 93.2L557.6 88.3L555.7 83.3L551.1 78.3L540.4 74.6L529.5 73.3L525.9 68.3L525.4 63.3L525.2 58.3L525.1 53.3L525.2 48.3L525.2 43.3L525.2 38.3L525.1 33.3L525.0 28.3L524.7 23.3L524.4 18.3L523.8 13.3L527.9 13.3L528.1 18.3L528.3 23.3L528.5 28.3L528.7 33.3L528.9 38.3L529.2 43.3L529.5 48.3L530.1 53.3L531.6 58.3L534.5 63.3L540.4 67.7L554.7 63.3L558.4 58.3L559.9 53.3L560.1 52.1L561.4 48.3L562.9 43.3L564.3 38.3L565.6 33.3L566.8 28.3L568.0 23.3L569.3 18.3L570.6 13.3L579.9 13.3L592.7 13.3L594.9 18.3L597.4 23.3L599.6 27.0L601.3 23.3L603.5 18.3L605.7 13.3L619.3 13.3L623.0 13.3L620.3 18.3L619.3 20.4L617.8 23.3L615.4 28.3L613.1 33.3L610.7 38.3L607.8 43.3L604.0 48.3L599.6 52.2L590.1 48.3L585.1 43.3L582.3 38.3L580.2 33.3L579.9 32.4L579.7 33.3L578.6 38.3L577.7 43.3L576.8 48.3L576.0 53.3L575.2 58.3L574.4 63.3L573.7 68.3L573.0 73.3L572.3 78.3L571.7 83.3L571.2 88.3L571.2 93.2L572.6 98.2L579.9 103.1L579.9 103.2L582.5 108.2L586.7 113.2L594.1 118.2L599.6 120.5L606.6 118.2L615.7 113.2L619.3 110.2L620.3 113.2L622.4 118.2L625.3 123.2L630.6 128.2L639.0 131.5L644.1 128.2L649.1 123.2L652.6 118.2L655.2 113.2L657.6 108.2L658.7 105.8L659.4 103.2L660.7 98.2L661.7 93.2L662.5 88.3L663.2 83.3L663.8 78.3L664.2 73.3L664.6 68.3L664.9 63.3L665.1 58.3L665.2 53.3L665.3 48.3L665.4 43.3L665.3 38.3L665.1 33.3L664.9 28.3L664.5 23.3L664.0 18.3L663.2 13.3L669.2 13.3L669.4 18.3L669.5 23.3L669.5 28.3L669.5 33.3L669.5 38.3L669.4 43.3L669.3 48.3L669.2 53.3L669.1 58.3L668.9 63.3L668.8 68.3L668.6 73.3L668.4 78.3L668.1 83.3L667.8 88.3L667.4 93.2L666.9 98.2L666.3 103.2L665.5 108.2L664.5 113.2L663.3 118.2L661.8 123.2L660.0 128.2L658.7 131.4L657.3 133.2L650.8 138.2L639.0 141.2L633.1 143.2L627.2 148.2L625.1 153.2L624.2 158.2L623.8 163.2L623.4 168.2L623.0 173.2L622.6 178.2L622.3 183.2L622.1 188.2L621.8 193.2L621.5 198.2L621.1 203.2L620.2 208.2L619.3 211.9L615.5 208.2L612.2 203.2L609.9 198.2L608.2 193.2L607.0 188.2L606.2 183.2L605.8 178.2L605.6 173.2L605.6 168.2L605.6 163.2L605.5 158.2L605.0 153.2L603.4 148.2L599.6 143.4L579.9 146.8L578.2 148.2L572.1 153.2L565.0 158.2L560.1 161.1L559.5 158.2L558.3 153.2L556.2 148.2L551.8 143.2L540.4 139.0L531.2 138.2L521.0 133.2L520.7 132.7L520.7 133.2L519.8 138.2L518.4 143.2L515.7 148.2L510.1 153.2L501.0 156.8L488.4 153.2L482.2 148.2L481.3 146.7L479.0 148.2L471.0 153.2L462.6 158.2L461.6 158.8L461.4 158.2L459.9 153.2L459.0 148.2L458.3 143.2L458.0 138.2L457.9 133.2L458.0 128.2L458.3 123.2L458.7 118.2L459.3 113.2L460.0 108.2L461.0 103.2L461.6 100.7L463.1 98.2L465.5 93.2L467.1 88.3L468.3 83.3L469.2 78.3L469.9 73.3L470.6 68.3L471.2 63.3L471.7 58.3L472.1 53.3L472.5 48.3L472.9 43.3L473.2 38.3L473.5 33.3L473.8 28.3L474.1 23.3L474.5 18.3ZM619.3 169.8L618.7 173.2L618.5 178.2L618.9 183.2L619.3 184.5L619.3 183.2L619.5 178.2L619.4 173.2ZM498.4 13.3L501.0 13.3L502.2 13.3L501.0 14.8ZM734.9 13.3L737.5 13.3L757.2 13.3L761.7 13.3L760.3 18.3L759.1 23.3L758.1 28.3L757.3 33.3L757.2 33.8L749.9 38.3L745.0 43.3L741.6 48.3L737.9 53.3L737.5 53.6L736.3 58.3L734.3 63.3L731.8 68.3L729.2 73.3L727.0 78.3L725.4 83.3L724.4 88.3L723.9 93.2L723.8 98.2L724.1 103.2L724.9 108.2L726.2 113.2L728.2 118.2L730.7 123.2L733.8 128.2L737.5 133.2L737.5 133.3L737.7 133.2L745.9 128.2L751.4 123.2L754.7 118.2L756.6 113.2L757.2 110.8L758.0 113.2L760.2 118.2L763.3 123.2L767.9 128.2L775.9 133.2L776.9 133.7L778.1 133.2L787.0 128.2L792.1 123.2L795.3 118.2L796.6 115.2L816.3 118.1L816.6 118.2L821.2 123.2L823.9 128.2L825.7 133.2L827.3 138.2L828.7 143.2L830.2 148.2L831.8 153.2L833.6 158.2L835.7 163.2L836.1 163.8L836.3 163.2L837.8 158.2L838.7 153.2L839.0 148.2L838.9 143.2L838.6 138.2L838.4 133.2L838.2 128.2L837.9 123.2L837.7 118.2L837.6 113.2L837.6 108.2L837.7 103.2L837.9 98.2L838.2 93.2L838.9 88.3L840.2 83.3L842.3 78.3L845.4 73.3L849.3 68.3L853.1 63.3L855.7 58.3L855.8 58.0L857.6 53.3L856.0 48.3L855.8 47.9L854.0 43.3L851.1 38.3L847.1 33.3L841.6 28.3L836.1 24.6L826.7 23.3L816.3 22.2L814.9 23.3L809.5 28.3L805.3 33.3L801.9 38.3L798.9 43.3L796.6 47.2L796.0 43.3L795.2 38.3L794.3 33.3L793.3 28.3L792.2 23.3L791.0 18.3L789.7 13.3L795.2 13.3L796.2 18.3L796.6 20.9L798.8 18.3L804.1 13.3L816.3 13.3L836.1 13.3L855.8 13.3L856.1 13.3L863.1 18.3L867.8 23.3L871.8 28.3L875.5 33.1L895.2 33.0L896.7 28.3L898.6 23.3L901.0 18.3L904.5 13.3L914.9 13.3L920.3 13.3L922.5 18.3L924.0 23.3L924.9 28.3L925.3 33.3L925.4 38.3L925.4 43.3L925.2 48.3L925.0 53.3L924.6 58.3L924.0 63.3L923.3 68.3L922.5 73.3L921.7 78.3L920.9 83.3L920.2 88.3L919.4 93.2L918.6 98.2L917.6 103.2L916.2 108.2L914.9 111.8L909.5 113.2L900.2 118.2L896.3 123.2L895.2 125.8L891.1 128.2L886.5 133.2L884.5 138.2L883.7 143.2L883.3 148.2L883.0 153.2L882.3 158.2L881.0 163.2L878.4 168.2L875.5 171.6L869.1 168.2L866.5 163.2L866.5 158.2L867.9 153.2L869.8 148.2L871.5 143.2L872.7 138.2L873.3 133.2L873.5 128.2L873.6 123.2L873.5 118.2L873.3 113.2L872.8 108.2L872.1 103.2L871.3 98.2L870.1 93.2L868.3 88.3L864.9 83.3L859.1 78.3L855.8 76.1L853.3 78.3L848.4 83.3L845.1 88.3L843.4 93.2L842.4 98.2L841.8 103.2L841.4 108.2L841.3 113.2L841.5 118.2L842.0 123.2L842.6 128.2L843.2 133.2L844.1 138.2L845.4 143.2L846.9 148.2L848.1 153.2L848.9 158.2L848.9 163.2L848.2 168.2L846.6 173.2L844.1 178.2L840.8 183.2L836.2 188.2L836.1 188.3L835.9 188.2L830.9 183.2L827.5 178.2L824.7 173.2L822.4 168.2L820.3 163.2L818.3 158.2L816.3 153.4L816.2 153.2L812.4 148.2L807.3 143.2L800.0 138.2L796.6 136.5L793.6 138.2L776.9 142.0L762.0 138.2L757.2 134.5L753.3 138.2L745.7 143.2L737.5 147.1L734.8 143.2L731.8 138.2L729.3 133.2L727.1 128.2L725.2 123.2L723.7 118.2L722.6 113.2L721.8 108.2L721.3 103.2L721.1 98.2L721.2 93.2L721.5 88.3L722.1 83.3L723.1 78.3L724.4 73.3L725.9 68.3L727.4 63.3L728.7 58.3L729.5 53.3L730.0 48.3L730.3 43.3L730.6 38.3L731.1 33.3L731.7 28.3L732.5 23.3L733.6 18.3ZM914.9 21.0L912.6 23.3L908.6 28.3L905.6 33.3L903.1 38.3L901.0 43.3L899.1 48.3L897.4 53.3L895.8 58.3L895.2 60.6L882.7 63.3L875.5 66.0L873.5 68.3L873.5 73.3L874.2 78.3L875.0 83.3L875.5 86.8L877.4 88.3L887.1 93.2L895.2 96.2L897.6 98.2L914.9 102.5L915.9 98.2L916.9 93.2L917.7 88.3L918.5 83.3L919.2 78.3L919.9 73.3L920.5 68.3L921.1 63.3L921.5 58.3L921.6 53.3L921.5 48.3L921.2 43.3L920.7 38.3L919.8 33.3L918.3 28.3L916.1 23.3ZM948.1 13.3L954.3 13.3L954.3 18.3L954.3 23.0L954.2 23.3L952.8 28.3L951.9 33.3L951.4 38.3L951.2 43.3L951.2 48.3L951.4 53.3L951.8 58.3L952.3 63.3L952.9 68.3L953.5 73.3L954.1 78.3L954.3 79.7L954.3 83.3L954.3 88.3L954.3 93.2L954.3 98.2L954.3 103.2L954.3 108.2L954.3 113.2L954.3 115.2L953.6 118.2L952.2 123.2L950.7 128.2L949.2 133.2L947.8 138.2L946.6 143.2L945.6 148.2L945.0 153.2L944.6 158.2L944.4 163.2L944.5 168.2L944.6 173.2L945.3 178.2L947.5 183.2L954.3 186.1L954.3 188.2L954.3 190.4L946.9 193.2L943.8 198.2L943.4 203.2L943.3 208.2L943.3 213.2L943.3 218.2L942.8 223.2L941.6 228.2L937.8 233.2L934.6 235.2L933.0 233.2L929.5 228.2L926.9 223.2L925.1 218.2L923.9 213.2L923.4 208.2L923.4 203.2L924.3 198.2L926.3 193.2L930.1 188.2L934.6 184.7L936.7 183.2L939.3 178.2L940.4 173.2L941.1 168.2L941.4 163.2L941.9 158.2L942.4 153.2L943.0 148.2L944.0 143.2L945.2 138.2L946.4 133.2L947.8 128.2L949.2 123.2L950.5 118.2L951.6 113.2L952.3 108.2L952.7 103.2L952.8 98.2L952.6 93.2L952.2 88.3L951.6 83.3L951.0 78.3L950.2 73.3L949.4 68.3L948.5 63.3L947.7 58.3L947.1 53.3L946.5 48.3L946.0 43.3L945.7 38.3L945.4 33.3L945.5 28.3L945.9 23.3L946.8 18.3ZM934.6 192.2L933.6 193.2L930.1 198.2L928.2 203.2L927.6 208.2L927.8 213.2L928.9 218.2L930.8 223.2L933.6 228.2L934.6 229.6L936.0 228.2L938.7 223.2L939.8 218.2L940.1 213.2L940.0 208.2L939.6 203.2L938.6 198.2L936.1 193.2ZM341.9 83.3L343.4 80.9L343.8 83.3L344.4 88.3L344.8 93.2L345.0 98.2L345.0 103.2L344.7 108.2L344.3 113.2L343.7 118.2L343.4 120.1L342.8 118.2L341.4 113.2L340.4 108.2L339.7 103.2L339.4 98.2L339.5 93.2L340.2 88.3ZM303.4 93.2L304.0 89.2L308.5 93.2L310.7 98.2L311.3 103.2L311.0 108.2L309.7 113.2L307.4 118.2L304.0 122.9L303.3 118.2L302.8 113.2L302.6 108.2L302.7 103.2L302.9 98.2ZM243.2 188.2L244.8 184.6L246.2 188.2L246.5 193.2L245.2 198.2L244.8 199.0L244.3 198.2L242.8 193.2ZM697.7 203.2L698.1 202.0L698.8 203.2L699.6 208.2L699.0 213.2L698.1 215.7L697.5 213.2L697.2 208.2ZM756.1 203.2L757.2 200.7L757.9 203.2L759.1 208.2L760.2 213.2L761.1 218.2L761.6 223.2L761.5 228.2L760.4 233.2L757.2 237.6L755.1 233.2L754.1 228.2L753.6 223.2L753.5 218.2L753.7 213.2L754.5 208.2ZM794.5 208.2L796.6 205.0L802.1 208.2L805.8 213.2L807.0 218.2L806.5 223.2L803.7 228.2L796.6 232.2L791.7 228.2L790.1 223.2L790.3 218.2L791.9 213.2ZM796.6 215.6L795.9 218.2L796.1 223.2L796.6 224.1L797.4 223.2L797.9 218.2ZM895.1 218.2L895.2 218.1L895.3 218.2L899.9 223.2L901.3 228.2L901.4 233.2L900.9 238.2L900.2 243.2L899.6 248.2L899.0 253.2L897.8 258.1L895.2 263.0L893.0 263.1L875.5 267.4L875.2 268.1L873.5 273.1L871.3 278.1L866.1 283.1L855.8 286.3L846.0 283.1L837.8 278.1L836.1 276.0L833.7 273.1L833.1 268.1L836.1 264.0L836.7 263.1L844.4 258.1L853.3 253.2L855.8 251.4L865.6 253.2L875.5 256.3L879.4 253.2L883.5 248.2L885.4 243.2L886.4 238.2L887.4 233.2L889.0 228.2L891.5 223.2ZM895.2 223.3L892.8 228.2L891.5 233.2L891.1 238.2L891.3 243.2L892.2 248.2L894.9 253.2L895.2 253.3L895.2 253.2L896.3 248.2L897.2 243.2L897.9 238.2L898.1 233.2L897.5 228.2ZM855.8 257.2L854.1 258.1L845.8 263.1L841.4 268.1L841.6 273.1L846.0 278.1L855.8 283.1L864.2 278.1L867.2 273.1L868.1 268.1L867.0 263.1L859.1 258.1ZM674.1 273.1L678.4 271.3L682.4 273.1L688.5 278.1L690.2 283.1L689.9 288.1L688.9 293.1L687.6 298.1L685.6 303.1L683.7 308.1L681.7 313.1L679.3 318.1L678.4 319.6L675.9 318.1L670.2 313.1L667.2 308.1L665.6 303.1L664.8 298.1L664.6 293.1L665.0 288.1L666.2 283.1L668.5 278.1ZM678.4 276.3L675.7 278.1L671.8 283.1L669.9 288.1L669.3 293.1L669.5 298.1L670.8 303.1L673.6 308.1L678.4 312.9L680.7 308.1L682.6 303.1L684.4 298.1L685.4 293.1L685.7 288.1L684.7 283.1L681.1 278.1ZM716.2 278.1L717.8 277.4L721.9 278.1L737.5 282.2L737.8 283.1L738.7 288.1L738.6 293.1L737.5 298.1L737.5 298.2L717.8 301.7L714.9 298.1L712.0 293.1L710.3 288.1L710.7 283.1ZM717.8 285.7L716.6 288.1L717.3 293.1L717.8 294.0L720.4 293.1L722.7 288.1ZM776.6 278.1L776.9 277.0L777.1 278.1L778.1 283.1L779.0 288.1L780.0 293.1L781.0 298.1L782.1 303.1L783.3 308.1L784.4 313.1L785.2 318.1L786.1 323.1L785.2 328.1L780.2 333.1L776.9 334.7L773.3 338.1L770.1 343.1L767.6 348.1L765.4 353.1L762.7 358.1L759.7 363.1L757.2 367.1L755.2 363.1L752.7 358.1L750.4 353.1L748.8 348.1L748.3 343.1L749.0 338.1L751.6 333.1L757.2 328.3L758.6 328.1L767.8 323.1L769.4 318.1L769.9 313.1L770.7 308.1L771.6 303.1L772.5 298.1L773.4 293.1L774.4 288.1L775.5 283.1ZM776.9 288.3L776.0 293.1L775.1 298.1L774.5 303.1L774.0 308.1L773.9 313.1L774.4 318.1L775.7 323.1L776.9 325.0L778.2 323.1L779.7 318.1L780.1 313.1L779.9 308.1L779.3 303.1L778.6 298.1L777.8 293.1ZM757.2 332.5L756.6 333.1L753.0 338.1L751.9 343.1L752.2 348.1L753.7 353.1L755.9 358.1L757.2 360.8L758.9 358.1L761.5 353.1L763.5 348.1L765.0 343.1L765.4 338.1L760.1 333.1ZM243.3 283.1L244.8 281.2L246.9 283.1L248.5 288.1L244.8 291.9L242.2 288.1ZM540.4 303.1L540.4 302.7L540.5 303.1L541.1 308.1L541.7 313.1L541.9 318.1L541.7 323.1L540.6 328.1L540.4 328.5L540.1 328.1L538.4 323.1L538.0 318.1L538.5 313.1L539.3 308.1ZM264.2 318.1L264.5 315.9L271.7 318.1L276.0 323.1L277.2 328.1L277.7 333.1L278.2 338.1L278.6 343.1L279.2 348.1L279.8 353.1L280.6 358.1L281.5 363.1L282.6 368.1L283.8 373.1L284.2 374.9L284.4 378.1L284.7 383.1L284.9 388.1L285.2 393.1L285.5 398.1L285.8 403.1L286.1 408.1L286.4 413.1L286.7 418.0L287.0 423.0L287.3 428.0L287.6 433.0L287.8 438.0L288.0 443.0L288.0 448.0L288.0 453.0L287.9 458.0L287.7 463.0L287.4 468.0L287.0 473.0L286.6 478.0L286.0 483.0L285.3 488.0L284.5 493.0L284.2 493.0L266.5 493.0L269.1 488.0L271.4 483.0L273.3 478.0L275.0 473.0L276.4 468.0L277.6 463.0L278.6 458.0L279.4 453.0L279.9 448.0L280.2 443.0L280.3 438.0L280.1 433.0L279.7 428.0L279.1 423.0L278.2 418.0L277.2 413.1L276.0 408.1L274.6 403.1L273.2 398.1L271.7 393.1L270.1 388.1L268.6 383.1L267.1 378.1L265.6 373.1L264.5 369.4L264.2 368.1L261.6 363.1L244.8 360.0L239.6 363.1L235.9 368.1L234.1 373.1L233.0 378.1L232.3 383.1L231.8 388.1L231.5 393.1L231.3 398.1L231.2 403.1L231.3 408.1L231.4 413.1L231.7 418.0L232.1 423.0L232.5 428.0L233.1 433.0L233.8 438.0L234.6 443.0L235.4 448.0L236.3 453.0L237.1 458.0L238.0 463.0L238.9 468.0L239.7 473.0L240.6 478.0L241.6 483.0L242.6 488.0L243.7 493.0L235.6 493.0L234.9 488.0L234.3 483.0L233.7 478.0L233.2 473.0L232.7 468.0L232.2 463.0L231.7 458.0L231.2 453.0L230.7 448.0L230.2 443.0L229.8 438.0L229.4 433.0L229.1 428.0L228.8 423.0L228.6 418.0L228.4 413.1L228.3 408.1L228.3 403.1L228.3 398.1L228.3 393.1L228.4 388.1L228.5 383.1L228.7 378.1L229.0 373.1L229.6 368.1L230.7 363.1L234.2 358.1L244.8 355.2L252.6 353.1L259.1 348.1L261.1 343.1L262.1 338.1L262.9 333.1L263.4 328.1L263.8 323.1ZM809.9 333.1L816.3 329.1L818.8 333.1L820.8 338.1L821.3 343.1L819.8 348.1L816.3 351.9L810.3 348.1L807.7 343.1L807.6 338.1ZM816.3 342.2L816.3 343.1L816.3 343.2L816.4 343.1ZM694.4 343.1L698.1 339.4L702.9 343.1L705.7 348.1L707.0 353.1L707.7 358.1L708.1 363.1L708.3 368.1L708.4 373.1L708.4 378.1L708.4 383.1L708.3 388.1L708.3 393.1L708.3 398.1L708.5 403.1L708.7 408.1L709.2 413.1L709.9 418.0L710.8 423.0L712.0 428.0L713.6 433.0L715.5 438.0L717.7 443.0L717.8 443.2L718.8 448.0L719.6 453.0L720.2 458.0L720.6 463.0L720.7 468.0L720.6 473.0L720.2 478.0L719.5 483.0L718.4 488.0L717.8 490.1L698.1 488.9L691.1 493.0L678.4 493.0L676.3 493.0L675.3 488.0L674.6 483.0L674.1 478.0L673.9 473.0L673.8 468.0L674.0 463.0L674.3 458.0L674.9 453.0L675.9 448.0L677.4 443.0L678.4 440.6L681.4 438.0L685.9 433.0L688.8 428.0L690.4 423.0L691.3 418.0L692.4 413.0L693.1 408.1L693.6 403.1L693.9 398.1L694.0 393.1L694.0 388.1L693.9 383.1L693.7 378.1L693.3 373.1L693.0 368.1L692.6 363.1L692.2 358.1L692.2 353.1L692.8 348.1ZM698.1 347.9L698.0 348.1L696.6 353.1L696.0 358.1L695.8 363.1L695.8 368.1L695.8 373.1L695.9 378.1L696.1 383.1L696.1 388.1L696.2 393.1L696.2 398.1L696.1 403.1L696.0 408.1L695.7 413.1L695.2 418.0L694.8 423.0L694.1 428.0L692.7 433.0L690.7 438.0L687.6 443.0L682.4 448.0L678.4 450.7L677.9 453.0L677.2 458.0L676.8 463.0L676.8 468.0L677.0 473.0L677.5 478.0L678.3 483.0L678.4 483.5L679.2 483.0L686.8 478.0L694.9 473.0L698.1 471.3L703.7 468.0L707.4 463.0L708.5 458.0L708.4 453.0L707.8 448.0L706.8 443.0L705.9 438.0L704.9 433.0L704.2 428.0L703.5 423.0L703.1 418.0L702.8 413.1L702.7 408.1L702.7 403.1L702.8 398.1L702.9 393.1L703.0 388.1L703.1 383.1L703.1 378.1L703.0 373.1L702.7 368.1L702.3 363.1L701.5 358.1L700.3 353.1L698.2 348.1ZM379.7 353.1L382.8 350.4L399.9 353.1L402.0 358.1L402.5 360.4L404.3 363.1L408.3 368.1L411.3 373.1L413.2 378.1L414.3 383.1L414.9 388.1L415.3 393.1L415.5 398.1L415.6 403.1L415.7 408.1L415.7 413.1L415.7 418.0L415.7 423.0L415.7 428.0L415.7 433.0L415.6 438.0L415.5 443.0L415.4 448.0L415.2 453.0L415.0 458.0L414.7 463.0L414.3 468.0L413.9 473.0L413.4 478.0L412.7 483.0L411.9 488.0L410.9 493.0L402.7 493.0L404.3 488.0L405.6 483.0L406.7 478.0L407.6 473.0L408.3 468.0L408.8 463.0L409.2 458.0L409.5 453.0L409.6 448.0L409.7 443.0L409.6 438.0L409.5 433.0L409.2 428.0L408.8 423.0L408.2 418.0L407.4 413.1L406.4 408.1L405.0 403.1L403.2 398.1L402.5 396.6L401.7 393.1L400.6 388.1L399.4 383.1L397.9 378.1L396.0 373.1L393.4 368.1L389.1 363.1L382.8 359.2L379.9 363.1L377.3 368.1L375.5 373.1L374.3 378.1L373.4 383.1L372.9 388.1L372.6 393.1L372.5 398.1L372.6 403.1L373.0 408.1L373.5 413.1L374.1 418.0L375.0 423.0L376.0 428.0L377.2 433.0L378.5 438.0L379.9 443.0L381.5 448.0L382.8 451.9L383.9 453.0L387.6 458.0L390.1 463.0L392.2 468.0L394.1 473.0L395.9 478.0L397.8 483.0L399.9 488.0L402.2 493.0L391.0 493.0L389.2 488.0L387.4 483.0L385.6 478.0L383.7 473.0L382.8 471.0L381.9 468.0L380.5 463.0L379.1 458.0L377.9 453.0L376.6 448.0L375.5 443.0L374.4 438.0L373.4 433.0L372.4 428.0L371.6 423.0L370.9 418.0L370.4 413.0L370.0 408.1L369.7 403.1L369.5 398.1L369.5 393.1L369.6 388.1L369.8 383.1L370.3 378.1L371.0 373.1L372.1 368.1L373.6 363.1L375.9 358.1ZM850.6 373.1L855.8 369.4L859.7 373.1L862.4 378.1L863.8 383.1L864.2 388.1L864.1 393.1L863.4 398.1L862.2 403.1L860.1 408.1L856.8 413.1L855.8 414.1L854.7 413.1L851.0 408.1L848.5 403.1L847.0 398.1L846.0 393.1L845.7 388.1L846.0 383.1L847.4 378.1ZM855.8 375.3L853.5 378.1L851.5 383.1L850.9 388.1L851.2 393.1L852.3 398.1L854.3 403.1L855.8 405.6L857.1 403.1L858.8 398.1L859.7 393.1L859.9 388.1L859.3 383.1L857.6 378.1ZM933.8 403.1L934.6 398.2L935.9 403.1L936.6 408.1L936.6 413.1L935.8 418.0L934.6 422.2L934.0 418.0L933.6 413.1L933.5 408.1ZM539.9 458.0L540.4 455.2L541.8 458.0L543.2 463.0L544.0 468.0L544.2 473.0L544.0 478.0L543.3 483.0L542.1 488.0L540.4 492.6L539.9 488.0L539.4 483.0L539.1 478.0L538.9 473.0L539.0 468.0L539.3 463.0Z" fill="#1f3c3b" stroke="#1f3c3b" stroke-width="0.6" fill-rule="evenodd"/>
<path d="M479.8 13.3L481.3 13.3L498.4 13.3L501.0 14.8L502.2 13.3L520.7 13.3L523.8 13.3L524.4 18.3L524.7 23.3L525.0 28.3L525.1 33.3L525.2 38.3L525.2 43.3L525.2 48.3L525.1 53.3L525.2 58.3L525.4 63.3L525.9 68.3L529.5 73.3L540.4 74.6L551.1 78.3L555.7 83.3L557.6 88.3L558.6 93.2L559.2 98.2L559.4 103.2L559.5 108.2L559.4 113.2L559.0 118.2L558.0 123.2L554.8 128.2L540.4 132.4L532.5 128.2L528.3 123.2L526.2 118.2L525.0 113.2L524.3 108.2L523.9 103.2L523.6 98.2L523.5 93.2L523.3 88.3L522.9 83.3L520.9 78.3L520.7 78.1L520.7 78.3L519.8 83.3L519.4 88.3L519.1 93.2L518.9 98.2L518.8 103.2L518.6 108.2L518.3 113.2L517.9 118.2L517.3 123.2L516.3 128.2L514.9 133.2L512.7 138.2L509.1 143.2L502.7 148.2L501.0 149.1L498.9 148.2L491.2 143.2L487.3 138.2L485.0 133.2L483.6 128.2L482.7 123.2L482.1 118.2L481.7 113.2L481.3 109.1L480.9 108.2L479.2 103.2L478.4 98.2L477.8 93.2L477.4 88.3L477.1 83.3L476.9 78.3L476.7 73.3L476.6 68.3L476.6 63.3L476.6 58.3L476.6 53.3L476.7 48.3L476.9 43.3L477.1 38.3L477.4 33.3L477.8 28.3L478.3 23.3L479.0 18.3ZM481.3 35.1L481.1 38.3L481.0 43.3L481.0 48.3L481.1 53.3L481.3 56.6L483.9 58.3L485.7 63.3L485.9 68.3L485.9 73.3L485.7 78.3L485.5 83.3L485.3 88.3L485.2 93.2L485.2 98.2L485.3 103.2L485.5 108.2L485.9 113.2L486.6 118.2L487.6 123.2L489.2 128.2L491.6 133.2L495.6 138.2L501.0 142.4L505.6 138.2L509.2 133.2L511.5 128.2L513.0 123.2L513.9 118.2L514.5 113.2L514.8 108.2L514.9 103.2L514.8 98.2L514.5 93.2L514.1 88.3L513.5 83.3L512.7 78.3L511.9 73.3L510.9 68.3L509.6 63.3L507.4 58.3L501.0 54.2L492.7 53.3L487.6 48.3L485.8 43.3L483.5 38.3ZM520.7 19.8L518.3 23.3L515.9 28.3L514.3 33.3L513.7 38.3L514.1 43.3L518.3 48.3L520.7 49.1L520.8 48.3L521.3 43.3L521.5 38.3L521.6 33.3L521.4 28.3L521.1 23.3ZM540.4 82.0L538.0 83.3L533.1 88.3L531.2 93.2L530.3 98.2L530.2 103.2L530.6 108.2L531.7 113.2L533.8 118.2L537.7 123.2L540.4 125.4L544.4 123.2L549.1 118.2L551.2 113.2L552.1 108.2L552.2 103.2L551.7 98.2L550.4 93.2L547.7 88.3L542.6 83.3ZM623.0 13.3L638.8 13.3L635.4 18.3L632.7 23.3L630.5 28.3L628.7 33.3L627.3 38.3L626.3 43.3L625.6 48.3L625.1 53.3L624.9 58.3L625.0 63.3L625.3 68.3L625.6 73.3L626.0 78.3L626.4 83.3L626.8 88.3L627.3 93.2L628.1 98.2L629.2 103.2L630.8 108.2L633.2 113.2L637.0 118.2L639.0 120.0L640.6 118.2L644.0 113.2L646.5 108.2L648.4 103.2L650.0 98.2L651.6 93.2L653.7 88.3L656.7 83.3L658.7 80.9L659.1 78.3L659.8 73.3L660.4 68.3L660.8 63.3L661.1 58.3L661.3 53.3L661.4 48.3L661.3 43.3L661.1 38.3L660.8 33.3L660.3 28.3L659.6 23.3L658.7 18.6L657.7 18.3L640.1 13.3L658.7 13.3L663.2 13.3L664.0 18.3L664.5 23.3L664.9 28.3L665.1 33.3L665.3 38.3L665.4 43.3L665.3 48.3L665.2 53.3L665.1 58.3L664.9 63.3L664.6 68.3L664.2 73.3L663.8 78.3L663.2 83.3L662.5 88.3L661.7 93.2L660.7 98.2L659.4 103.2L658.7 105.8L657.6 108.2L655.2 113.2L652.6 118.2L649.1 123.2L644.1 128.2L639.0 131.5L630.6 128.2L625.3 123.2L622.4 118.2L620.3 113.2L619.3 110.2L615.7 113.2L606.6 118.2L599.6 120.5L594.1 118.2L586.7 113.2L582.5 108.2L579.9 103.2L579.9 103.1L572.6 98.2L571.2 93.2L571.2 88.3L571.7 83.3L572.3 78.3L573.0 73.3L573.7 68.3L574.4 63.3L575.2 58.3L576.0 53.3L576.8 48.3L577.7 43.3L578.6 38.3L579.7 33.3L579.9 32.4L580.2 33.3L582.3 38.3L585.1 43.3L590.1 48.3L599.6 52.2L604.0 48.3L607.8 43.3L610.7 38.3L613.1 33.3L615.4 28.3L617.8 23.3L619.3 20.4L620.3 18.3ZM599.6 77.5L599.1 78.3L597.5 83.3L597.3 88.3L598.4 93.3L599.6 95.8L601.2 93.2L602.9 88.3L603.0 83.3L600.5 78.3ZM761.7 13.3L768.3 13.3L766.4 18.3L764.8 23.3L763.5 28.3L762.3 33.3L761.3 38.3L760.5 43.3L759.8 48.3L759.2 53.3L758.6 58.3L758.3 63.3L758.0 68.3L757.9 73.3L757.9 78.3L758.1 83.3L758.4 88.3L759.1 93.2L760.1 98.2L761.6 103.2L763.7 108.2L766.4 113.2L769.9 118.2L774.9 123.2L776.9 124.8L779.2 123.2L784.6 118.2L788.4 113.2L791.1 108.2L793.1 103.2L794.4 98.2L795.3 93.2L795.8 88.3L796.0 83.3L796.0 78.3L795.9 73.3L795.6 68.3L795.2 63.3L794.6 58.3L793.8 53.3L792.9 48.3L791.9 43.3L790.9 38.3L789.8 33.3L788.6 28.3L787.3 23.3L785.8 18.3L784.1 13.3L789.7 13.3L791.0 18.3L792.2 23.3L793.3 28.3L794.3 33.3L795.2 38.3L796.0 43.3L796.6 47.2L798.9 43.3L801.9 38.3L805.3 33.3L809.5 28.3L814.9 23.3L816.3 22.2L826.7 23.3L836.1 24.6L841.6 28.3L847.1 33.3L851.1 38.3L854.0 43.3L855.8 47.9L856.0 48.3L857.6 53.3L855.8 58.0L855.7 58.3L853.1 63.3L849.3 68.3L845.4 73.3L842.3 78.3L840.2 83.3L838.9 88.3L838.2 93.2L837.9 98.2L837.7 103.2L837.6 108.2L837.6 113.2L837.7 118.2L837.9 123.2L838.2 128.2L838.4 133.2L838.6 138.2L838.9 143.2L839.0 148.2L838.7 153.2L837.8 158.2L836.3 163.2L836.1 163.8L835.7 163.2L833.6 158.2L831.8 153.2L830.2 148.2L828.7 143.2L827.3 138.2L825.7 133.2L823.9 128.2L821.2 123.2L816.6 118.2L816.3 118.1L796.6 115.2L795.3 118.2L792.1 123.2L787.0 128.2L778.1 133.2L776.9 133.7L775.9 133.2L767.9 128.2L763.3 123.2L760.2 118.2L758.0 113.2L757.2 110.8L756.6 113.2L754.7 118.2L751.4 123.2L745.9 128.2L737.7 133.2L737.5 133.3L737.5 133.2L733.8 128.2L730.7 123.2L728.2 118.2L726.2 113.2L724.9 108.2L724.1 103.2L723.8 98.2L723.9 93.2L724.4 88.3L725.4 83.3L727.0 78.3L729.2 73.3L731.8 68.3L734.3 63.3L736.3 58.3L737.5 53.6L737.9 53.3L741.6 48.3L745.0 43.3L749.9 38.3L757.2 33.8L757.3 33.3L758.1 28.3L759.1 23.3L760.3 18.3ZM816.3 39.8L814.1 43.3L811.6 48.3L809.6 53.3L808.0 58.3L806.8 63.3L806.0 68.3L806.0 73.3L807.2 78.3L811.9 83.3L816.3 85.5L818.6 83.3L822.6 78.3L825.5 73.3L827.8 68.3L829.4 63.3L830.2 58.3L829.8 53.3L827.8 48.3L822.8 43.3ZM737.5 68.4L734.0 73.3L730.9 78.3L728.7 83.3L727.2 88.3L726.5 93.2L726.4 98.2L726.9 103.2L728.0 108.2L729.9 113.2L732.6 118.2L736.2 123.2L737.5 125.0L740.2 123.2L746.5 118.2L750.4 113.2L752.8 108.2L754.1 103.2L754.9 98.2L755.3 93.2L755.5 88.3L755.3 83.3L754.5 78.3L751.9 73.3ZM912.6 23.3L914.9 21.0L916.1 23.3L918.3 28.3L919.8 33.3L920.7 38.3L921.2 43.3L921.5 48.3L921.6 53.3L921.5 58.3L921.1 63.3L920.5 68.3L919.9 73.3L919.2 78.3L918.5 83.3L917.7 88.3L916.9 93.2L915.9 98.2L914.9 102.5L897.6 98.2L895.2 96.2L887.1 93.2L877.4 88.3L875.5 86.8L875.0 83.3L874.2 78.3L873.5 73.3L873.5 68.3L875.5 66.0L882.7 63.3L895.2 60.6L895.8 58.3L897.4 53.3L899.1 48.3L901.0 43.3L903.1 38.3L905.6 33.3L908.6 28.3ZM914.9 34.9L912.7 38.3L910.0 43.3L907.9 48.3L906.2 53.3L905.0 58.3L904.1 63.3L903.7 68.3L904.0 73.3L905.1 78.3L907.4 83.3L911.9 88.3L914.9 90.3L915.3 88.3L916.0 83.3L916.7 78.3L917.3 73.3L917.8 68.3L918.1 63.3L918.3 58.3L918.2 53.3L917.8 48.3L917.1 43.3L916.0 38.3ZM954.2 23.3L954.3 23.0L954.3 23.3L954.3 28.3L954.3 33.3L954.3 38.3L954.3 43.3L954.3 48.3L954.3 53.3L954.3 58.3L954.3 63.3L954.3 68.3L954.3 73.3L954.3 78.3L954.3 79.7L954.1 78.3L953.5 73.3L952.9 68.3L952.3 63.3L951.8 58.3L951.4 53.3L951.2 48.3L951.2 43.3L951.4 38.3L951.9 33.3L952.8 28.3ZM953.6 118.2L954.3 115.2L954.3 118.2L954.3 123.2L954.3 126.0L953.6 128.2L951.9 133.2L950.4 138.2L949.2 143.2L948.2 148.2L947.6 153.2L947.3 158.2L947.4 163.2L947.9 168.2L948.9 173.2L951.2 178.2L954.3 181.1L954.3 183.2L954.3 186.1L947.5 183.2L945.3 178.2L944.6 173.2L944.5 168.2L944.4 163.2L944.6 158.2L945.0 153.2L945.6 148.2L946.6 143.2L947.8 138.2L949.2 133.2L950.7 128.2L952.2 123.2ZM618.7 173.2L619.3 169.8L619.4 173.2L619.5 178.2L619.3 183.2L619.3 184.5L618.9 183.2L618.5 178.2ZM933.6 193.2L934.6 192.2L936.1 193.2L938.6 198.2L939.6 203.2L940.0 208.2L940.1 213.2L939.8 218.2L938.7 223.2L936.0 228.2L934.6 229.6L933.6 228.2L930.8 223.2L928.9 218.2L927.8 213.2L927.6 208.2L928.2 203.2L930.1 198.2ZM934.6 200.2L933.1 203.2L931.9 208.2L931.8 213.2L932.8 218.2L934.6 222.9L936.3 218.2L936.9 213.2L936.7 208.2L935.8 203.2ZM795.9 218.2L796.6 215.6L797.9 218.2L797.4 223.2L796.6 224.1L796.1 223.2ZM892.8 228.2L895.2 223.3L897.5 228.2L898.1 233.2L897.9 238.2L897.2 243.2L896.3 248.2L895.2 253.2L895.2 253.3L894.9 253.2L892.2 248.2L891.3 243.2L891.1 238.2L891.5 233.2ZM854.1 258.1L855.8 257.2L859.1 258.1L867.0 263.1L868.1 268.1L867.2 273.1L864.2 278.1L855.8 283.1L846.0 278.1L841.6 273.1L841.4 268.1L845.8 263.1ZM855.8 262.6L854.9 263.1L849.7 268.1L849.5 273.1L854.2 278.1L855.8 278.9L857.1 278.1L860.8 273.1L861.0 268.1L856.8 263.1ZM675.7 278.1L678.4 276.3L681.1 278.1L684.7 283.1L685.7 288.1L685.4 293.1L684.4 298.1L682.6 303.1L680.7 308.1L678.4 312.9L673.6 308.1L670.8 303.1L669.5 298.1L669.3 293.1L669.9 288.1L671.8 283.1ZM678.4 282.1L677.5 283.1L674.9 288.1L673.9 293.1L674.3 298.1L676.1 303.1L678.4 306.3L679.7 303.1L681.2 298.1L681.8 293.1L681.4 288.1L679.3 283.1ZM716.6 288.1L717.8 285.7L722.7 288.1L720.4 293.1L717.8 294.0L717.3 293.1ZM776.0 293.1L776.9 288.3L777.8 293.1L778.6 298.1L779.3 303.1L779.9 308.1L780.1 313.1L779.7 318.1L778.2 323.1L776.9 325.0L775.7 323.1L774.4 318.1L773.9 313.1L774.0 308.1L774.5 303.1L775.1 298.1ZM756.6 333.1L757.2 332.5L760.1 333.1L765.4 338.1L765.0 343.1L763.5 348.1L761.5 353.1L758.9 358.1L757.2 360.8L755.9 358.1L753.7 353.1L752.2 348.1L751.9 343.1L753.0 338.1ZM757.2 337.9L757.1 338.1L755.4 343.1L755.5 348.1L756.9 353.1L757.2 353.8L757.6 353.1L759.3 348.1L759.8 343.1L757.5 338.1ZM816.3 343.1L816.3 342.2L816.4 343.1L816.3 343.2ZM698.0 348.1L698.1 347.9L698.2 348.1L700.3 353.1L701.5 358.1L702.3 363.1L702.7 368.1L703.0 373.1L703.1 378.1L703.1 383.1L703.0 388.1L702.9 393.1L702.8 398.1L702.7 403.1L702.7 408.1L702.8 413.1L703.1 418.0L703.5 423.0L704.2 428.0L704.9 433.0L705.9 438.0L706.8 443.0L707.8 448.0L708.4 453.0L708.5 458.0L707.4 463.0L703.7 468.0L698.1 471.3L694.9 473.0L686.8 478.0L679.2 483.0L678.4 483.5L678.3 483.0L677.5 478.0L677.0 473.0L676.8 468.0L676.8 463.0L677.2 458.0L677.9 453.0L678.4 450.7L682.4 448.0L687.6 443.0L690.7 438.0L692.7 433.0L694.1 428.0L694.8 423.0L695.2 418.0L695.7 413.1L696.0 408.1L696.1 403.1L696.2 398.1L696.2 393.1L696.1 388.1L696.1 383.1L695.9 378.1L695.8 373.1L695.8 368.1L695.8 363.1L696.0 358.1L696.6 353.1ZM239.6 363.1L244.8 360.0L261.6 363.1L264.2 368.1L264.5 369.4L265.6 373.1L267.1 378.1L268.6 383.1L270.1 388.1L271.7 393.1L273.2 398.1L274.6 403.1L276.0 408.1L277.2 413.1L278.2 418.0L279.1 423.0L279.7 428.0L280.1 433.0L280.3 438.0L280.2 443.0L279.9 448.0L279.4 453.0L278.6 458.0L277.6 463.0L276.4 468.0L275.0 473.0L273.3 478.0L271.4 483.0L269.1 488.0L266.5 493.0L264.5 493.0L244.8 493.0L243.7 493.0L242.6 488.0L241.6 483.0L240.6 478.0L239.7 473.0L238.9 468.0L238.0 463.0L237.1 458.0L236.3 453.0L235.4 448.0L234.6 443.0L233.8 438.0L233.1 433.0L232.5 428.0L232.1 423.0L231.7 418.0L231.4 413.1L231.3 408.1L231.2 403.1L231.3 398.1L231.5 393.1L231.8 388.1L232.3 383.1L233.0 378.1L234.1 373.1L235.9 368.1ZM244.8 365.6L242.2 368.1L239.2 373.1L237.3 378.1L236.1 383.1L235.2 388.1L234.7 393.1L234.3 398.1L234.2 403.1L234.2 408.1L234.4 413.1L234.8 418.0L235.3 423.0L236.0 428.0L236.9 433.0L237.8 438.0L238.9 443.0L240.1 448.0L241.3 453.0L242.6 458.0L243.8 463.0L244.8 467.3L254.9 463.0L260.5 458.0L263.0 453.0L263.9 448.0L264.2 443.0L264.2 438.0L264.1 433.0L263.9 428.0L263.7 423.0L263.4 418.0L263.1 413.1L262.8 408.1L262.5 403.1L262.0 398.1L261.4 393.1L260.7 388.1L259.6 383.1L258.1 378.1L255.5 373.1L250.5 368.1ZM379.9 363.1L382.8 359.2L389.1 363.1L393.4 368.1L396.0 373.1L397.9 378.1L399.4 383.1L400.6 388.1L401.7 393.1L402.5 396.6L403.2 398.1L405.0 403.1L406.4 408.1L407.4 413.1L408.2 418.0L408.8 423.0L409.2 428.0L409.5 433.0L409.6 438.0L409.7 443.0L409.6 448.0L409.5 453.0L409.2 458.0L408.8 463.0L408.3 468.0L407.6 473.0L406.7 478.0L405.6 483.0L404.3 488.0L402.7 493.0L402.5 493.0L402.2 493.0L399.9 488.0L397.8 483.0L395.9 478.0L394.1 473.0L392.2 468.0L390.1 463.0L387.6 458.0L383.9 453.0L382.8 451.9L381.5 448.0L379.9 443.0L378.5 438.0L377.2 433.0L376.0 428.0L375.0 423.0L374.1 418.0L373.5 413.1L373.0 408.1L372.6 403.1L372.5 398.1L372.6 393.1L372.9 388.1L373.4 383.1L374.3 378.1L375.5 373.1L377.3 368.1ZM382.8 367.7L382.6 368.1L380.0 373.1L378.2 378.1L377.0 383.1L376.2 388.1L375.7 393.1L375.5 398.1L375.6 403.1L376.0 408.1L376.5 413.1L377.3 418.0L378.3 423.0L379.6 428.0L381.0 433.0L382.6 438.0L382.8 438.5L394.8 443.0L397.6 448.0L399.1 453.0L400.4 458.0L401.6 463.0L402.5 466.2L402.9 463.0L403.4 458.0L403.8 453.0L403.9 448.0L403.9 443.0L403.7 438.0L403.3 433.0L402.6 428.0L402.5 427.1L401.1 423.0L400.0 418.0L399.2 413.1L398.5 408.1L397.8 403.1L396.9 398.1L395.9 393.1L394.7 388.1L393.1 383.1L390.9 378.1L387.8 373.1L383.2 368.1ZM853.5 378.1L855.8 375.3L857.6 378.1L859.3 383.1L859.9 388.1L859.7 393.1L858.8 398.1L857.1 403.1L855.8 405.6L854.3 403.1L852.3 398.1L851.2 393.1L850.9 388.1L851.5 383.1Z" fill="#2e5950" stroke="#2e5950" stroke-width="0.6" fill-rule="evenodd"/>
<path d="M638.8 13.3L639.0 13.3L640.1 13.3L657.7 18.3L658.7 18.6L659.6 23.3L660.3 28.3L660.8 33.3L661.1 38.3L661.3 43.3L661.4 48.3L661.3 53.3L661.1 58.3L660.8 63.3L660.4 68.3L659.8 73.3L659.1 78.3L658.7 80.9L656.7 83.3L653.7 88.3L651.6 93.2L650.0 98.2L648.4 103.2L646.5 108.2L644.0 113.2L640.6 118.2L639.0 120.0L637.0 118.2L633.2 113.2L630.8 108.2L629.2 103.2L628.1 98.2L627.3 93.2L626.8 88.3L626.4 83.3L626.0 78.3L625.6 73.3L625.3 68.3L625.0 63.3L624.9 58.3L625.1 53.3L625.6 48.3L626.3 43.3L627.3 38.3L628.7 33.3L630.5 28.3L632.7 23.3L635.4 18.3ZM768.3 13.3L775.0 13.3L772.6 18.3L770.5 23.3L768.8 28.3L767.3 33.3L766.1 38.3L765.0 43.3L764.0 48.3L763.0 53.3L762.1 58.3L761.3 63.3L760.8 68.3L760.5 73.3L760.6 78.3L761.0 83.3L761.9 88.3L763.3 93.2L765.3 98.2L767.8 103.2L770.9 108.2L774.7 113.2L776.9 115.7L779.4 113.2L783.4 108.2L786.6 103.2L789.1 98.2L791.0 93.2L792.3 88.3L793.0 83.3L793.4 78.3L793.3 73.3L792.9 68.3L792.2 63.3L791.2 58.3L790.1 53.3L789.0 48.3L787.8 43.3L786.7 38.3L785.4 33.3L784.0 28.3L782.4 23.3L780.6 18.3L778.5 13.3L784.1 13.3L785.8 18.3L787.3 23.3L788.6 28.3L789.8 33.3L790.9 38.3L791.9 43.3L792.9 48.3L793.8 53.3L794.6 58.3L795.2 63.3L795.6 68.3L795.9 73.3L796.0 78.3L796.0 83.3L795.8 88.3L795.3 93.2L794.4 98.2L793.1 103.2L791.1 108.2L788.4 113.2L784.6 118.2L779.2 123.2L776.9 124.8L774.9 123.2L769.9 118.2L766.4 113.2L763.7 108.2L761.6 103.2L760.1 98.2L759.1 93.2L758.4 88.3L758.1 83.3L757.9 78.3L757.9 73.3L758.0 68.3L758.3 63.3L758.6 58.3L759.2 53.3L759.8 48.3L760.5 43.3L761.3 38.3L762.3 33.3L763.5 28.3L764.8 23.3L766.4 18.3ZM518.3 23.3L520.7 19.8L521.1 23.3L521.4 28.3L521.6 33.3L521.5 38.3L521.3 43.3L520.8 48.3L520.7 49.1L518.3 48.3L514.1 43.3L513.7 38.3L514.3 33.3L515.9 28.3ZM481.1 38.3L481.3 35.1L483.5 38.3L485.8 43.3L487.6 48.3L492.7 53.3L501.0 54.2L507.4 58.3L509.6 63.3L510.9 68.3L511.9 73.3L512.7 78.3L513.5 83.3L514.1 88.3L514.5 93.2L514.8 98.2L514.9 103.2L514.8 108.2L514.5 113.2L513.9 118.2L513.0 123.2L511.5 128.2L509.2 133.2L505.6 138.2L501.0 142.4L495.6 138.2L491.6 133.2L489.2 128.2L487.6 123.2L486.6 118.2L485.9 113.2L485.5 108.2L485.3 103.2L485.2 98.2L485.2 93.2L485.3 88.3L485.5 83.3L485.7 78.3L485.9 73.3L485.9 68.3L485.7 63.3L483.9 58.3L481.3 56.6L481.1 53.3L481.0 48.3L481.0 43.3ZM501.0 72.8L500.5 73.3L496.1 78.3L493.4 83.3L491.7 88.3L490.6 93.2L490.0 98.2L489.7 103.2L489.7 108.2L490.2 113.2L491.0 118.2L492.4 123.2L494.7 128.2L498.3 133.2L501.0 135.9L503.4 133.2L506.6 128.2L508.7 123.2L510.0 118.2L510.7 113.2L511.0 108.2L511.0 103.2L510.6 98.2L509.9 93.2L508.7 88.3L507.1 83.3L504.8 78.3L501.4 73.3ZM912.7 38.3L914.9 34.9L916.0 38.3L917.1 43.3L917.8 48.3L918.2 53.3L918.3 58.3L918.1 63.3L917.8 68.3L917.3 73.3L916.7 78.3L916.0 83.3L915.3 88.3L914.9 90.3L911.9 88.3L907.4 83.3L905.1 78.3L904.0 73.3L903.7 68.3L904.1 63.3L905.0 58.3L906.2 53.3L907.9 48.3L910.0 43.3ZM914.9 54.4L914.1 58.3L913.8 63.3L914.2 68.3L914.9 70.6L915.1 68.3L915.2 63.3L915.2 58.3ZM814.1 43.3L816.3 39.8L822.8 43.3L827.8 48.3L829.8 53.3L830.2 58.3L829.4 63.3L827.8 68.3L825.5 73.3L822.6 78.3L818.6 83.3L816.3 85.5L811.9 83.3L807.2 78.3L806.0 73.3L806.0 68.3L806.8 63.3L808.0 58.3L809.6 53.3L811.6 48.3ZM734.0 73.3L737.5 68.4L751.9 73.3L754.5 78.3L755.3 83.3L755.5 88.3L755.3 93.3L754.9 98.2L754.1 103.2L752.8 108.2L750.4 113.2L746.5 118.2L740.2 123.2L737.5 125.0L736.2 123.2L732.6 118.2L729.9 113.2L728.0 108.2L726.9 103.2L726.4 98.2L726.5 93.2L727.2 88.3L728.7 83.3L730.9 78.3ZM737.5 74.7L734.9 78.3L732.0 83.3L730.1 88.3L729.2 93.2L729.0 98.2L729.6 103.2L731.1 108.2L733.5 113.2L737.0 118.2L737.5 118.8L738.4 118.2L744.3 113.2L747.8 108.2L749.8 103.2L750.8 98.2L751.1 93.2L750.5 88.3L748.7 83.3L744.4 78.3ZM599.1 78.3L599.6 77.5L600.5 78.3L603.0 83.3L602.9 88.3L601.2 93.2L599.6 95.8L598.4 93.2L597.3 88.3L597.5 83.3ZM538.0 83.3L540.4 82.0L542.6 83.3L547.7 88.3L550.4 93.2L551.7 98.2L552.2 103.2L552.1 108.2L551.2 113.2L549.1 118.2L544.4 123.2L540.4 125.4L537.7 123.2L533.8 118.2L531.7 113.2L530.6 108.2L530.2 103.2L530.3 98.2L531.2 93.2L533.1 88.3ZM540.4 91.1L538.9 93.2L537.0 98.2L536.4 103.2L536.9 108.2L538.4 113.2L540.4 116.7L543.0 113.2L544.7 108.2L545.0 103.2L544.2 98.2L542.1 93.2ZM953.6 128.2L954.3 126.0L954.3 128.2L954.3 133.2L954.3 134.4L953.1 138.2L951.7 143.2L950.7 148.2L950.2 153.2L950.0 158.2L950.3 163.2L951.3 168.2L953.1 173.2L954.3 175.0L954.3 178.2L954.3 181.1L951.2 178.2L948.9 173.2L947.9 168.2L947.4 163.2L947.3 158.2L947.6 153.2L948.2 148.2L949.2 143.2L950.4 138.2L951.9 133.2ZM933.1 203.2L934.6 200.2L935.8 203.2L936.7 208.2L936.9 213.2L936.3 218.2L934.6 222.9L932.8 218.2L931.8 213.2L931.9 208.2ZM854.9 263.1L855.8 262.6L856.8 263.1L861.0 268.1L860.8 273.1L857.1 278.1L855.8 278.9L854.2 278.1L849.5 273.1L849.7 268.1ZM677.5 283.1L678.4 282.1L679.3 283.1L681.4 288.1L681.8 293.1L681.2 298.1L679.7 303.1L678.4 306.3L676.1 303.1L674.3 298.1L673.9 293.1L674.9 288.1ZM757.1 338.1L757.2 337.9L757.5 338.1L759.8 343.1L759.3 348.1L757.6 353.1L757.2 353.8L756.9 353.1L755.5 348.1L755.4 343.1ZM242.2 368.1L244.8 365.6L250.5 368.1L255.5 373.1L258.1 378.1L259.6 383.1L260.7 388.1L261.4 393.1L262.0 398.1L262.5 403.1L262.8 408.1L263.1 413.1L263.4 418.0L263.7 423.0L263.9 428.0L264.1 433.0L264.2 438.0L264.2 443.0L263.9 448.0L263.0 453.0L260.5 458.0L254.9 463.0L244.8 467.3L243.8 463.0L242.6 458.0L241.3 453.0L240.1 448.0L238.9 443.0L237.8 438.0L236.9 433.0L236.0 428.0L235.3 423.0L234.8 418.0L234.4 413.1L234.2 408.1L234.2 403.1L234.3 398.1L234.7 393.1L235.2 388.1L236.1 383.1L237.3 378.1L239.2 373.1ZM244.8 372.2L244.2 373.1L241.6 378.1L239.9 383.1L238.7 388.1L237.8 393.1L237.4 398.1L237.1 403.1L237.2 408.1L237.4 413.1L237.9 418.0L238.6 423.0L239.5 428.0L240.6 433.0L241.9 438.0L243.3 443.0L244.8 448.0L244.8 448.1L244.9 448.0L249.9 443.0L253.1 438.0L255.1 433.0L256.4 428.0L257.2 423.0L257.7 418.0L257.9 413.1L257.8 408.1L257.6 403.1L257.0 398.1L256.2 393.1L255.0 388.1L253.2 383.1L250.5 378.1L246.0 373.1ZM382.6 368.1L382.8 367.7L383.2 368.1L387.8 373.1L390.9 378.1L393.1 383.1L394.7 388.1L395.9 393.1L396.9 398.1L397.8 403.1L398.5 408.1L399.2 413.1L400.0 418.0L401.1 423.0L402.5 427.1L402.6 428.0L403.3 433.0L403.7 438.0L403.9 443.0L403.9 448.0L403.8 453.0L403.4 458.0L402.9 463.0L402.5 466.2L401.6 463.0L400.4 458.0L399.1 453.0L397.6 448.0L394.8 443.0L382.8 438.5L382.6 438.0L381.0 433.0L379.6 428.0L378.3 423.0L377.3 418.0L376.5 413.0L376.0 408.1L375.6 403.1L375.5 398.1L375.7 393.1L376.2 388.1L377.0 383.1L378.2 378.1L380.0 373.1ZM382.8 376.7L382.2 378.1L380.6 383.1L379.5 388.1L378.8 393.1L378.6 398.1L378.6 403.1L379.0 408.1L379.6 413.1L380.5 418.0L381.7 423.0L382.8 426.9L387.3 423.0L390.0 418.0L391.2 413.1L391.6 408.1L391.5 403.1L391.0 398.1L390.1 393.1L388.7 388.1L386.7 383.1L383.8 378.1Z" fill="#427768" stroke="#427768" stroke-width="0.6" fill-rule="evenodd"/>
<path d="M775.0 13.3L776.9 13.3L778.5 13.3L780.6 18.3L782.4 23.3L784.0 28.3L785.4 33.3L786.7 38.3L787.8 43.3L789.0 48.3L790.1 53.3L791.2 58.3L792.2 63.3L792.9 68.3L793.3 73.3L793.4 78.3L793.0 83.3L792.3 88.3L791.0 93.2L789.1 98.2L786.6 103.2L783.4 108.2L779.4 113.2L776.9 115.7L774.7 113.2L770.9 108.2L767.8 103.2L765.3 98.2L763.3 93.2L761.9 88.3L761.0 83.3L760.6 78.3L760.5 73.3L760.8 68.3L761.3 63.3L762.1 58.3L763.0 53.3L764.0 48.3L765.0 43.3L766.1 38.3L767.3 33.3L768.8 28.3L770.5 23.3L772.6 18.3ZM776.9 21.8L776.2 23.3L774.1 28.3L772.3 33.3L770.8 38.3L769.5 43.3L768.2 48.3L766.9 53.3L765.6 58.3L764.4 63.3L763.6 68.3L763.1 73.3L763.3 78.3L763.9 83.3L765.3 88.3L767.5 93.2L770.4 98.2L774.0 103.2L776.9 107.0L780.1 103.2L783.7 98.2L786.6 93.2L788.8 88.3L790.1 83.3L790.7 78.3L790.7 73.3L790.2 68.3L789.2 63.3L787.9 58.3L786.4 53.3L785.0 48.3L783.7 43.3L782.4 38.3L781.0 33.3L779.4 28.3L777.5 23.3ZM914.1 58.3L914.9 54.4L915.2 58.3L915.2 63.3L915.1 68.3L914.9 70.6L914.2 68.3L913.8 63.3ZM500.5 73.3L501.0 72.8L501.4 73.3L504.8 78.3L507.1 83.3L508.7 88.3L509.9 93.2L510.6 98.2L511.0 103.2L511.0 108.2L510.7 113.2L510.0 118.2L508.7 123.2L506.6 128.2L503.4 133.2L501.0 135.9L498.3 133.2L494.7 128.2L492.4 123.2L491.0 118.2L490.2 113.2L489.7 108.2L489.7 103.2L490.0 98.2L490.6 93.2L491.7 88.3L493.4 83.3L496.1 78.3ZM501.0 83.7L498.1 88.3L496.1 93.2L494.8 98.2L494.1 103.2L494.0 108.2L494.4 113.2L495.5 118.2L497.3 123.2L500.2 128.2L501.0 129.2L501.7 128.2L504.3 123.2L506.0 118.2L506.9 113.2L507.3 108.2L507.1 103.2L506.5 98.2L505.3 93.2L503.4 88.3ZM734.9 78.3L737.5 74.7L744.4 78.3L748.7 83.3L750.5 88.3L751.1 93.2L750.8 98.2L749.8 103.2L747.8 108.2L744.3 113.2L738.4 118.2L737.5 118.8L737.0 118.2L733.5 113.2L731.1 108.2L729.6 103.2L729.0 98.2L729.2 93.2L730.1 88.3L732.0 83.3ZM737.5 79.9L735.2 83.3L733.0 88.3L731.8 93.2L731.6 98.2L732.4 103.2L734.2 108.2L737.2 113.2L737.5 113.7L738.1 113.2L742.8 108.2L745.5 103.2L746.7 98.2L746.8 93.2L745.5 88.3L742.1 83.3ZM538.9 93.2L540.4 91.1L542.1 93.2L544.2 98.2L545.0 103.2L544.7 108.2L543.0 113.2L540.4 116.7L538.4 113.2L536.9 108.2L536.4 103.2L537.0 98.2ZM953.1 138.2L954.3 134.4L954.3 138.2L954.3 143.2L954.3 143.3L953.3 148.2L952.8 153.2L952.7 158.2L953.3 163.2L954.3 167.0L954.3 168.2L954.3 173.2L954.3 175.0L953.1 173.2L951.3 168.2L950.3 163.2L950.0 158.2L950.2 153.2L950.7 148.2L951.7 143.2ZM244.2 373.1L244.8 372.2L246.0 373.1L250.5 378.1L253.2 383.1L255.0 388.1L256.2 393.1L257.0 398.1L257.6 403.1L257.8 408.1L257.9 413.1L257.7 418.0L257.2 423.0L256.4 428.0L255.1 433.0L253.1 438.0L249.9 443.0L244.9 448.0L244.8 448.1L244.8 448.0L243.3 443.0L241.9 438.0L240.6 433.0L239.5 428.0L238.6 423.0L237.9 418.0L237.4 413.1L237.2 408.1L237.1 403.1L237.4 398.1L237.8 393.1L238.7 388.1L239.9 383.1L241.6 378.1ZM244.8 380.2L243.6 383.1L242.1 388.1L241.0 393.1L240.4 398.1L240.1 403.1L240.1 408.1L240.4 413.1L241.0 418.0L241.8 423.0L242.9 428.0L244.3 433.0L244.8 434.9L246.1 433.0L248.9 428.0L250.8 423.0L252.0 418.0L252.6 413.1L252.8 408.1L252.7 403.1L252.1 398.1L251.0 393.1L249.4 388.1L246.9 383.1ZM382.2 378.1L382.8 376.7L383.8 378.1L386.7 383.1L388.7 388.1L390.1 393.1L391.0 398.1L391.5 403.1L391.6 408.1L391.2 413.1L390.0 418.0L387.3 423.0L382.8 426.9L381.7 423.0L380.5 418.0L379.6 413.1L379.0 408.1L378.6 403.1L378.6 398.1L378.8 393.1L379.5 388.1L380.6 383.1ZM382.8 388.1L382.0 393.1L381.6 398.1L381.6 403.1L382.0 408.1L382.7 413.1L382.8 413.7L383.1 413.1L384.7 408.1L385.3 403.1L385.1 398.1L384.3 393.1Z" fill="#569480" stroke="#569480" stroke-width="0.6" fill-rule="evenodd"/>
<path d="M776.2 23.3L776.9 21.8L777.5 23.3L779.4 28.3L781.0 33.3L782.4 38.3L783.7 43.3L785.0 48.3L786.4 53.3L787.9 58.3L789.2 63.3L790.2 68.3L790.7 73.3L790.7 78.3L790.1 83.3L788.8 88.3L786.6 93.2L783.7 98.2L780.1 103.2L776.9 107.0L774.0 103.2L770.4 98.2L767.5 93.2L765.3 88.3L763.9 83.3L763.3 78.3L763.1 73.3L763.6 68.3L764.4 63.3L765.6 58.3L766.9 53.3L768.2 48.3L769.5 43.3L770.8 38.3L772.3 33.3L774.1 28.3ZM776.9 34.4L775.6 38.3L774.0 43.3L772.4 48.3L770.8 53.3L769.1 58.3L767.5 63.3L766.3 68.3L765.8 73.3L765.9 78.3L766.9 83.3L768.8 88.3L771.7 93.2L775.5 98.2L776.9 100.0L778.4 98.2L782.3 93.2L785.2 88.3L787.1 83.3L788.0 78.3L788.1 73.3L787.4 68.3L786.2 63.3L784.5 58.3L782.7 53.3L781.1 48.3L779.6 43.3L778.2 38.3ZM735.2 83.3L737.5 79.9L742.1 83.3L745.5 88.3L746.8 93.2L746.7 98.2L745.5 103.2L742.8 108.2L738.1 113.2L737.5 113.7L737.2 113.2L734.2 108.2L732.4 103.2L731.6 98.2L731.8 93.2L733.0 88.3ZM737.5 85.0L735.8 88.3L734.5 93.2L734.2 98.2L735.2 103.2L737.3 108.2L737.5 108.6L737.9 108.2L741.2 103.2L742.6 98.2L742.5 93.2L740.5 88.3ZM498.1 88.3L501.0 83.7L503.4 88.3L505.3 93.2L506.5 98.2L507.1 103.2L507.3 108.2L506.9 113.2L506.0 118.2L504.3 123.2L501.7 128.2L501.0 129.2L500.2 128.2L497.3 123.2L495.5 118.2L494.4 113.2L494.0 108.2L494.1 103.2L494.8 98.2L496.1 93.2ZM501.0 94.3L499.6 98.2L498.5 103.2L498.2 108.2L498.7 113.2L499.9 118.2L501.0 120.9L502.0 118.2L503.1 113.2L503.5 108.2L503.2 103.2L502.3 98.2ZM953.3 148.2L954.3 143.3L954.3 148.2L954.3 153.2L954.3 158.2L954.3 163.2L954.3 167.0L953.3 163.2L952.7 158.2L952.8 153.2ZM243.6 383.1L244.8 380.2L246.9 383.1L249.4 388.1L251.0 393.1L252.1 398.1L252.7 403.1L252.8 408.1L252.6 413.1L252.0 418.0L250.8 423.0L248.9 428.0L246.1 433.0L244.8 434.9L244.3 433.0L242.9 428.0L241.8 423.0L241.0 418.0L240.4 413.1L240.1 408.1L240.1 403.1L240.4 398.1L241.0 393.1L242.1 388.1ZM244.8 390.6L244.2 393.1L243.4 398.1L243.0 403.1L243.0 408.1L243.4 413.0L244.1 418.0L244.8 421.9L246.2 418.0L247.4 413.1L247.9 408.1L247.8 403.1L247.1 398.1L245.8 393.1ZM382.0 393.1L382.8 388.1L384.3 393.1L385.1 398.1L385.3 403.1L384.7 408.1L383.1 413.1L382.8 413.7L382.7 413.1L382.0 408.1L381.6 403.1L381.6 398.1Z" fill="#6bb499" stroke="#6bb499" stroke-width="0.6" fill-rule="evenodd"/>
<path d="M775.6 38.3L776.9 34.4L778.2 38.3L779.6 43.3L781.1 48.3L782.7 53.3L784.5 58.3L786.2 63.3L787.4 68.3L788.1 73.3L788.0 78.3L787.1 83.3L785.2 88.3L782.3 93.2L778.4 98.2L776.9 100.0L775.5 98.2L771.7 93.2L768.8 88.3L766.9 83.3L765.9 78.3L765.8 73.3L766.3 68.3L767.5 63.3L769.1 58.3L770.8 53.3L772.4 48.3L774.0 43.3ZM776.9 47.5L776.7 48.3L774.7 53.3L772.5 58.3L770.6 63.3L769.1 68.3L768.4 73.3L768.6 78.3L769.8 83.3L772.2 88.3L775.9 93.2L776.9 94.5L778.0 93.2L781.7 88.3L784.1 83.3L785.3 78.3L785.5 73.3L784.7 68.3L783.2 63.3L781.2 58.3L779.1 53.3L777.2 48.3ZM735.8 88.3L737.5 85.0L740.5 88.3L742.5 93.2L742.6 98.2L741.2 103.2L737.9 108.2L737.5 108.6L737.3 108.2L735.2 103.2L734.2 98.2L734.5 93.2ZM737.5 91.9L737.1 93.2L736.9 98.2L737.5 101.4L738.5 98.2L738.2 93.3ZM499.6 98.2L501.0 94.3L502.3 98.2L503.2 103.2L503.5 108.2L503.1 113.2L502.0 118.2L501.0 120.9L499.9 118.2L498.7 113.2L498.2 108.2L498.5 103.2ZM244.2 393.1L244.8 390.6L245.8 393.1L247.1 398.1L247.8 403.1L247.9 408.1L247.4 413.1L246.2 418.0L244.8 421.9L244.1 418.0L243.4 413.1L243.0 408.1L243.0 403.1L243.4 398.1Z" fill="#81d7ae" stroke="#81d7ae" stroke-width="0.6" fill-rule="evenodd"/>
<path d="M776.7 48.3L776.9 47.5L777.2 48.3L779.1 53.3L781.2 58.3L783.2 63.3L784.7 68.3L785.5 73.3L785.3 78.3L784.1 83.3L781.7 88.3L778.0 93.2L776.9 94.5L775.9 93.2L772.2 88.3L769.8 83.3L768.6 78.3L768.4 73.3L769.1 68.3L770.6 63.3L772.5 58.3L774.7 53.3ZM776.9 56.4L776.0 58.3L773.6 63.3L771.8 68.3L771.0 73.3L771.2 78.3L772.7 83.3L775.7 88.3L776.9 89.9L778.2 88.3L781.2 83.3L782.7 78.3L782.9 73.3L782.0 68.3L780.2 63.3L777.8 58.3ZM737.1 93.2L737.5 91.9L738.2 93.2L738.5 98.2L737.5 101.4L736.9 98.2Z" fill="#97ecc0" stroke="#97ecc0" stroke-width="0.6" fill-rule="evenodd"/>
<path d="M776.0 58.3L776.9 56.4L777.8 58.3L780.2 63.3L782.0 68.3L782.9 73.3L782.7 78.3L781.2 83.3L778.2 88.3L776.9 89.9L775.7 88.3L772.7 83.3L771.2 78.3L771.0 73.3L771.8 68.3L773.6 63.3ZM776.9 62.8L776.7 63.3L774.6 68.3L773.6 73.3L773.9 78.3L775.7 83.3L776.9 85.3L778.2 83.3L780.0 78.3L780.3 73.3L779.3 68.3L777.2 63.3Z" fill="#acf8cf" stroke="#acf8cf" stroke-width="0.6" fill-rule="evenodd"/>
<path d="M776.7 63.3L776.9 62.8L777.2 63.3L779.3 68.3L780.3 73.3L780.0 78.3L778.2 83.3L776.9 85.3L775.7 83.3L773.9 78.3L773.6 73.3L774.6 68.3Z" fill="#acf8cf" stroke="#acf8cf" stroke-width="0.6" fill-rule="evenodd"/>
<line x1="166.0" x2="954.3" y1="93.25" y2="93.25" stroke="#fff" stroke-width="4.4"/>
<line x1="166.0" x2="954.3" y1="413.05" y2="413.05" stroke="#fff" stroke-width="4.4"/>
<line x1="583.4" x2="583.4" y1="13.3" y2="493.0" stroke="#fff" stroke-width="4.6" stroke-dasharray="4.5 7.19" stroke-dashoffset="4.4"/>
<rect x="166.0" y="13.3" width="788.3" height="479.7" fill="none" stroke="#000" stroke-width="2.3"/>
<line x1="155.8" x2="166.0" y1="13.30" y2="13.30" stroke="#000" stroke-width="2.3"/>
<text x="148.3" y="26.10" font-size="35" text-anchor="end" font-family="DejaVu Serif, Liberation Serif, serif" fill="#000"><tspan font-style="italic">π</tspan>/2</text>
<line x1="155.8" x2="166.0" y1="93.25" y2="93.25" stroke="#000" stroke-width="2.3"/>
<text x="148.3" y="106.05" font-size="35" text-anchor="end" font-family="DejaVu Serif, Liberation Serif, serif" fill="#000"><tspan font-style="italic">π</tspan>/3</text>
<line x1="155.8" x2="166.0" y1="253.15" y2="253.15" stroke="#000" stroke-width="2.3"/>
<text x="148.3" y="265.95" font-size="35" text-anchor="end" font-family="DejaVu Serif, Liberation Serif, serif" fill="#000">0</text>
<line x1="155.8" x2="166.0" y1="413.05" y2="413.05" stroke="#000" stroke-width="2.3"/>
<text x="148.3" y="425.85" font-size="35" text-anchor="end" font-family="DejaVu Serif, Liberation Serif, serif" fill="#000">−<tspan font-style="italic">π</tspan>/3</text>
<line x1="155.8" x2="166.0" y1="493.00" y2="493.00" stroke="#000" stroke-width="2.3"/>
<text x="148.3" y="505.80" font-size="35" text-anchor="end" font-family="DejaVu Serif, Liberation Serif, serif" fill="#000">−<tspan font-style="italic">π</tspan>/2</text>
<line x1="166.00" x2="166.00" y1="493.0" y2="503.2" stroke="#000" stroke-width="2.3"/>
<text x="166.00" y="540.3" font-size="35" text-anchor="middle" font-family="DejaVu Serif, Liberation Serif, serif" fill="#000">0.0</text>
<line x1="323.66" x2="323.66" y1="493.0" y2="503.2" stroke="#000" stroke-width="2.3"/>
<text x="323.66" y="540.3" font-size="35" text-anchor="middle" font-family="DejaVu Serif, Liberation Serif, serif" fill="#000">0.2</text>
<line x1="481.32" x2="481.32" y1="493.0" y2="503.2" stroke="#000" stroke-width="2.3"/>
<text x="481.32" y="540.3" font-size="35" text-anchor="middle" font-family="DejaVu Serif, Liberation Serif, serif" fill="#000">0.4</text>
<line x1="638.98" x2="638.98" y1="493.0" y2="503.2" stroke="#000" stroke-width="2.3"/>
<text x="638.98" y="540.3" font-size="35" text-anchor="middle" font-family="DejaVu Serif, Liberation Serif, serif" fill="#000">0.6</text>
<line x1="796.64" x2="796.64" y1="493.0" y2="503.2" stroke="#000" stroke-width="2.3"/>
<text x="796.64" y="540.3" font-size="35" text-anchor="middle" font-family="DejaVu Serif, Liberation Serif, serif" fill="#000">0.8</text>
<line x1="954.30" x2="954.30" y1="493.0" y2="503.2" stroke="#000" stroke-width="2.3"/>
<text x="954.30" y="540.3" font-size="35" text-anchor="middle" font-family="DejaVu Serif, Liberation Serif, serif" fill="#000">1.0</text>
<text x="38" y="245.3" font-size="35" text-anchor="middle" font-style="italic" font-family="DejaVu Serif, Liberation Serif, serif" fill="#000">θ</text>
<text x="532.8" y="584.6" font-size="35" font-style="italic" font-family="DejaVu Serif, Liberation Serif, serif" fill="#000">t<tspan font-style="normal">/</tspan>t<tspan font-size="24.5" dy="5.8">η</tspan></text>
<text x="-1.8" y="45.3" font-size="41.6" font-family="DejaVu Serif, Liberation Serif, serif" fill="#000">(a)</text>
<text x="-1.3" y="664.3" font-size="41.6" textLength="317.4" lengthAdjust="spacing" font-family="DejaVu Serif, Liberation Serif, serif" fill="#000">(b): Simulation</text>
<text x="-1.6" y="1239.3" font-size="41.6" textLength="230.4" lengthAdjust="spacing" font-family="DejaVu Serif, Liberation Serif, serif" fill="#000">(c): Jupiter</text>
<rect x="1004.0" y="12.60" width="23.40000000000009" height="25.82" fill="#acf8cf"/>
<rect x="1004.0" y="37.92" width="23.40000000000009" height="25.82" fill="#97ecc0"/>
<rect x="1004.0" y="63.23" width="23.40000000000009" height="25.82" fill="#81d7ae"/>
<rect x="1004.0" y="88.55" width="23.40000000000009" height="25.82" fill="#6bb499"/>
<rect x="1004.0" y="113.86" width="23.40000000000009" height="25.82" fill="#569480"/>
<rect x="1004.0" y="139.18" width="23.40000000000009" height="25.82" fill="#427768"/>
<rect x="1004.0" y="164.49" width="23.40000000000009" height="25.82" fill="#2e5950"/>
<rect x="1004.0" y="189.81" width="23.40000000000009" height="25.82" fill="#1f3c3b"/>
<rect x="1004.0" y="215.13" width="23.40000000000009" height="25.82" fill="#132022"/>
<rect x="1004.0" y="240.44" width="23.40000000000009" height="25.82" fill="#0c0c0c"/>
<rect x="1004.0" y="265.76" width="23.40000000000009" height="25.82" fill="#3c1e09"/>
<rect x="1004.0" y="291.07" width="23.40000000000009" height="25.82" fill="#6f3507"/>
<rect x="1004.0" y="316.39" width="23.40000000000009" height="25.82" fill="#9c4c09"/>
<rect x="1004.0" y="341.71" width="23.40000000000009" height="25.82" fill="#c86816"/>
<rect x="1004.0" y="367.02" width="23.40000000000009" height="25.82" fill="#ec8528"/>
<rect x="1004.0" y="392.34" width="23.40000000000009" height="25.82" fill="#f39840"/>
<rect x="1004.0" y="417.65" width="23.40000000000009" height="25.82" fill="#f6a753"/>
<rect x="1004.0" y="442.97" width="23.40000000000009" height="25.82" fill="#f8b568"/>
<rect x="1004.0" y="468.28" width="23.40000000000009" height="25.82" fill="#f9c27d"/>
<rect x="1004.0" y="12.6" width="23.40000000000009" height="481.0" fill="none" stroke="#000" stroke-width="2.3"/>
<line x1="1027.4" x2="1037.9" y1="91.90" y2="91.90" stroke="#000" stroke-width="2.3"/>
<text x="1047.6" y="105.10" font-size="35" font-family="DejaVu Serif, Liberation Serif, serif" fill="#000">0.008</text>
<line x1="1027.4" x2="1037.9" y1="172.50" y2="172.50" stroke="#000" stroke-width="2.3"/>
<text x="1047.6" y="185.70" font-size="35" font-family="DejaVu Serif, Liberation Serif, serif" fill="#000">0.004</text>
<line x1="1027.4" x2="1037.9" y1="253.10" y2="253.10" stroke="#000" stroke-width="2.3"/>
<text x="1047.6" y="266.30" font-size="35" font-family="DejaVu Serif, Liberation Serif, serif" fill="#000">0.000</text>
<line x1="1027.4" x2="1037.9" y1="333.70" y2="333.70" stroke="#000" stroke-width="2.3"/>
<text x="1047.6" y="346.90" font-size="35" font-family="DejaVu Serif, Liberation Serif, serif" fill="#000">−0.004</text>
<line x1="1027.4" x2="1037.9" y1="414.30" y2="414.30" stroke="#000" stroke-width="2.3"/>
<text x="1047.6" y="427.50" font-size="35" font-family="DejaVu Serif, Liberation Serif, serif" fill="#000">−0.008</text>
<clipPath id="clb"><ellipse cx="560.2" cy="828.4" rx="394.2" ry="197.1"/></clipPath><g clip-path="url(#clb)"><g filter="url(#cm)"><rect x="146.00000000000006" y="611.3" width="828.4" height="434.2" fill="#808080"/><linearGradient id="gbl" gradientUnits="userSpaceOnUse" x1="0" y1="780" x2="0" y2="1030"><stop offset="0.000" stop-color="#525252"/><stop offset="0.148" stop-color="#525252"/><stop offset="0.200" stop-color="#6b6b6b"/><stop offset="0.300" stop-color="#757575"/><stop offset="0.400" stop-color="#737373"/><stop offset="0.500" stop-color="#6e6e6e"/><stop offset="0.600" stop-color="#636363"/><stop offset="0.680" stop-color="#585858"/><stop offset="0.752" stop-color="#4b4b4b"/><stop offset="0.840" stop-color="#404040"/><stop offset="1.000" stop-color="#3d3d3d"/></linearGradient>
<rect x="146.00000000000006" y="770" width="828.4000000000001" height="280" fill="url(#gbl)"/>
<ellipse cx="192" cy="858" rx="34" ry="40" fill="#5b5b5b" filter="url(#b13)"/>
<ellipse cx="250" cy="836" rx="75" ry="14" fill="#595959" filter="url(#b13)"/>
<ellipse cx="915" cy="862" rx="46" ry="40" fill="#585858" filter="url(#b13)"/>
<ellipse cx="830" cy="880" rx="60" ry="22" fill="#666666" filter="url(#b18)"/>
<ellipse cx="290" cy="890" rx="50" ry="16" fill="#6a6a6a" filter="url(#b18)"/>
<ellipse cx="262" cy="952" rx="70" ry="30" fill="#676767" filter="url(#b18)" transform="rotate(27 262 952)" opacity="0.85"/>
<ellipse cx="770" cy="918" rx="90" ry="24" fill="#6b6b6b" filter="url(#b18)" opacity="0.85"/>
<ellipse cx="880" cy="955" rx="60" ry="26" fill="#606060" filter="url(#b18)" transform="rotate(-30 880 955)"/>
<ellipse cx="335" cy="968" rx="100" ry="26" fill="#656565" filter="url(#b18)" transform="rotate(20 335 968)"/>
<ellipse cx="805" cy="964" rx="100" ry="26" fill="#636363" filter="url(#b18)" transform="rotate(-20 805 964)"/>
<ellipse cx="420" cy="1000" rx="40" ry="10" fill="#4c4c4c" filter="url(#b13)" transform="rotate(12 420 1000)"/>
<ellipse cx="730" cy="998" rx="40" ry="10" fill="#4a4a4a" filter="url(#b13)" transform="rotate(-12 730 998)"/>
<ellipse cx="575" cy="1024" rx="150" ry="26" fill="#333333" filter="url(#b18)"/>
<ellipse cx="595" cy="1030" rx="100" ry="30" fill="#040404" filter="url(#b18)"/>
<ellipse cx="640" cy="1008" rx="50" ry="13" fill="#262626" filter="url(#b13)"/>
<ellipse cx="500" cy="1012" rx="45" ry="12" fill="#333333" filter="url(#b13)"/>
<ellipse cx="620" cy="808" rx="120" ry="8" fill="#4a4a4a" filter="url(#b6)"/>
<ellipse cx="600" cy="838" rx="200" ry="12" fill="#7e7e7e" filter="url(#b9)"/>
<ellipse cx="443" cy="842" rx="50" ry="10" fill="#838383" filter="url(#b6)"/>
<ellipse cx="580" cy="839" rx="110" ry="10" fill="#838383" filter="url(#b6)"/>
<ellipse cx="700" cy="836" rx="70" ry="9" fill="#828282" filter="url(#b6)"/>
<ellipse cx="870" cy="832" rx="80" ry="9" fill="#7a7a7a" filter="url(#b6)"/>
<ellipse cx="330" cy="850" rx="90" ry="12" fill="#737373" filter="url(#b13)"/>
<ellipse cx="780" cy="808" rx="20" ry="16" fill="#7d7d7d" filter="url(#b6)"/>
<path d="M146.00000000000006 600 L146.00000000000006 812 L170 810.5 L227 808.3 L277 807.5 L343 805.8 L360 803.8 L435 801 L510 797.5 L585 792.5 L635 790 L660 791 L710 789 L747 784 L780 786 L790 797 L800 812 L820 820 L860 817.5 L910 814 L927 808 L918 766 L937 806 L947 815 L974.4000000000001 816 L974.4000000000001 600Z" fill="#a8a8a8" filter="url(#b4)"/>
<ellipse cx="575" cy="640" rx="220" ry="26" fill="#bfbfbf" filter="url(#b18)"/>
<ellipse cx="560" cy="660" rx="330" ry="26" fill="#b2b2b2" filter="url(#b18)"/>
<ellipse cx="258" cy="714" rx="55" ry="20" fill="#bfbfbf" filter="url(#b13)" transform="rotate(-27 258 714)"/>
<ellipse cx="215" cy="770" rx="30" ry="18" fill="#b2b2b2" filter="url(#b13)"/>
<ellipse cx="300" cy="745" rx="40" ry="10" fill="#9e9e9e" filter="url(#b9)" transform="rotate(-25 300 745)"/>
<ellipse cx="380" cy="700" rx="40" ry="10" fill="#a3a3a3" filter="url(#b9)" transform="rotate(-15 380 700)"/>
<ellipse cx="540" cy="738" rx="215" ry="42" fill="#909090" filter="url(#b18)"/>
<ellipse cx="615" cy="722" rx="115" ry="36" fill="#8c8c8c" filter="url(#b18)"/>
<ellipse cx="440" cy="748" rx="70" ry="26" fill="#888888" filter="url(#b13)"/>
<ellipse cx="380" cy="738" rx="70" ry="30" fill="#969696" filter="url(#b18)"/>
<ellipse cx="540" cy="750" rx="120" ry="20" fill="#868686" filter="url(#b13)"/>
<path d="M175 792 L300 788 L460 781 L600 774" fill="none" stroke="#b2b2b2" stroke-width="13" stroke-linecap="round" stroke-linejoin="round" filter="url(#b6)"/>
<ellipse cx="770" cy="742" rx="110" ry="34" fill="#c9c9c9" filter="url(#b18)" transform="rotate(-25 770 742)"/>
<path d="M600 774 L680 769 L735 760 L775 735 L810 708" fill="none" stroke="#e6e6e6" stroke-width="20" stroke-linecap="round" stroke-linejoin="round" filter="url(#b13)"/>
<path d="M700 768 L745 760 L778 738 L795 722" fill="none" stroke="#ffffff" stroke-width="14" stroke-linecap="round" stroke-linejoin="round" filter="url(#b6)"/>
<ellipse cx="745" cy="756" rx="34" ry="12" fill="#f9f9f9" filter="url(#b9)" transform="rotate(-18 745 756)"/>
<ellipse cx="615" cy="775" rx="12" ry="6" fill="#d9d9d9" filter="url(#b4)"/>
<ellipse cx="648" cy="770" rx="14" ry="6" fill="#d9d9d9" filter="url(#b4)"/>
<path d="M805 748 L848 718" fill="none" stroke="#ececec" stroke-width="11" stroke-linecap="round" stroke-linejoin="round" filter="url(#b6)"/>
<path d="M878 728 L903 714" fill="none" stroke="#dfdfdf" stroke-width="8" stroke-linecap="round" stroke-linejoin="round" filter="url(#b4)"/>
<ellipse cx="870" cy="780" rx="50" ry="24" fill="#adadad" filter="url(#b18)"/>
<ellipse cx="905" cy="700" rx="30" ry="14" fill="#bfbfbf" filter="url(#b9)" transform="rotate(30 905 700)"/>
<path d="M470 752 L505 733 L530 722 L547 706" fill="none" stroke="#525252" stroke-width="10" stroke-linecap="round" stroke-linejoin="round" filter="url(#b4)"/>
<ellipse cx="522" cy="722" rx="17" ry="8" fill="#595959" filter="url(#b4)" transform="rotate(-35 522 722)"/>
<ellipse cx="735" cy="821" rx="15" ry="6" fill="#999999" filter="url(#b2_5)"/>
<path d="M928 868 L919 888" fill="none" stroke="#868686" stroke-width="5" stroke-linecap="round" stroke-linejoin="round" filter="url(#b1_5)"/></g></g>
<ellipse cx="560.2" cy="828.4" rx="394.2" ry="197.1" fill="none" stroke="#000" stroke-width="2.3"/>
<rect x="1004.0" y="588.6" width="23.40000000000009" height="479.9999999999999" fill="url(#gb)" stroke="#000" stroke-width="2.3"/>
<line x1="1027.4" x2="1037.9" y1="621.90" y2="621.90" stroke="#000" stroke-width="2.3"/>
<text x="1047.6" y="635.10" font-size="35" font-family="DejaVu Serif, Liberation Serif, serif" fill="#000">0.0008</text>
<line x1="1027.4" x2="1037.9" y1="725.35" y2="725.35" stroke="#000" stroke-width="2.3"/>
<text x="1047.6" y="738.55" font-size="35" font-family="DejaVu Serif, Liberation Serif, serif" fill="#000">0.0004</text>
<line x1="1027.4" x2="1037.9" y1="828.80" y2="828.80" stroke="#000" stroke-width="2.3"/>
<text x="1047.6" y="842.00" font-size="35" font-family="DejaVu Serif, Liberation Serif, serif" fill="#000">0.0000</text>
<line x1="1027.4" x2="1037.9" y1="932.25" y2="932.25" stroke="#000" stroke-width="2.3"/>
<text x="1047.6" y="945.45" font-size="35" font-family="DejaVu Serif, Liberation Serif, serif" fill="#000">−0.0004</text>
<line x1="1027.4" x2="1037.9" y1="1035.70" y2="1035.70" stroke="#000" stroke-width="2.3"/>
<text x="1047.6" y="1048.90" font-size="35" font-family="DejaVu Serif, Liberation Serif, serif" fill="#000">−0.0008</text>
<clipPath id="clc"><ellipse cx="560.2" cy="1404.7" rx="394.2" ry="197.1"/></clipPath><g clip-path="url(#clc)"><g filter="url(#cm)"><rect x="146.00000000000006" y="1187.6000000000001" width="828.4" height="434.2" fill="#808080"/><linearGradient id="gcl" gradientUnits="userSpaceOnUse" x1="0" y1="1400" x2="0" y2="1610"><stop offset="0.000" stop-color="#737373"/><stop offset="0.167" stop-color="#6f6f6f"/><stop offset="0.310" stop-color="#6a6a6a"/><stop offset="0.476" stop-color="#666666"/><stop offset="0.714" stop-color="#5d5d5d"/><stop offset="0.881" stop-color="#505050"/><stop offset="1.000" stop-color="#494949"/></linearGradient>
<rect x="146.00000000000006" y="1340" width="828.4000000000001" height="300" fill="url(#gcl)"/>
<ellipse cx="225" cy="1470" rx="60" ry="24" fill="#525252" filter="url(#b13)" transform="rotate(18 225 1470)"/>
<ellipse cx="900" cy="1462" rx="50" ry="22" fill="#575757" filter="url(#b13)" transform="rotate(-18 900 1462)"/>
<ellipse cx="330" cy="1532" rx="60" ry="14" fill="#555555" filter="url(#b13)" transform="rotate(22 330 1532)"/>
<ellipse cx="800" cy="1535" rx="50" ry="12" fill="#595959" filter="url(#b13)" transform="rotate(-25 800 1535)"/>
<ellipse cx="353" cy="1472" rx="40" ry="14" fill="#707070" filter="url(#b9)" transform="rotate(10 353 1472)"/>
<ellipse cx="647" cy="1487" rx="45" ry="14" fill="#717171" filter="url(#b9)" transform="rotate(-10 647 1487)"/>
<ellipse cx="470" cy="1505" rx="50" ry="12" fill="#6e6e6e" filter="url(#b9)" transform="rotate(15 470 1505)"/>
<ellipse cx="560" cy="1468" rx="40" ry="10" fill="#6f6f6f" filter="url(#b9)"/>
<ellipse cx="760" cy="1472" rx="50" ry="16" fill="#6f6f6f" filter="url(#b9)" transform="rotate(-15 760 1472)"/>
<ellipse cx="700" cy="1530" rx="50" ry="14" fill="#6b6b6b" filter="url(#b9)" transform="rotate(-20 700 1530)"/>
<ellipse cx="430" cy="1552" rx="50" ry="12" fill="#525252" filter="url(#b9)" transform="rotate(10 430 1552)"/>
<ellipse cx="610" cy="1552" rx="40" ry="12" fill="#666666" filter="url(#b9)" transform="rotate(-10 610 1552)"/>
<ellipse cx="545" cy="1522" rx="40" ry="10" fill="#595959" filter="url(#b9)"/>
<ellipse cx="300" cy="1508" rx="40" ry="12" fill="#6a6a6a" filter="url(#b9)" transform="rotate(25 300 1508)"/>
<ellipse cx="800" cy="1500" rx="40" ry="12" fill="#6e6e6e" filter="url(#b9)" transform="rotate(-30 800 1500)"/>
<ellipse cx="590" cy="1585" rx="26" ry="12" fill="#595959" filter="url(#b9)"/>
<ellipse cx="520" cy="1598" rx="150" ry="16" fill="#444444" filter="url(#b13)"/>
<path d="M146.00000000000006 1150 L146.00000000000006 1429 L180 1428 L360 1428 L440 1431 L500 1436 L560 1436 L600 1430 L660 1426 L700 1420 L714 1410 L720 1388 L738 1378 L800 1376 L850 1374 L866 1380 L858 1396 L830 1404 L818 1420 L836 1428 L900 1428 L974.4000000000001 1430 L974.4000000000001 1150Z" fill="#909090" filter="url(#b9)"/>
<ellipse cx="500" cy="1230" rx="200" ry="18" fill="#a6a6a6" filter="url(#b13)"/>
<ellipse cx="330" cy="1392" rx="130" ry="20" fill="#989898" filter="url(#b18)"/>
<ellipse cx="690" cy="1380" rx="60" ry="18" fill="#969696" filter="url(#b13)"/>
<ellipse cx="560" cy="1400" rx="80" ry="14" fill="#999999" filter="url(#b13)"/>
<ellipse cx="340" cy="1275" rx="48" ry="13" fill="#f5f5f5" filter="url(#b9)" transform="rotate(-22 340 1275)"/>
<path d="M300 1292 L345 1272 L400 1265 L470 1266 L520 1276" fill="none" stroke="#c6c6c6" stroke-width="20" stroke-linecap="round" stroke-linejoin="round" filter="url(#b9)"/>
<path d="M480 1266 L545 1282 L595 1304" fill="none" stroke="#e6e6e6" stroke-width="20" stroke-linecap="round" stroke-linejoin="round" filter="url(#b9)"/>
<ellipse cx="606" cy="1306" rx="66" ry="22" fill="#d9d9d9" filter="url(#b13)" transform="rotate(20 606 1306)"/>
<ellipse cx="628" cy="1315" rx="50" ry="17" fill="#ffffff" filter="url(#b9)" transform="rotate(6 628 1315)"/>
<ellipse cx="705" cy="1316" rx="44" ry="9" fill="#b2b2b2" filter="url(#b9)" transform="rotate(-8 705 1316)"/>
<path d="M610 1256 L700 1268 L765 1288 L805 1306" fill="none" stroke="#b8b8b8" stroke-width="15" stroke-linecap="round" stroke-linejoin="round" filter="url(#b9)"/>
<ellipse cx="600" cy="1372" rx="110" ry="22" fill="#878787" filter="url(#b13)"/>
<ellipse cx="250" cy="1304" rx="40" ry="10" fill="#838383" filter="url(#b9)" transform="rotate(-20 250 1304)"/>
<ellipse cx="400" cy="1338" rx="130" ry="14" fill="#858585" filter="url(#b9)"/>
<path d="M322 1326 L380 1318 L420 1312 L484 1312" fill="none" stroke="#707070" stroke-width="16" stroke-linecap="round" stroke-linejoin="round" filter="url(#b9)"/>
<ellipse cx="415" cy="1312" rx="45" ry="9" fill="#737373" filter="url(#b9)"/>
<ellipse cx="773" cy="1343" rx="14" ry="8" fill="#808080" filter="url(#b6)"/>
<ellipse cx="880" cy="1330" rx="40" ry="40" fill="#8c8c8c" filter="url(#b18)"/>
<ellipse cx="770" cy="1413" rx="34" ry="31" fill="#404040" filter="url(#b9)"/>
<ellipse cx="770" cy="1415" rx="21" ry="21" fill="#040404" filter="url(#b9)"/>
<ellipse cx="838" cy="1389" rx="30" ry="11" fill="#737373" filter="url(#b9)" transform="rotate(-8 838 1389)"/></g></g>
<ellipse cx="560.2" cy="1404.7" rx="394.2" ry="197.1" fill="none" stroke="#000" stroke-width="2.3"/>
<rect x="1004.0" y="1164.2" width="23.40000000000009" height="480.39999999999986" fill="url(#gc)" stroke="#000" stroke-width="2.3"/>
<line x1="1027.4" x2="1037.9" y1="1178.10" y2="1178.10" stroke="#000" stroke-width="2.3"/>
<text x="1047.6" y="1191.30" font-size="35" font-family="DejaVu Serif, Liberation Serif, serif" fill="#000">0.0030</text>
<line x1="1027.4" x2="1037.9" y1="1291.40" y2="1291.40" stroke="#000" stroke-width="2.3"/>
<text x="1047.6" y="1304.60" font-size="35" font-family="DejaVu Serif, Liberation Serif, serif" fill="#000">0.0015</text>
<line x1="1027.4" x2="1037.9" y1="1404.70" y2="1404.70" stroke="#000" stroke-width="2.3"/>
<text x="1047.6" y="1417.90" font-size="35" font-family="DejaVu Serif, Liberation Serif, serif" fill="#000">0.0000</text>
<line x1="1027.4" x2="1037.9" y1="1518.00" y2="1518.00" stroke="#000" stroke-width="2.3"/>
<text x="1047.6" y="1531.20" font-size="35" font-family="DejaVu Serif, Liberation Serif, serif" fill="#000">−0.0015</text>
<line x1="1027.4" x2="1037.9" y1="1631.30" y2="1631.30" stroke="#000" stroke-width="2.3"/>
<text x="1047.6" y="1644.50" font-size="35" font-family="DejaVu Serif, Liberation Serif, serif" fill="#000">−0.0030</text>
</svg>
</body></html>
